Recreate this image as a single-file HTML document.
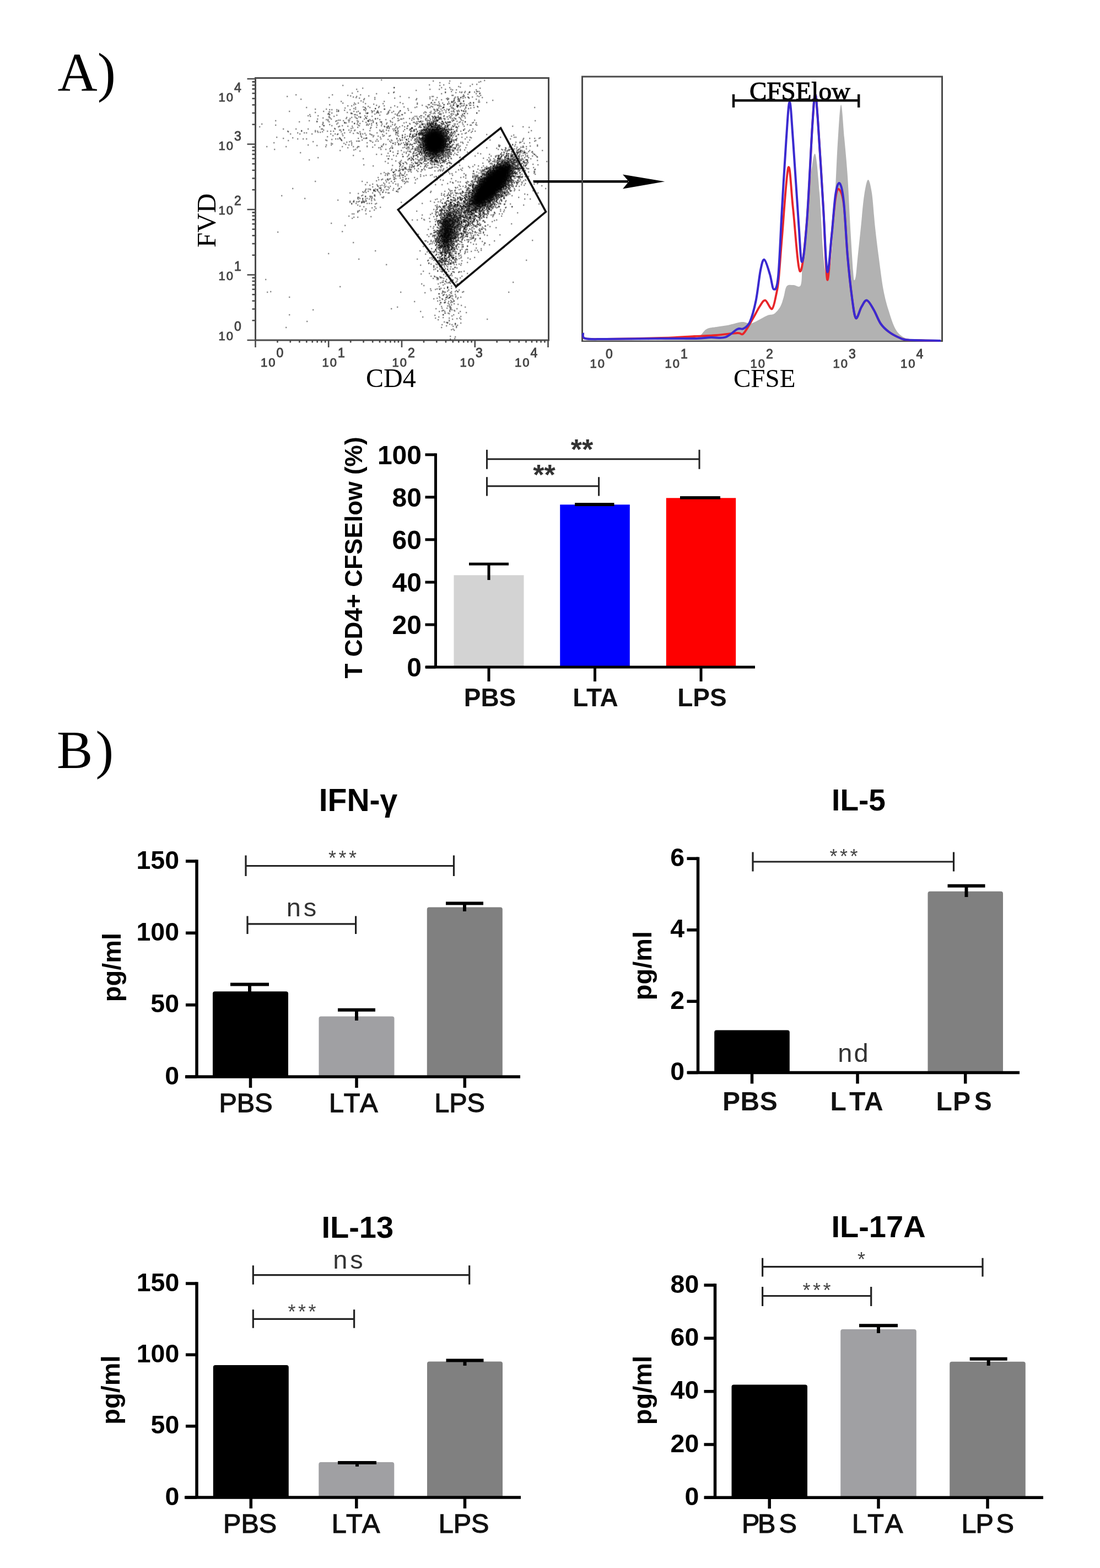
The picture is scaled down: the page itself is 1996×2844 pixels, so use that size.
<!DOCTYPE html>
<html><head><meta charset="utf-8"><title>Figure</title>
<style>html,body{margin:0;padding:0;background:#fff;overflow:hidden;}svg{display:block;}</style>
</head><body>
<svg width="1996" height="2844" viewBox="0 0 1996 2844">
<rect width="1996" height="2844" fill="#fff"/>
<text x="104.5" y="165.0" font-family="'Liberation Serif', 'Times New Roman', serif" font-size="100.0" font-weight="normal" fill="#000" text-anchor="start" >A)</text>
<text x="103.0" y="1392.6" font-family="'Liberation Serif', 'Times New Roman', serif" font-size="98.0" font-weight="normal" fill="#000" text-anchor="start" >B<tspan dx="5">)</tspan></text>
<rect x="463.5" y="141.5" width="532.0" height="475.5" fill="none" stroke="#4a4a4a" stroke-width="3"/>
<path d="M448.5 617.0H463.5 M457.5 581.3H463.5 M457.5 560.5H463.5 M457.5 545.7H463.5 M457.5 534.2H463.5 M457.5 524.8H463.5 M457.5 516.9H463.5 M457.5 510.0H463.5 M457.5 503.9H463.5 M448.5 498.5H463.5 M457.5 462.8H463.5 M457.5 442.0H463.5 M457.5 427.2H463.5 M457.5 415.7H463.5 M457.5 406.3H463.5 M457.5 398.4H463.5 M457.5 391.5H463.5 M457.5 385.4H463.5 M448.5 380.0H463.5 M457.5 344.3H463.5 M457.5 323.5H463.5 M457.5 308.7H463.5 M457.5 297.2H463.5 M457.5 287.8H463.5 M457.5 279.9H463.5 M457.5 273.0H463.5 M457.5 266.9H463.5 M448.5 261.5H463.5 M457.5 225.8H463.5 M457.5 205.0H463.5 M457.5 190.2H463.5 M457.5 178.7H463.5 M457.5 169.3H463.5 M457.5 161.4H463.5 M457.5 154.5H463.5 M457.5 148.4H463.5 M448.5 143.0H463.5 M463.5 617.0V630.0 M503.5 617.0V621.5 M526.8 617.0V621.5 M543.4 617.0V621.5 M556.3 617.0V621.5 M566.8 617.0V621.5 M575.7 617.0V621.5 M583.4 617.0V621.5 M590.2 617.0V621.5 M596.2 617.0V630.0 M636.2 617.0V621.5 M659.6 617.0V621.5 M676.2 617.0V621.5 M689.0 617.0V621.5 M699.5 617.0V621.5 M708.4 617.0V621.5 M716.1 617.0V621.5 M722.9 617.0V621.5 M729.0 617.0V630.0 M769.0 617.0V621.5 M792.3 617.0V621.5 M808.9 617.0V621.5 M821.8 617.0V621.5 M832.3 617.0V621.5 M841.2 617.0V621.5 M848.9 617.0V621.5 M855.7 617.0V621.5 M861.8 617.0V630.0 M901.7 617.0V621.5 M925.1 617.0V621.5 M941.7 617.0V621.5 M954.5 617.0V621.5 M965.0 617.0V621.5 M973.9 617.0V621.5 M981.6 617.0V621.5 M988.4 617.0V621.5 M994.5 617.0V630.0" stroke="#4a4a4a" stroke-width="2.6" fill="none"/>
<text x="396.5" y="184.0" font-family="'Liberation Sans', Arial, sans-serif" font-size="22.0" fill="#444" stroke="#444" stroke-width="0.9" letter-spacing="2">10<tspan dy="-17" font-size="23.0">4</tspan></text>
<text x="396.5" y="272.0" font-family="'Liberation Sans', Arial, sans-serif" font-size="22.0" fill="#444" stroke="#444" stroke-width="0.9" letter-spacing="2">10<tspan dy="-17" font-size="23.0">3</tspan></text>
<text x="396.5" y="388.5" font-family="'Liberation Sans', Arial, sans-serif" font-size="22.0" fill="#444" stroke="#444" stroke-width="0.9" letter-spacing="2">10<tspan dy="-17" font-size="23.0">2</tspan></text>
<text x="396.5" y="507.5" font-family="'Liberation Sans', Arial, sans-serif" font-size="22.0" fill="#444" stroke="#444" stroke-width="0.9" letter-spacing="2">10<tspan dy="-17" font-size="23.0">1</tspan></text>
<text x="396.5" y="617.0" font-family="'Liberation Sans', Arial, sans-serif" font-size="22.0" fill="#444" stroke="#444" stroke-width="0.9" letter-spacing="2">10<tspan dy="-17" font-size="23.0">0</tspan></text>
<text x="473.0" y="665.0" font-family="'Liberation Sans', Arial, sans-serif" font-size="22.0" fill="#444" stroke="#444" stroke-width="0.9" letter-spacing="2">10<tspan dy="-17" font-size="23.0">0</tspan></text>
<text x="584.5" y="665.0" font-family="'Liberation Sans', Arial, sans-serif" font-size="22.0" fill="#444" stroke="#444" stroke-width="0.9" letter-spacing="2">10<tspan dy="-17" font-size="23.0">1</tspan></text>
<text x="711.5" y="665.0" font-family="'Liberation Sans', Arial, sans-serif" font-size="22.0" fill="#444" stroke="#444" stroke-width="0.9" letter-spacing="2">10<tspan dy="-17" font-size="23.0">2</tspan></text>
<text x="834.5" y="665.0" font-family="'Liberation Sans', Arial, sans-serif" font-size="22.0" fill="#444" stroke="#444" stroke-width="0.9" letter-spacing="2">10<tspan dy="-17" font-size="23.0">3</tspan></text>
<text x="934.0" y="665.0" font-family="'Liberation Sans', Arial, sans-serif" font-size="22.0" fill="#444" stroke="#444" stroke-width="0.9" letter-spacing="2">10<tspan dy="-17" font-size="23.0">4</tspan></text>
<text x="664.0" y="702.0" font-family="'Liberation Serif', 'Times New Roman', serif" font-size="48.0" font-weight="normal" fill="#000" text-anchor="start" >CD4</text>
<text transform="translate(391,449) rotate(-90)" font-family="'Liberation Serif', 'Times New Roman', serif" font-size="49" fill="#000">FVD</text>
<defs><filter id="bl" x="-50%" y="-50%" width="200%" height="200%"><feGaussianBlur stdDeviation="5"/></filter><filter id="bd"><feGaussianBlur stdDeviation="0.6"/></filter></defs>
<g filter="url(#bl)" fill="#000">
<ellipse cx="788" cy="258" rx="19" ry="22"/>
<ellipse cx="892" cy="335" rx="50" ry="18" transform="rotate(-47.9 892 335)"/>
<ellipse cx="810" cy="420" rx="9" ry="28" fill-opacity="0.8" transform="rotate(7 810 420)"/>
</g>
<g stroke="#000" stroke-width="2.4" fill="none" stroke-opacity="0.45" filter="url(#bd)">
<path d="M816 367h2.4M782 269h2.4M832 202h2.4M797 269h2.4M807 266h2.4M797 269h2.4M644 189h2.4M867 339h2.4M809 231h2.4M949 293h2.4M781 187h2.4M882 349h2.4M856 176h2.4M660 216h2.4M775 255h2.4M882 332h2.4M903 346h2.4M882 337h2.4M796 424h2.4M877 347h2.4M804 285h2.4M783 317h2.4M826 389h2.4M863 369h2.4M917 321h2.4M659 375h2.4M901 322h2.4M808 442h2.4M802 264h2.4M785 234h2.4M783 262h2.4M752 211h2.4M793 261h2.4M798 470h2.4M878 349h2.4M797 430h2.4M798 213h2.4M830 371h2.4M804 273h2.4M762 265h2.4M917 322h2.4M807 412h2.4M796 453h2.4M869 348h2.4M779 162h2.4M781 225h2.4M871 148h2.4M866 407h2.4M778 154h2.4M911 332h2.4M891 374h2.4M792 262h2.4M803 403h2.4M652 360h2.4M842 398h2.4M830 406h2.4M675 334h2.4M800 384h2.4M931 299h2.4M788 262h2.4M804 250h2.4M880 345h2.4M886 333h2.4M871 329h2.4M807 222h2.4M925 291h2.4M939 306h2.4M905 342h2.4M897 322h2.4M763 220h2.4M841 420h2.4M902 322h2.4M882 360h2.4M921 319h2.4M931 285h2.4M786 255h2.4M785 263h2.4M802 422h2.4M787 259h2.4M914 294h2.4M652 274h2.4M684 346h2.4M919 304h2.4M812 266h2.4M876 357h2.4M792 418h2.4M845 425h2.4M913 318h2.4M835 393h2.4M804 439h2.4M811 585h2.4M793 239h2.4M883 345h2.4M885 323h2.4M812 283h2.4M881 348h2.4M792 267h2.4M813 476h2.4M808 258h2.4M805 461h2.4M821 185h2.4M720 234h2.4M875 369h2.4M585 222h2.4M725 175h2.4M799 436h2.4M894 318h2.4M834 407h2.4M777 273h2.4M877 355h2.4M873 364h2.4M818 399h2.4M800 449h2.4M780 259h2.4M898 345h2.4M914 311h2.4M792 284h2.4M818 428h2.4M803 402h2.4M808 425h2.4M790 241h2.4M888 326h2.4M773 249h2.4M763 241h2.4M803 416h2.4M807 427h2.4M796 246h2.4M906 327h2.4M786 227h2.4M928 300h2.4M792 256h2.4M793 492h2.4M892 312h2.4M773 256h2.4M799 446h2.4M833 382h2.4M812 352h2.4M719 251h2.4M774 457h2.4M798 243h2.4M904 338h2.4M902 323h2.4M888 353h2.4M878 340h2.4M793 430h2.4M758 275h2.4M767 273h2.4M799 206h2.4M806 415h2.4M916 310h2.4M812 431h2.4M896 355h2.4M921 332h2.4M892 326h2.4M799 387h2.4M893 335h2.4M921 308h2.4M798 239h2.4M910 335h2.4M934 301h2.4M790 247h2.4M878 342h2.4M874 353h2.4M781 256h2.4M794 267h2.4M869 388h2.4M802 264h2.4M810 250h2.4M905 318h2.4M825 371h2.4M794 376h2.4M812 403h2.4M915 348h2.4M798 262h2.4M819 246h2.4M812 443h2.4M911 334h2.4M835 395h2.4M883 351h2.4M714 213h2.4M794 259h2.4M779 231h2.4M967 304h2.4M748 266h2.4M856 359h2.4M833 418h2.4M799 394h2.4M801 246h2.4M807 409h2.4M818 373h2.4M803 232h2.4M803 285h2.4M816 445h2.4M824 381h2.4M827 592h2.4M903 349h2.4M889 352h2.4M896 349h2.4M808 396h2.4M808 399h2.4M752 269h2.4M870 374h2.4M893 327h2.4M894 331h2.4M663 343h2.4M799 258h2.4M864 318h2.4M829 386h2.4M791 224h2.4M806 398h2.4M844 356h2.4M826 210h2.4M608 220h2.4M891 325h2.4M816 373h2.4M852 156h2.4M792 239h2.4M819 433h2.4M803 374h2.4M799 261h2.4M834 454h2.4M847 369h2.4M810 421h2.4M751 260h2.4M811 521h2.4M792 379h2.4M892 350h2.4M790 303h2.4M666 219h2.4M857 412h2.4M821 508h2.4M782 242h2.4M919 298h2.4M793 241h2.4M806 446h2.4M889 323h2.4M776 262h2.4M864 366h2.4M840 356h2.4M896 347h2.4M953 300h2.4M904 314h2.4M788 254h2.4M805 382h2.4M863 391h2.4M785 265h2.4M880 356h2.4M821 411h2.4M865 351h2.4M814 429h2.4M775 240h2.4M800 260h2.4M820 399h2.4M814 444h2.4M876 400h2.4M783 270h2.4M806 255h2.4M842 436h2.4M804 266h2.4M795 287h2.4M647 225h2.4M787 269h2.4M802 427h2.4M860 360h2.4M792 234h2.4M854 375h2.4M709 560h2.4M907 304h2.4M798 260h2.4M783 245h2.4M869 343h2.4M880 355h2.4M892 352h2.4M816 432h2.4M902 346h2.4M806 439h2.4M791 260h2.4M852 379h2.4M805 478h2.4M827 393h2.4M820 448h2.4M832 400h2.4M898 342h2.4M799 484h2.4M886 339h2.4M821 399h2.4M809 276h2.4M898 329h2.4M775 273h2.4M897 329h2.4M872 357h2.4M770 274h2.4M827 417h2.4M807 261h2.4M867 348h2.4M808 235h2.4M843 252h2.4M927 328h2.4M908 306h2.4M879 325h2.4M800 432h2.4M785 281h2.4M906 313h2.4M785 263h2.4M818 445h2.4M858 365h2.4M869 352h2.4M898 329h2.4M892 344h2.4M802 447h2.4M813 416h2.4M894 331h2.4M821 268h2.4M784 238h2.4M795 251h2.4M806 401h2.4M818 432h2.4M804 431h2.4M857 420h2.4M823 404h2.4M802 438h2.4M790 254h2.4M804 264h2.4M841 384h2.4M864 320h2.4M811 432h2.4M868 314h2.4M793 433h2.4M874 416h2.4M833 286h2.4M868 339h2.4M886 379h2.4M933 289h2.4M799 268h2.4M898 319h2.4M916 321h2.4M800 254h2.4M934 302h2.4M774 246h2.4M814 425h2.4M823 390h2.4M879 324h2.4M915 320h2.4M882 341h2.4M901 292h2.4M722 247h2.4M784 261h2.4M934 314h2.4M909 283h2.4M758 292h2.4M801 255h2.4M897 319h2.4M862 324h2.4M782 243h2.4M862 373h2.4M887 335h2.4M810 279h2.4M812 243h2.4M824 418h2.4M786 256h2.4M807 162h2.4M828 386h2.4M771 265h2.4M806 274h2.4M794 473h2.4M808 414h2.4M808 416h2.4M790 254h2.4M634 350h2.4M788 256h2.4M866 355h2.4M900 321h2.4M806 446h2.4M810 400h2.4M789 239h2.4M836 378h2.4M801 247h2.4M803 437h2.4M792 246h2.4M788 259h2.4M865 346h2.4M808 425h2.4M817 426h2.4M842 358h2.4M826 381h2.4M915 333h2.4M811 277h2.4M771 282h2.4M830 410h2.4M903 271h2.4M902 345h2.4M777 236h2.4M796 213h2.4M649 187h2.4M870 333h2.4M898 316h2.4M809 265h2.4M888 374h2.4M811 434h2.4M789 264h2.4M828 486h2.4M749 277h2.4M866 367h2.4M795 424h2.4M844 417h2.4M787 265h2.4M897 310h2.4M829 367h2.4M832 399h2.4M601 228h2.4M882 342h2.4M696 246h2.4M793 253h2.4M812 420h2.4M824 346h2.4M912 356h2.4M914 358h2.4M840 202h2.4M864 357h2.4M885 325h2.4M782 268h2.4M931 303h2.4M730 307h2.4M817 415h2.4M887 347h2.4M968 334h2.4M783 280h2.4M901 291h2.4M789 250h2.4M876 366h2.4M837 379h2.4M902 292h2.4M805 429h2.4M801 271h2.4M827 280h2.4M913 330h2.4M812 279h2.4M873 329h2.4M900 309h2.4M878 356h2.4M825 424h2.4M807 245h2.4M738 284h2.4M885 332h2.4M815 259h2.4M787 266h2.4M830 529h2.4M867 327h2.4M896 301h2.4M885 334h2.4M775 261h2.4M815 345h2.4M807 407h2.4M909 319h2.4M917 269h2.4M790 255h2.4M901 324h2.4M780 246h2.4M760 250h2.4M888 327h2.4M830 191h2.4M792 257h2.4M790 258h2.4M903 332h2.4M780 275h2.4M778 263h2.4M814 405h2.4M752 294h2.4M835 381h2.4M904 342h2.4M894 332h2.4M815 256h2.4M791 261h2.4M776 455h2.4M860 370h2.4M916 313h2.4M816 416h2.4M735 325h2.4M853 191h2.4M834 396h2.4M872 367h2.4M841 419h2.4M786 222h2.4M827 384h2.4M900 323h2.4M799 447h2.4M870 408h2.4M794 244h2.4M724 297h2.4M868 359h2.4M815 539h2.4M793 259h2.4M804 432h2.4M788 292h2.4M777 265h2.4M848 372h2.4M810 418h2.4M904 321h2.4M797 242h2.4M774 220h2.4M796 222h2.4M899 335h2.4M897 353h2.4M970 219h2.4M836 378h2.4M700 480h2.4M788 275h2.4M914 371h2.4M870 390h2.4M810 401h2.4M800 238h2.4M813 426h2.4M802 257h2.4M883 345h2.4M795 257h2.4M922 306h2.4M893 329h2.4M858 429h2.4M835 238h2.4M808 425h2.4M632 392h2.4M827 402h2.4M823 390h2.4M831 379h2.4M867 375h2.4M828 388h2.4M741 267h2.4M859 398h2.4M711 222h2.4M679 354h2.4M927 337h2.4M766 240h2.4M895 336h2.4M797 264h2.4M781 230h2.4M911 305h2.4M908 313h2.4M908 320h2.4M790 246h2.4M784 267h2.4M881 346h2.4M791 277h2.4M816 421h2.4M813 227h2.4M812 419h2.4M940 298h2.4M899 337h2.4M812 448h2.4M835 258h2.4M794 212h2.4M904 319h2.4M737 254h2.4M731 297h2.4M944 258h2.4M805 475h2.4M817 395h2.4M916 329h2.4M804 275h2.4M773 248h2.4M896 360h2.4M826 380h2.4M845 345h2.4M922 287h2.4M808 406h2.4M895 326h2.4M912 321h2.4M918 283h2.4M949 301h2.4M771 248h2.4M918 304h2.4M757 295h2.4M799 259h2.4M781 264h2.4M922 350h2.4M903 332h2.4M738 247h2.4M852 407h2.4M800 246h2.4M913 339h2.4M782 244h2.4M915 322h2.4M724 316h2.4M881 357h2.4M875 362h2.4M819 439h2.4M874 316h2.4M811 401h2.4M808 438h2.4M800 159h2.4M898 342h2.4M869 354h2.4M842 413h2.4M907 328h2.4M892 329h2.4M773 268h2.4M854 335h2.4M796 429h2.4M779 278h2.4M768 260h2.4M753 278h2.4M902 338h2.4M875 316h2.4M965 436h2.4M840 369h2.4M797 234h2.4M524 571h2.4M889 335h2.4M683 241h2.4M822 218h2.4M814 407h2.4M815 385h2.4M774 271h2.4M789 243h2.4M902 323h2.4M813 261h2.4M811 243h2.4M788 268h2.4M813 390h2.4M857 352h2.4M896 329h2.4M813 179h2.4M805 481h2.4M696 313h2.4M882 314h2.4M875 308h2.4M836 425h2.4M810 391h2.4M738 259h2.4M862 372h2.4M793 229h2.4M776 266h2.4M783 279h2.4M827 416h2.4M901 326h2.4M814 418h2.4M824 426h2.4M823 563h2.4M769 278h2.4M819 407h2.4M780 253h2.4M805 391h2.4M878 403h2.4M935 314h2.4M762 261h2.4M788 267h2.4M787 272h2.4M798 269h2.4M863 412h2.4M804 416h2.4M985 330h2.4M903 355h2.4M780 262h2.4M868 371h2.4M724 306h2.4M805 251h2.4M780 226h2.4M811 385h2.4M787 275h2.4M650 266h2.4M788 246h2.4M805 462h2.4M796 244h2.4M872 337h2.4M788 275h2.4M796 439h2.4M892 402h2.4M887 345h2.4M778 258h2.4M811 438h2.4M869 366h2.4M779 248h2.4M873 353h2.4M799 397h2.4M812 249h2.4M910 308h2.4M803 195h2.4M911 330h2.4M886 330h2.4M821 597h2.4M818 523h2.4M882 338h2.4M815 500h2.4M781 205h2.4M891 344h2.4M795 254h2.4M803 264h2.4M872 344h2.4M789 224h2.4M795 269h2.4M795 440h2.4M877 348h2.4M585 214h2.4M872 374h2.4M897 343h2.4M782 245h2.4M917 339h2.4M558 210h2.4M793 246h2.4M811 359h2.4M935 292h2.4M789 270h2.4M772 289h2.4M906 342h2.4M938 276h2.4M903 331h2.4M796 268h2.4M884 340h2.4M894 333h2.4M891 333h2.4M885 351h2.4M768 263h2.4M860 391h2.4M637 263h2.4M907 320h2.4M861 351h2.4M781 246h2.4M888 317h2.4M798 404h2.4M926 324h2.4M857 346h2.4M776 416h2.4M850 366h2.4M921 329h2.4M775 257h2.4M891 344h2.4M872 315h2.4M858 382h2.4M771 236h2.4M918 304h2.4M782 287h2.4M894 346h2.4M900 317h2.4M777 259h2.4M856 386h2.4M772 254h2.4M897 329h2.4M883 346h2.4M846 409h2.4M890 332h2.4M770 236h2.4M793 262h2.4M822 388h2.4M788 270h2.4M805 226h2.4M963 237h2.4M782 254h2.4M886 322h2.4M873 338h2.4M871 359h2.4M787 422h2.4M788 248h2.4M815 188h2.4M811 488h2.4M841 415h2.4M799 458h2.4M798 274h2.4M852 364h2.4M707 338h2.4M820 439h2.4M870 359h2.4M864 385h2.4M899 339h2.4M880 354h2.4M823 225h2.4M817 357h2.4M899 304h2.4M862 343h2.4M794 281h2.4M846 331h2.4M867 383h2.4M779 224h2.4M748 244h2.4M920 303h2.4M863 355h2.4M855 363h2.4M809 417h2.4M803 277h2.4M890 336h2.4M818 258h2.4M728 208h2.4M822 354h2.4M813 448h2.4M874 318h2.4M805 534h2.4M815 245h2.4M800 247h2.4M908 312h2.4M908 279h2.4M912 320h2.4M806 416h2.4M835 374h2.4M794 234h2.4M822 396h2.4M825 456h2.4M871 408h2.4M818 519h2.4M813 466h2.4M881 342h2.4M872 320h2.4M872 355h2.4M752 272h2.4M717 244h2.4M787 236h2.4M828 416h2.4M848 368h2.4M889 341h2.4M754 282h2.4M890 345h2.4M923 287h2.4M869 364h2.4M861 382h2.4M785 467h2.4M767 256h2.4M772 270h2.4M805 255h2.4M887 362h2.4M793 504h2.4M784 244h2.4M807 273h2.4M874 326h2.4M775 267h2.4M817 484h2.4M883 334h2.4M787 244h2.4M663 379h2.4M818 202h2.4M785 247h2.4M826 465h2.4M866 360h2.4M873 374h2.4M838 207h2.4M803 241h2.4M881 371h2.4M831 264h2.4M819 405h2.4M791 233h2.4M888 311h2.4M796 265h2.4M638 221h2.4M797 248h2.4M918 298h2.4M880 361h2.4M802 221h2.4M873 337h2.4M839 444h2.4M691 145h2.4M899 328h2.4M865 341h2.4M809 445h2.4M919 330h2.4M814 474h2.4M813 458h2.4M803 430h2.4M816 538h2.4M776 247h2.4M883 323h2.4M811 279h2.4M785 259h2.4M777 244h2.4M833 417h2.4M829 413h2.4M779 277h2.4M912 316h2.4M797 258h2.4M931 281h2.4M820 318h2.4M805 484h2.4M903 336h2.4M890 314h2.4M908 357h2.4M861 426h2.4M811 447h2.4M829 397h2.4M856 382h2.4M786 250h2.4M817 560h2.4M807 291h2.4M892 327h2.4M780 266h2.4M820 400h2.4M814 235h2.4M802 415h2.4M789 260h2.4M712 332h2.4M864 358h2.4M778 254h2.4M832 526h2.4M861 391h2.4M787 257h2.4M812 429h2.4M896 361h2.4M797 253h2.4M631 218h2.4M789 241h2.4M845 397h2.4M802 258h2.4M758 258h2.4M881 345h2.4M869 334h2.4M849 197h2.4M910 314h2.4M779 283h2.4M787 260h2.4M813 434h2.4M825 365h2.4M887 355h2.4M812 271h2.4M842 378h2.4M887 362h2.4M896 324h2.4M859 415h2.4M811 251h2.4M799 237h2.4M886 326h2.4M874 366h2.4M795 263h2.4M798 246h2.4M904 326h2.4M865 174h2.4M800 393h2.4M910 334h2.4M905 320h2.4M918 320h2.4M910 290h2.4M897 329h2.4M817 256h2.4M697 334h2.4M884 345h2.4M842 375h2.4M641 190h2.4M798 247h2.4M782 242h2.4M710 204h2.4M850 399h2.4M785 253h2.4M662 356h2.4M783 272h2.4M822 191h2.4M876 346h2.4M775 251h2.4M803 282h2.4M773 292h2.4M852 345h2.4M913 341h2.4M801 268h2.4M894 333h2.4M877 351h2.4M871 353h2.4M786 273h2.4M824 432h2.4M781 527h2.4M888 336h2.4M801 512h2.4M911 315h2.4M772 246h2.4M881 346h2.4M786 257h2.4M897 304h2.4M896 324h2.4M851 361h2.4M843 242h2.4M800 216h2.4M894 335h2.4M809 381h2.4M796 265h2.4M824 438h2.4M657 366h2.4M856 370h2.4M787 267h2.4M914 318h2.4M881 356h2.4M780 365h2.4M853 374h2.4M889 337h2.4M783 273h2.4M892 328h2.4M840 400h2.4M863 318h2.4M802 472h2.4M875 340h2.4M900 363h2.4M807 413h2.4M761 227h2.4M892 351h2.4M814 417h2.4M843 409h2.4M770 531h2.4M801 335h2.4M622 219h2.4M890 333h2.4M896 317h2.4M905 331h2.4M890 355h2.4M673 224h2.4M879 370h2.4M877 391h2.4M872 356h2.4M863 355h2.4M887 333h2.4M892 338h2.4M921 311h2.4M659 251h2.4M879 342h2.4M726 216h2.4M671 344h2.4M793 267h2.4M780 254h2.4M799 252h2.4M651 382h2.4M761 277h2.4M883 370h2.4M816 426h2.4M867 348h2.4M779 273h2.4M888 352h2.4M783 241h2.4M867 327h2.4M927 247h2.4M883 382h2.4M770 270h2.4M896 299h2.4M895 331h2.4M789 279h2.4M737 297h2.4M870 368h2.4M832 424h2.4M876 414h2.4M780 262h2.4M771 253h2.4M932 323h2.4M806 434h2.4M787 299h2.4M921 332h2.4M914 329h2.4M792 261h2.4M904 311h2.4M876 324h2.4M829 452h2.4M951 313h2.4M818 433h2.4M925 324h2.4M886 352h2.4M912 300h2.4M941 296h2.4M927 301h2.4M802 318h2.4M825 429h2.4M811 227h2.4M821 202h2.4M807 221h2.4M884 343h2.4M907 318h2.4M821 455h2.4M789 271h2.4M864 374h2.4M841 403h2.4M775 245h2.4M823 449h2.4M912 314h2.4M885 318h2.4M871 407h2.4M908 343h2.4M858 186h2.4M814 372h2.4M812 180h2.4M772 288h2.4M820 432h2.4M824 390h2.4M837 401h2.4M914 313h2.4M820 493h2.4M889 334h2.4M806 395h2.4M797 483h2.4M778 266h2.4M849 370h2.4M753 224h2.4M806 403h2.4M689 249h2.4M896 336h2.4M792 293h2.4M877 372h2.4M861 377h2.4M647 268h2.4M625 196h2.4M782 253h2.4M894 341h2.4M710 289h2.4M926 329h2.4M893 377h2.4M905 358h2.4M868 375h2.4M796 248h2.4M850 404h2.4M798 261h2.4M856 153h2.4M936 288h2.4M681 378h2.4M815 258h2.4M784 249h2.4M786 247h2.4M917 302h2.4M769 265h2.4M793 423h2.4M791 226h2.4M865 332h2.4M876 357h2.4M893 352h2.4M851 367h2.4M796 262h2.4M886 341h2.4M800 446h2.4M653 172h2.4M872 340h2.4M784 271h2.4M893 336h2.4M899 318h2.4M807 417h2.4M747 233h2.4M939 276h2.4M824 373h2.4M910 302h2.4M796 291h2.4M881 349h2.4M909 303h2.4M785 262h2.4M810 431h2.4M913 357h2.4M896 324h2.4M787 251h2.4M852 337h2.4M784 269h2.4M915 288h2.4M901 344h2.4M844 428h2.4M906 332h2.4M856 391h2.4M813 396h2.4M896 400h2.4M887 379h2.4M804 262h2.4M582 234h2.4M828 351h2.4M900 300h2.4M855 365h2.4M782 260h2.4M907 324h2.4M889 336h2.4M931 306h2.4M791 288h2.4M913 343h2.4M804 294h2.4M932 313h2.4M778 246h2.4M811 354h2.4M790 455h2.4M787 290h2.4M882 302h2.4M877 345h2.4M594 207h2.4M805 407h2.4M785 253h2.4M893 347h2.4M869 375h2.4M782 278h2.4M883 382h2.4M893 324h2.4M854 364h2.4M804 450h2.4M797 251h2.4M921 289h2.4M822 467h2.4M778 254h2.4M837 368h2.4M787 258h2.4M808 256h2.4M803 266h2.4M812 438h2.4M936 285h2.4M765 308h2.4M675 258h2.4M824 564h2.4M812 396h2.4M948 289h2.4M780 235h2.4M907 383h2.4M816 407h2.4M910 339h2.4M848 403h2.4M831 370h2.4M807 260h2.4M620 243h2.4M818 419h2.4M812 261h2.4M601 205h2.4M806 430h2.4M849 378h2.4M921 302h2.4M879 415h2.4M781 246h2.4M812 444h2.4M795 196h2.4M793 274h2.4M779 270h2.4M884 371h2.4M887 338h2.4M772 292h2.4M836 424h2.4M835 151h2.4M819 414h2.4M799 244h2.4M632 221h2.4M799 233h2.4M754 245h2.4M708 229h2.4M777 243h2.4M802 301h2.4M882 357h2.4M885 374h2.4M921 292h2.4M797 401h2.4M802 411h2.4M864 341h2.4M791 253h2.4M762 231h2.4M809 494h2.4M786 242h2.4M801 251h2.4M917 327h2.4M805 523h2.4M776 249h2.4M790 268h2.4M896 339h2.4M884 317h2.4M890 377h2.4M991 293h2.4M894 343h2.4M757 284h2.4M798 245h2.4M825 611h2.4M793 260h2.4M914 315h2.4M785 260h2.4M804 243h2.4M817 374h2.4M890 319h2.4M934 305h2.4M887 342h2.4M912 330h2.4M907 315h2.4M819 372h2.4M897 346h2.4M812 247h2.4M867 324h2.4M862 361h2.4M879 344h2.4M923 319h2.4M876 301h2.4M852 186h2.4M713 168h2.4M803 254h2.4M840 407h2.4M803 387h2.4M766 255h2.4M849 238h2.4M907 316h2.4M812 287h2.4M779 259h2.4M790 271h2.4M821 592h2.4M845 567h2.4M912 282h2.4M775 258h2.4M886 364h2.4M796 280h2.4M800 256h2.4M779 250h2.4M811 434h2.4M686 326h2.4M775 247h2.4M805 434h2.4M912 323h2.4M796 266h2.4M794 268h2.4M790 256h2.4M796 400h2.4M920 315h2.4M776 260h2.4M817 392h2.4M780 249h2.4M791 376h2.4M864 370h2.4M916 302h2.4M875 372h2.4M866 374h2.4M784 229h2.4M872 416h2.4M753 296h2.4M840 370h2.4M810 212h2.4M814 397h2.4M807 440h2.4M891 351h2.4M719 241h2.4M720 258h2.4M824 414h2.4M882 352h2.4M792 230h2.4M837 201h2.4M800 594h2.4M900 269h2.4M861 369h2.4M894 307h2.4M899 311h2.4M845 191h2.4M825 475h2.4M805 234h2.4M878 353h2.4M777 240h2.4M651 365h2.4M790 258h2.4M940 322h2.4M794 250h2.4M975 331h2.4M913 326h2.4M805 253h2.4M865 319h2.4M792 243h2.4M877 361h2.4M893 329h2.4M787 254h2.4M969 256h2.4M784 226h2.4M899 306h2.4M876 316h2.4M895 324h2.4M796 236h2.4M904 263h2.4M866 360h2.4M782 239h2.4M883 355h2.4M851 362h2.4M882 358h2.4M742 246h2.4M922 307h2.4M789 269h2.4M971 255h2.4M934 307h2.4M942 304h2.4M778 269h2.4M825 485h2.4M885 324h2.4M679 375h2.4M782 239h2.4M767 246h2.4M813 254h2.4M892 352h2.4M909 326h2.4M869 336h2.4M884 363h2.4M813 390h2.4M814 222h2.4M866 361h2.4M818 437h2.4M792 248h2.4M941 282h2.4M945 283h2.4M667 193h2.4M895 334h2.4M875 324h2.4M784 285h2.4M838 223h2.4M928 375h2.4M927 275h2.4M861 355h2.4M815 391h2.4M802 369h2.4M862 368h2.4M836 403h2.4M818 363h2.4M771 262h2.4M865 405h2.4M890 336h2.4M927 299h2.4M510 355h2.4M824 278h2.4M911 315h2.4M785 282h2.4M773 248h2.4M881 342h2.4M772 277h2.4M841 394h2.4M870 378h2.4M678 381h2.4M806 549h2.4M815 415h2.4M779 240h2.4M914 320h2.4M899 338h2.4M772 234h2.4M830 436h2.4M903 326h2.4M801 559h2.4M893 370h2.4M873 367h2.4M843 365h2.4M820 433h2.4M869 388h2.4M730 268h2.4M885 338h2.4M777 248h2.4M613 202h2.4M829 394h2.4M758 306h2.4M814 555h2.4M782 249h2.4M835 322h2.4M710 307h2.4M922 337h2.4M863 366h2.4M919 324h2.4M820 429h2.4M850 346h2.4M786 231h2.4M853 401h2.4M872 366h2.4M822 417h2.4M855 430h2.4M885 338h2.4M834 380h2.4M901 329h2.4M926 316h2.4M930 337h2.4M946 321h2.4M920 293h2.4M796 441h2.4M793 265h2.4M841 202h2.4M705 233h2.4M844 393h2.4M758 268h2.4M866 378h2.4M688 236h2.4M788 261h2.4M773 257h2.4M791 264h2.4M875 351h2.4M774 272h2.4M871 420h2.4M786 198h2.4M779 245h2.4M896 385h2.4M801 280h2.4M775 253h2.4M903 323h2.4M850 355h2.4M889 332h2.4M804 259h2.4M789 373h2.4M909 299h2.4M784 253h2.4M802 429h2.4M888 346h2.4M881 342h2.4M793 257h2.4M800 264h2.4M875 348h2.4M871 363h2.4M824 198h2.4M776 273h2.4M817 472h2.4M807 464h2.4M798 268h2.4M804 289h2.4M843 392h2.4M789 274h2.4M812 449h2.4M792 273h2.4M911 329h2.4M773 247h2.4M870 344h2.4M798 326h2.4M951 277h2.4M913 337h2.4M860 348h2.4M818 415h2.4M822 397h2.4M847 385h2.4M821 384h2.4M791 218h2.4M821 410h2.4M783 255h2.4M902 329h2.4M791 227h2.4M730 309h2.4M766 252h2.4M886 323h2.4M903 360h2.4M807 447h2.4M761 274h2.4M689 342h2.4M800 476h2.4M796 248h2.4M777 305h2.4M919 324h2.4M873 381h2.4M906 343h2.4M765 261h2.4M791 260h2.4M793 242h2.4M818 435h2.4M782 269h2.4M613 230h2.4M792 262h2.4M809 273h2.4M855 377h2.4M869 359h2.4M812 446h2.4M809 395h2.4M919 304h2.4M798 279h2.4M914 348h2.4M827 230h2.4M816 458h2.4M889 321h2.4M810 267h2.4M806 268h2.4M821 431h2.4M789 262h2.4M772 299h2.4M847 429h2.4M862 356h2.4M787 299h2.4M818 496h2.4M674 245h2.4M898 334h2.4M782 271h2.4M913 302h2.4M736 278h2.4M881 346h2.4M772 269h2.4M640 282h2.4M873 336h2.4M863 443h2.4M879 381h2.4M949 251h2.4M784 237h2.4M892 377h2.4M863 378h2.4M649 351h2.4M800 405h2.4M821 379h2.4M791 248h2.4M773 284h2.4M797 257h2.4M907 310h2.4M876 351h2.4M790 258h2.4M725 313h2.4M803 267h2.4M781 274h2.4M882 347h2.4M852 394h2.4M865 379h2.4M788 398h2.4M887 360h2.4M855 396h2.4M857 302h2.4M783 235h2.4M793 252h2.4M784 250h2.4M856 345h2.4M812 449h2.4M916 313h2.4M780 287h2.4M896 336h2.4M896 335h2.4M832 378h2.4M793 229h2.4M804 436h2.4M792 447h2.4M800 247h2.4M936 300h2.4M831 385h2.4M712 260h2.4M803 237h2.4M807 167h2.4M876 368h2.4M870 368h2.4M935 329h2.4M942 270h2.4M903 320h2.4M802 408h2.4M680 197h2.4M758 257h2.4M824 453h2.4M893 335h2.4M806 252h2.4M796 227h2.4M817 241h2.4M806 451h2.4M905 302h2.4M781 232h2.4M785 276h2.4M918 302h2.4M933 307h2.4M797 459h2.4M924 298h2.4M939 308h2.4M803 272h2.4M818 421h2.4M875 356h2.4M910 289h2.4M594 217h2.4M918 341h2.4M808 311h2.4M868 175h2.4M896 363h2.4M834 391h2.4M818 437h2.4M826 208h2.4M817 370h2.4M813 283h2.4M907 286h2.4M791 253h2.4M877 338h2.4M880 356h2.4M782 273h2.4M787 430h2.4M913 323h2.4M801 269h2.4M868 321h2.4M802 462h2.4M813 431h2.4M916 312h2.4M885 341h2.4M840 386h2.4M834 504h2.4M788 502h2.4M871 353h2.4M933 278h2.4M902 304h2.4M796 520h2.4M860 368h2.4M885 326h2.4M806 468h2.4M826 412h2.4M596 207h2.4M792 287h2.4M807 425h2.4M874 360h2.4M948 278h2.4M802 413h2.4M835 343h2.4M889 381h2.4M777 219h2.4M775 262h2.4M809 240h2.4M862 362h2.4M795 264h2.4M918 334h2.4M781 228h2.4M929 281h2.4M805 402h2.4M769 399h2.4M799 471h2.4M895 323h2.4M826 411h2.4M845 406h2.4M827 163h2.4M885 368h2.4M928 298h2.4M830 540h2.4M922 342h2.4M793 237h2.4M818 414h2.4M630 229h2.4M908 327h2.4M790 439h2.4M904 287h2.4M779 258h2.4M818 422h2.4M816 464h2.4M886 334h2.4M822 273h2.4M694 188h2.4M911 318h2.4M796 404h2.4M831 417h2.4M888 367h2.4M900 340h2.4M789 257h2.4M924 308h2.4M747 215h2.4M753 288h2.4M792 277h2.4M793 251h2.4M851 370h2.4M782 260h2.4M829 402h2.4M858 379h2.4M762 287h2.4M910 334h2.4M805 258h2.4M769 255h2.4M780 250h2.4M897 311h2.4M901 315h2.4M792 259h2.4M770 278h2.4M812 447h2.4M811 435h2.4M906 322h2.4M797 400h2.4M821 422h2.4M687 341h2.4M769 288h2.4M786 280h2.4M809 482h2.4M800 420h2.4M805 258h2.4M977 370h2.4M831 460h2.4M918 323h2.4M904 343h2.4M765 290h2.4M906 336h2.4M787 245h2.4M812 243h2.4M895 302h2.4M822 434h2.4M829 263h2.4M908 308h2.4M875 323h2.4M803 442h2.4M822 424h2.4M592 255h2.4M890 341h2.4M781 251h2.4M796 216h2.4M800 245h2.4M882 320h2.4M868 337h2.4M845 428h2.4M847 426h2.4M909 333h2.4M827 400h2.4M888 326h2.4M799 261h2.4M752 273h2.4M830 179h2.4M799 549h2.4M882 318h2.4M783 255h2.4M755 259h2.4M857 360h2.4M791 243h2.4M819 264h2.4M916 326h2.4M753 269h2.4M946 289h2.4M868 323h2.4M772 229h2.4M736 276h2.4M820 440h2.4M888 354h2.4M646 256h2.4M642 224h2.4M782 241h2.4M789 249h2.4M813 283h2.4M790 284h2.4M788 251h2.4M789 249h2.4M844 194h2.4M801 256h2.4M772 218h2.4M873 351h2.4M774 270h2.4M873 325h2.4M820 404h2.4M932 291h2.4M788 250h2.4M834 359h2.4M793 259h2.4M833 381h2.4M805 375h2.4M875 296h2.4M889 342h2.4M791 432h2.4M775 300h2.4M716 262h2.4M813 415h2.4M790 214h2.4M876 349h2.4M897 337h2.4M800 274h2.4M813 380h2.4M904 321h2.4M876 394h2.4M869 170h2.4M878 366h2.4M815 424h2.4M776 255h2.4M818 387h2.4M839 260h2.4M797 255h2.4M781 251h2.4M793 283h2.4M793 232h2.4M798 395h2.4M761 251h2.4M877 351h2.4M778 252h2.4M792 269h2.4M793 252h2.4M873 351h2.4M706 270h2.4M796 433h2.4M920 335h2.4M641 272h2.4M889 347h2.4M816 368h2.4M784 267h2.4M903 338h2.4M814 248h2.4M799 460h2.4M887 351h2.4M817 247h2.4M951 311h2.4M804 451h2.4M791 269h2.4M872 331h2.4M812 424h2.4M893 324h2.4M805 431h2.4M845 407h2.4M763 275h2.4M803 474h2.4M649 242h2.4M834 417h2.4M804 431h2.4M882 348h2.4M804 269h2.4M896 346h2.4M805 260h2.4M825 225h2.4M905 326h2.4M724 302h2.4M752 282h2.4M803 400h2.4M775 229h2.4M890 345h2.4M911 356h2.4M855 405h2.4M809 234h2.4M883 371h2.4M828 409h2.4M887 329h2.4M939 298h2.4M658 365h2.4M810 278h2.4M779 263h2.4M807 264h2.4M805 256h2.4M823 407h2.4M945 291h2.4M861 359h2.4M871 391h2.4M908 305h2.4M870 330h2.4M866 365h2.4M853 370h2.4M883 359h2.4M899 336h2.4M815 260h2.4M848 364h2.4M851 350h2.4M817 395h2.4M885 338h2.4M891 349h2.4M915 307h2.4M819 439h2.4M797 252h2.4M877 349h2.4M901 338h2.4M783 264h2.4M780 274h2.4M672 231h2.4M871 349h2.4M787 249h2.4M768 260h2.4M813 235h2.4M750 303h2.4M903 340h2.4M823 187h2.4M906 318h2.4M812 409h2.4M867 343h2.4M858 191h2.4M811 429h2.4M784 256h2.4M882 325h2.4M838 400h2.4M811 387h2.4M812 474h2.4M848 382h2.4M802 248h2.4M788 264h2.4M806 266h2.4M867 386h2.4M884 342h2.4M921 302h2.4M916 337h2.4M873 338h2.4M870 349h2.4M804 437h2.4M881 371h2.4M833 167h2.4M772 272h2.4M903 317h2.4M803 401h2.4M883 326h2.4M798 256h2.4M877 342h2.4M882 317h2.4M814 430h2.4M909 340h2.4M900 319h2.4M907 316h2.4M827 253h2.4M915 318h2.4M868 394h2.4M787 285h2.4M823 494h2.4M920 340h2.4M816 455h2.4M850 357h2.4M816 400h2.4M875 325h2.4M847 369h2.4M796 449h2.4M775 238h2.4M780 318h2.4M875 374h2.4M785 246h2.4M866 344h2.4M950 336h2.4M761 258h2.4M814 463h2.4M807 530h2.4M518 594h2.4M933 301h2.4M864 366h2.4M755 252h2.4M879 331h2.4M876 342h2.4M796 260h2.4M810 433h2.4M648 385h2.4M690 341h2.4M688 209h2.4M788 267h2.4M896 328h2.4M931 301h2.4M801 258h2.4M903 293h2.4M834 565h2.4M922 530h2.4M887 324h2.4M909 353h2.4M894 331h2.4M781 251h2.4M888 353h2.4M872 364h2.4M793 191h2.4M816 511h2.4M930 302h2.4M909 392h2.4M866 358h2.4M907 328h2.4M791 274h2.4M474 225h2.4M755 273h2.4M899 335h2.4M821 417h2.4M788 288h2.4M789 254h2.4M806 258h2.4M928 314h2.4M766 220h2.4M903 310h2.4M877 353h2.4M910 314h2.4M787 284h2.4M801 256h2.4M864 370h2.4M889 349h2.4M891 323h2.4M917 325h2.4M914 338h2.4M828 396h2.4M844 364h2.4M872 334h2.4M811 251h2.4M930 315h2.4M788 272h2.4M881 345h2.4M870 418h2.4M816 531h2.4M895 312h2.4M648 231h2.4M799 412h2.4M861 358h2.4M850 399h2.4M793 276h2.4M782 265h2.4M810 261h2.4M908 305h2.4M796 188h2.4M813 350h2.4M914 306h2.4M768 398h2.4M889 332h2.4M779 245h2.4M727 273h2.4M725 308h2.4M918 283h2.4M811 212h2.4M821 377h2.4M888 349h2.4M791 254h2.4M826 403h2.4M911 337h2.4M790 260h2.4M867 362h2.4M812 180h2.4M771 273h2.4M866 347h2.4M794 432h2.4M900 322h2.4M804 431h2.4M817 439h2.4M575 216h2.4M567 257h2.4M792 283h2.4M928 312h2.4M900 316h2.4M775 260h2.4M881 349h2.4M807 479h2.4M786 244h2.4M842 401h2.4M886 355h2.4M814 569h2.4M793 244h2.4M889 309h2.4M813 365h2.4M894 331h2.4M901 331h2.4M945 335h2.4M781 260h2.4M883 359h2.4M824 412h2.4M794 426h2.4M799 251h2.4M793 401h2.4M895 331h2.4M871 356h2.4M747 269h2.4M929 270h2.4M825 421h2.4M875 382h2.4M855 359h2.4M829 542h2.4M783 253h2.4M914 381h2.4M884 338h2.4M889 345h2.4M672 219h2.4M694 247h2.4M755 277h2.4M902 340h2.4M857 368h2.4M923 331h2.4M846 380h2.4M865 332h2.4M899 328h2.4M780 246h2.4M805 259h2.4M860 369h2.4M808 427h2.4M743 234h2.4M818 416h2.4M854 240h2.4M886 322h2.4M716 259h2.4M861 341h2.4M818 196h2.4M764 242h2.4M809 371h2.4M881 316h2.4M973 284h2.4M787 257h2.4M835 463h2.4M787 266h2.4M824 420h2.4M803 205h2.4M799 251h2.4M624 222h2.4M747 302h2.4M901 312h2.4M940 324h2.4M779 255h2.4M857 401h2.4M918 334h2.4M880 335h2.4M924 315h2.4M809 248h2.4M906 292h2.4M921 309h2.4M885 375h2.4M909 332h2.4M872 349h2.4M905 322h2.4M885 315h2.4M875 338h2.4M831 396h2.4M927 305h2.4M811 238h2.4M802 250h2.4M809 387h2.4M796 274h2.4M879 355h2.4M850 389h2.4M792 295h2.4M673 364h2.4M834 273h2.4M824 400h2.4M792 248h2.4M902 304h2.4M907 331h2.4M797 293h2.4M735 258h2.4M797 266h2.4M804 471h2.4M801 245h2.4M816 444h2.4M789 291h2.4M908 308h2.4M886 343h2.4M788 249h2.4M839 399h2.4M788 433h2.4M785 262h2.4M822 412h2.4M869 185h2.4M875 346h2.4M784 260h2.4M889 313h2.4M865 336h2.4M822 256h2.4M849 373h2.4M806 444h2.4M852 384h2.4M833 443h2.4M813 434h2.4M909 305h2.4M796 265h2.4M884 345h2.4M867 373h2.4M785 242h2.4M911 318h2.4M839 192h2.4M815 409h2.4M935 295h2.4M900 322h2.4M783 279h2.4M917 315h2.4M917 291h2.4M803 259h2.4M792 255h2.4M785 271h2.4M895 313h2.4M857 366h2.4M871 357h2.4M884 354h2.4M811 266h2.4M818 400h2.4M914 350h2.4M877 329h2.4M908 322h2.4M785 259h2.4M672 393h2.4M781 256h2.4M807 403h2.4M794 281h2.4M776 472h2.4M846 452h2.4M790 270h2.4M908 341h2.4M649 227h2.4M722 261h2.4M819 423h2.4M901 316h2.4M777 251h2.4M771 279h2.4M876 335h2.4M838 375h2.4M618 254h2.4M880 347h2.4M906 336h2.4M812 238h2.4M789 278h2.4M841 419h2.4M872 374h2.4M816 368h2.4M786 489h2.4M846 355h2.4M741 280h2.4M892 333h2.4M791 245h2.4M865 166h2.4M907 321h2.4M890 336h2.4M768 250h2.4M824 471h2.4M888 361h2.4M786 393h2.4M779 250h2.4M877 364h2.4M894 345h2.4"/>
<path d="M790 237h2.4M856 405h2.4M849 381h2.4M662 196h2.4M915 284h2.4M807 451h2.4M801 437h2.4M885 346h2.4M793 248h2.4M886 364h2.4M876 422h2.4M828 414h2.4M881 338h2.4M776 283h2.4M849 342h2.4M779 254h2.4M803 274h2.4M794 401h2.4M789 256h2.4M906 302h2.4M782 279h2.4M882 367h2.4M869 353h2.4M817 463h2.4M885 388h2.4M725 186h2.4M872 347h2.4M818 267h2.4M794 267h2.4M799 469h2.4M871 360h2.4M906 354h2.4M799 448h2.4M913 323h2.4M853 371h2.4M772 259h2.4M823 413h2.4M964 276h2.4M918 318h2.4M956 284h2.4M949 295h2.4M901 322h2.4M812 397h2.4M791 245h2.4M831 229h2.4M843 166h2.4M862 364h2.4M813 387h2.4M868 343h2.4M921 289h2.4M798 252h2.4M809 470h2.4M886 334h2.4M771 215h2.4M791 274h2.4M775 254h2.4M878 326h2.4M852 384h2.4M767 261h2.4M839 393h2.4M809 507h2.4M786 241h2.4M807 253h2.4M887 341h2.4M725 255h2.4M878 365h2.4M858 385h2.4M794 261h2.4M802 434h2.4M801 271h2.4M882 322h2.4M801 251h2.4M738 267h2.4M817 385h2.4M809 224h2.4M849 354h2.4M853 395h2.4M925 370h2.4M855 354h2.4M787 246h2.4M818 447h2.4M785 249h2.4M731 238h2.4M807 425h2.4M774 253h2.4M700 225h2.4M840 427h2.4M829 207h2.4M767 265h2.4M903 342h2.4M759 246h2.4M874 351h2.4M929 335h2.4M916 306h2.4M788 243h2.4M869 363h2.4M821 422h2.4M616 251h2.4M871 361h2.4M886 307h2.4M749 285h2.4M788 199h2.4M909 333h2.4M893 309h2.4M876 368h2.4M755 266h2.4M663 214h2.4M718 283h2.4M768 265h2.4M623 260h2.4M811 413h2.4M805 243h2.4M875 344h2.4M820 410h2.4M897 358h2.4M882 364h2.4M805 199h2.4M876 354h2.4M746 249h2.4M793 269h2.4M673 201h2.4M720 245h2.4M911 305h2.4M600 216h2.4M818 240h2.4M879 360h2.4M805 467h2.4M810 407h2.4M808 426h2.4M789 236h2.4M880 352h2.4M847 329h2.4M863 345h2.4M805 190h2.4M775 247h2.4M781 202h2.4M886 317h2.4M799 251h2.4M783 233h2.4M910 339h2.4M880 361h2.4M925 347h2.4M829 370h2.4M880 359h2.4M815 409h2.4M796 204h2.4M915 321h2.4M736 253h2.4M896 342h2.4M856 346h2.4M770 274h2.4M780 262h2.4M561 208h2.4M727 260h2.4M898 318h2.4M780 240h2.4M823 401h2.4M803 262h2.4M782 243h2.4M826 371h2.4M809 460h2.4M846 374h2.4M802 273h2.4M888 359h2.4M769 240h2.4M892 325h2.4M799 263h2.4M805 411h2.4M774 232h2.4M931 319h2.4M670 217h2.4M814 540h2.4M866 349h2.4M812 427h2.4M768 229h2.4M759 243h2.4M900 331h2.4M781 347h2.4M776 243h2.4M798 261h2.4M878 326h2.4M844 331h2.4M856 346h2.4M840 175h2.4M752 271h2.4M869 370h2.4M782 244h2.4M885 305h2.4M803 458h2.4M790 212h2.4M892 322h2.4M784 262h2.4M905 336h2.4M865 362h2.4M935 249h2.4M797 230h2.4M826 328h2.4M792 255h2.4M829 429h2.4M892 309h2.4M870 397h2.4M865 353h2.4M806 239h2.4M932 249h2.4M857 322h2.4M707 219h2.4M817 452h2.4M771 249h2.4M690 346h2.4M771 461h2.4M802 265h2.4M792 439h2.4M934 323h2.4M788 246h2.4M750 216h2.4M810 421h2.4M778 266h2.4M873 330h2.4M795 269h2.4M779 215h2.4M906 316h2.4M788 261h2.4M797 265h2.4M932 346h2.4M897 340h2.4M902 338h2.4M785 225h2.4M775 232h2.4M864 352h2.4M910 318h2.4M888 326h2.4M768 306h2.4M842 367h2.4M796 258h2.4M804 455h2.4M910 340h2.4M897 338h2.4M703 278h2.4M759 258h2.4M880 367h2.4M819 184h2.4M869 363h2.4M742 215h2.4M913 325h2.4M890 326h2.4M923 304h2.4M847 378h2.4M714 159h2.4M883 344h2.4M889 321h2.4M785 251h2.4M810 399h2.4M915 332h2.4M938 331h2.4M816 431h2.4M812 447h2.4M823 382h2.4M803 426h2.4M791 259h2.4M844 349h2.4M794 515h2.4M878 378h2.4M821 405h2.4M796 252h2.4M879 354h2.4M815 273h2.4M932 298h2.4M809 469h2.4M829 404h2.4M792 241h2.4M922 294h2.4M665 265h2.4M785 231h2.4M798 253h2.4M882 327h2.4M806 438h2.4M793 267h2.4M911 316h2.4M861 380h2.4M766 243h2.4M812 442h2.4M790 234h2.4M901 310h2.4M888 357h2.4M632 236h2.4M885 314h2.4M851 358h2.4M896 372h2.4M730 318h2.4M841 399h2.4M797 155h2.4M804 277h2.4M890 331h2.4M818 436h2.4M711 300h2.4M810 402h2.4M811 489h2.4M774 251h2.4M901 339h2.4M728 307h2.4M809 390h2.4M956 306h2.4M794 275h2.4M792 392h2.4M890 336h2.4M828 409h2.4M782 244h2.4M918 284h2.4M871 355h2.4M802 469h2.4M877 346h2.4M779 243h2.4M831 192h2.4M852 227h2.4M866 374h2.4M801 390h2.4M878 344h2.4M903 336h2.4M794 263h2.4M796 473h2.4M808 432h2.4M810 445h2.4M911 318h2.4M842 395h2.4M889 333h2.4M913 305h2.4M785 242h2.4M893 314h2.4M942 259h2.4M775 289h2.4M909 312h2.4M928 282h2.4M877 361h2.4M888 355h2.4M584 226h2.4M921 318h2.4M869 367h2.4M899 334h2.4M885 316h2.4M927 282h2.4M850 364h2.4M874 341h2.4M776 265h2.4M843 423h2.4M792 274h2.4M704 229h2.4M801 407h2.4M772 284h2.4M920 328h2.4M826 512h2.4M791 259h2.4M870 334h2.4M898 324h2.4M694 348h2.4M800 243h2.4M810 402h2.4M856 381h2.4M854 381h2.4M908 317h2.4M798 261h2.4M840 379h2.4M863 223h2.4M777 248h2.4M884 365h2.4M650 212h2.4M910 321h2.4M792 231h2.4M797 449h2.4M824 413h2.4M920 317h2.4M823 364h2.4M909 340h2.4M784 259h2.4M665 266h2.4M817 379h2.4M903 330h2.4M791 263h2.4M800 427h2.4M815 380h2.4M805 265h2.4M814 427h2.4M784 274h2.4M805 262h2.4M810 441h2.4M858 432h2.4M904 282h2.4M819 432h2.4M926 310h2.4M861 382h2.4M806 231h2.4M892 322h2.4M822 427h2.4M781 265h2.4M902 325h2.4M789 252h2.4M767 242h2.4M904 310h2.4M842 234h2.4M782 248h2.4M901 329h2.4M773 232h2.4M868 350h2.4M757 300h2.4M794 269h2.4M818 450h2.4M794 260h2.4M768 231h2.4M839 393h2.4M764 271h2.4M807 439h2.4M818 443h2.4M805 378h2.4M914 336h2.4M902 297h2.4M797 231h2.4M851 304h2.4M822 398h2.4M518 266h2.4M788 264h2.4M809 413h2.4M877 332h2.4M780 263h2.4M798 317h2.4M812 392h2.4M824 412h2.4M812 390h2.4M773 303h2.4M847 425h2.4M874 341h2.4M845 376h2.4M949 328h2.4M810 513h2.4M908 292h2.4M894 323h2.4M765 191h2.4M579 230h2.4M882 366h2.4M875 354h2.4M813 453h2.4M792 250h2.4M748 288h2.4M766 288h2.4M705 247h2.4M784 257h2.4M916 335h2.4M898 335h2.4M814 283h2.4M820 228h2.4M875 334h2.4M917 312h2.4M846 395h2.4M811 238h2.4M889 328h2.4M771 272h2.4M808 473h2.4M753 326h2.4M875 346h2.4M922 279h2.4M800 262h2.4M865 350h2.4M794 245h2.4M783 287h2.4M940 301h2.4M871 340h2.4M914 325h2.4M787 278h2.4M682 231h2.4M813 233h2.4M813 440h2.4M715 234h2.4M824 238h2.4M890 363h2.4M922 328h2.4M779 270h2.4M870 341h2.4M812 216h2.4M705 283h2.4M809 428h2.4M897 326h2.4M815 453h2.4M891 322h2.4M806 438h2.4M790 244h2.4M873 330h2.4M787 297h2.4M928 296h2.4M875 388h2.4M724 319h2.4M878 359h2.4M812 436h2.4M873 364h2.4M867 367h2.4M910 294h2.4M747 262h2.4M909 314h2.4M813 431h2.4M880 368h2.4M827 262h2.4M851 167h2.4M799 246h2.4M892 348h2.4M785 274h2.4M801 259h2.4M794 272h2.4M931 309h2.4M892 342h2.4M484 530h2.4M827 426h2.4M770 286h2.4M762 296h2.4M790 268h2.4M817 421h2.4M742 287h2.4M915 331h2.4M784 226h2.4M825 384h2.4M768 266h2.4M808 228h2.4M843 413h2.4M777 229h2.4M889 353h2.4M812 295h2.4M791 244h2.4M836 425h2.4M797 207h2.4M796 193h2.4M956 353h2.4M812 550h2.4M789 264h2.4M820 163h2.4M770 246h2.4M876 361h2.4M881 350h2.4M839 410h2.4M836 354h2.4M894 340h2.4M821 387h2.4M786 482h2.4M784 244h2.4M618 253h2.4M912 314h2.4M913 332h2.4M797 417h2.4M902 315h2.4M771 263h2.4M770 236h2.4M750 278h2.4M891 311h2.4M795 439h2.4M850 178h2.4M840 183h2.4M807 420h2.4M653 213h2.4M805 255h2.4M870 328h2.4M799 264h2.4M890 340h2.4M908 319h2.4M814 424h2.4M786 231h2.4M810 253h2.4M767 259h2.4M784 265h2.4M817 436h2.4M809 425h2.4M808 204h2.4M780 278h2.4M812 359h2.4M887 371h2.4M818 256h2.4M862 339h2.4M823 413h2.4M868 368h2.4M674 204h2.4M886 324h2.4M801 241h2.4M920 310h2.4M798 253h2.4M799 242h2.4M798 448h2.4M666 205h2.4M887 374h2.4M878 316h2.4M800 443h2.4M668 218h2.4M832 425h2.4M904 332h2.4M896 326h2.4M957 295h2.4M764 276h2.4M822 375h2.4M787 253h2.4M800 258h2.4M618 239h2.4M812 405h2.4M786 269h2.4M916 289h2.4M807 284h2.4M882 358h2.4M756 399h2.4M886 354h2.4M898 353h2.4M878 426h2.4M797 442h2.4M804 257h2.4M755 244h2.4M781 260h2.4M907 319h2.4M923 319h2.4M806 418h2.4M782 249h2.4M905 365h2.4M779 221h2.4M882 348h2.4M894 337h2.4M893 343h2.4M860 320h2.4M826 423h2.4M852 336h2.4M831 568h2.4M930 314h2.4M852 346h2.4M788 258h2.4M857 341h2.4M798 239h2.4M874 177h2.4M785 254h2.4M791 270h2.4M812 407h2.4M823 419h2.4M868 349h2.4M877 332h2.4M842 206h2.4M784 224h2.4M809 266h2.4M811 427h2.4M916 377h2.4M782 186h2.4M856 423h2.4M742 236h2.4M905 298h2.4M781 226h2.4M795 258h2.4M809 431h2.4M868 350h2.4M824 404h2.4M863 163h2.4M813 464h2.4M716 207h2.4M770 257h2.4M870 399h2.4M787 241h2.4M845 364h2.4M923 342h2.4M807 474h2.4M799 420h2.4M918 322h2.4M841 411h2.4M913 449h2.4M781 240h2.4M829 416h2.4M804 427h2.4M879 338h2.4M807 464h2.4M843 368h2.4M808 262h2.4M789 453h2.4M786 258h2.4M788 249h2.4M787 256h2.4M879 346h2.4M894 330h2.4M903 325h2.4M791 265h2.4M772 261h2.4M813 387h2.4M920 336h2.4M817 388h2.4M870 328h2.4M794 266h2.4M751 255h2.4M755 224h2.4M692 336h2.4M896 349h2.4M830 425h2.4M915 322h2.4M814 252h2.4M816 400h2.4M903 317h2.4M830 407h2.4M917 311h2.4M919 338h2.4M866 353h2.4M906 304h2.4M857 408h2.4M785 255h2.4M816 446h2.4M703 327h2.4M797 260h2.4M907 307h2.4M797 215h2.4M893 322h2.4M807 404h2.4M917 302h2.4M912 308h2.4M841 400h2.4M779 224h2.4M867 354h2.4M885 357h2.4M933 344h2.4M917 310h2.4M777 250h2.4M892 331h2.4M802 249h2.4M828 560h2.4M787 279h2.4M876 339h2.4M763 497h2.4M885 321h2.4M805 247h2.4M859 368h2.4M803 268h2.4M757 274h2.4M793 263h2.4M784 278h2.4M911 350h2.4M820 398h2.4M771 260h2.4M808 420h2.4M799 503h2.4M868 394h2.4M908 324h2.4M819 398h2.4M847 496h2.4M729 245h2.4M694 359h2.4M789 270h2.4M828 516h2.4M817 392h2.4M868 378h2.4M789 287h2.4M901 339h2.4M789 225h2.4M804 281h2.4M783 277h2.4M879 340h2.4M881 340h2.4M810 453h2.4M832 387h2.4M734 320h2.4M863 356h2.4M815 588h2.4M787 265h2.4M798 239h2.4M837 188h2.4M808 450h2.4M914 319h2.4M901 330h2.4M829 420h2.4M796 444h2.4M794 232h2.4M879 333h2.4M920 316h2.4M820 450h2.4M873 309h2.4M604 238h2.4M855 358h2.4M610 209h2.4M890 342h2.4M847 344h2.4M907 326h2.4M770 245h2.4M685 256h2.4M612 223h2.4M803 260h2.4M870 362h2.4M922 328h2.4M784 273h2.4M928 328h2.4M864 351h2.4M826 383h2.4M814 210h2.4M870 361h2.4M770 250h2.4M835 412h2.4M876 367h2.4M777 252h2.4M904 297h2.4M788 266h2.4M806 457h2.4M816 423h2.4M876 323h2.4M873 370h2.4M764 396h2.4M875 309h2.4M896 310h2.4M777 256h2.4M787 258h2.4M798 296h2.4M703 339h2.4M777 235h2.4M812 413h2.4M878 387h2.4M880 322h2.4M836 403h2.4M865 356h2.4M809 437h2.4M800 225h2.4M916 285h2.4M714 325h2.4M882 186h2.4M823 370h2.4M811 435h2.4M802 261h2.4M756 470h2.4M815 415h2.4M793 546h2.4M811 423h2.4M795 424h2.4M794 268h2.4M810 382h2.4M843 350h2.4M886 306h2.4M802 253h2.4M828 439h2.4M679 177h2.4M902 314h2.4M887 343h2.4M794 257h2.4M882 343h2.4M893 357h2.4M802 196h2.4M786 256h2.4M873 396h2.4M783 303h2.4M775 223h2.4M820 243h2.4M587 228h2.4M746 232h2.4M756 238h2.4M913 312h2.4M803 247h2.4M663 222h2.4M841 402h2.4M865 373h2.4M815 258h2.4M906 354h2.4M900 338h2.4M905 358h2.4M899 312h2.4M790 256h2.4M811 586h2.4M813 425h2.4M921 298h2.4M900 345h2.4M810 432h2.4M774 252h2.4M791 443h2.4M883 345h2.4M797 251h2.4M638 396h2.4M889 339h2.4M880 332h2.4M785 236h2.4M896 317h2.4M869 383h2.4M844 383h2.4M811 404h2.4M923 318h2.4M882 350h2.4M902 331h2.4M788 227h2.4M873 341h2.4M800 300h2.4M815 369h2.4M778 257h2.4M781 501h2.4M899 333h2.4M755 226h2.4M806 470h2.4M879 362h2.4M789 291h2.4M890 327h2.4M903 288h2.4M881 337h2.4M835 392h2.4M796 272h2.4M780 270h2.4M832 407h2.4M807 230h2.4M763 252h2.4M851 374h2.4M765 245h2.4M871 361h2.4M775 260h2.4M874 331h2.4M824 394h2.4M874 352h2.4M897 329h2.4M820 363h2.4M821 430h2.4M868 328h2.4M814 295h2.4M802 294h2.4M791 252h2.4M900 333h2.4M811 420h2.4M888 341h2.4M813 312h2.4M935 307h2.4M782 230h2.4M879 351h2.4M769 246h2.4M865 193h2.4M865 374h2.4M873 358h2.4M875 356h2.4M820 508h2.4M895 336h2.4M882 365h2.4M791 268h2.4M585 224h2.4M791 234h2.4M896 351h2.4M814 461h2.4M807 284h2.4M820 249h2.4M860 378h2.4M775 212h2.4M800 448h2.4M920 312h2.4M868 388h2.4M740 288h2.4M784 268h2.4M803 458h2.4M899 360h2.4M890 320h2.4M796 320h2.4M812 239h2.4M903 287h2.4M785 259h2.4M778 284h2.4M777 478h2.4M873 354h2.4M912 319h2.4M825 401h2.4M891 330h2.4M909 324h2.4M792 256h2.4M830 442h2.4M921 319h2.4M926 326h2.4M816 266h2.4M728 303h2.4M882 394h2.4M811 267h2.4M863 344h2.4M791 240h2.4M843 177h2.4M901 313h2.4M870 380h2.4M904 319h2.4M944 267h2.4M896 309h2.4M899 366h2.4M794 428h2.4M797 245h2.4M796 469h2.4M854 385h2.4M861 238h2.4M780 260h2.4M877 321h2.4M757 285h2.4M799 237h2.4M907 310h2.4M901 324h2.4M832 295h2.4M903 337h2.4M787 220h2.4M754 255h2.4M789 402h2.4M640 266h2.4M773 262h2.4M823 183h2.4M689 238h2.4M819 475h2.4M841 373h2.4M814 465h2.4M807 378h2.4M844 408h2.4M816 561h2.4M832 414h2.4M897 358h2.4M807 391h2.4M864 330h2.4M865 357h2.4M907 340h2.4M703 288h2.4M891 358h2.4M782 236h2.4M816 249h2.4M838 434h2.4M796 524h2.4M927 309h2.4M866 325h2.4M863 367h2.4M878 343h2.4M828 439h2.4M904 308h2.4M818 436h2.4M865 368h2.4M767 253h2.4M835 361h2.4M797 256h2.4M775 271h2.4M831 411h2.4M787 251h2.4M859 315h2.4M788 279h2.4M552 360h2.4M800 470h2.4M774 242h2.4M815 409h2.4M902 326h2.4M879 346h2.4M817 418h2.4M881 370h2.4M797 266h2.4M799 402h2.4M884 312h2.4M915 272h2.4M818 254h2.4M822 207h2.4M834 350h2.4M823 405h2.4M830 407h2.4M841 390h2.4M898 316h2.4M871 353h2.4M816 284h2.4M790 242h2.4M803 247h2.4M852 368h2.4M862 357h2.4M940 321h2.4M796 258h2.4M794 250h2.4M904 343h2.4M890 336h2.4M785 234h2.4M869 376h2.4M803 261h2.4M816 411h2.4M885 346h2.4M687 193h2.4M789 253h2.4M831 387h2.4M800 556h2.4M906 342h2.4M808 408h2.4M780 249h2.4M906 343h2.4M858 367h2.4M567 562h2.4M852 363h2.4M910 356h2.4M810 297h2.4M886 350h2.4M895 335h2.4M795 420h2.4M800 256h2.4M781 250h2.4M788 264h2.4M910 320h2.4M780 267h2.4M773 215h2.4M907 300h2.4M766 282h2.4M843 458h2.4M857 363h2.4M906 336h2.4M887 329h2.4M886 318h2.4M793 268h2.4M895 360h2.4M776 252h2.4M840 172h2.4M834 158h2.4M792 252h2.4M825 270h2.4M838 379h2.4M782 268h2.4M874 374h2.4M897 343h2.4M796 255h2.4M835 429h2.4M794 251h2.4M885 348h2.4M916 303h2.4M778 252h2.4M785 240h2.4M818 239h2.4M886 343h2.4M840 375h2.4M804 234h2.4M787 275h2.4M891 324h2.4M881 351h2.4M793 491h2.4M593 238h2.4M893 334h2.4M762 565h2.4M672 256h2.4M867 367h2.4M799 503h2.4M926 294h2.4M886 356h2.4M806 447h2.4M884 355h2.4M771 268h2.4M801 227h2.4M849 330h2.4M784 259h2.4M740 252h2.4M815 449h2.4M903 326h2.4M887 334h2.4M793 268h2.4M787 254h2.4M827 527h2.4M798 234h2.4M783 251h2.4M811 230h2.4M896 339h2.4M867 367h2.4M699 217h2.4M619 255h2.4M894 345h2.4M898 332h2.4M911 347h2.4M784 439h2.4M905 336h2.4M795 239h2.4M859 349h2.4M607 234h2.4M797 473h2.4M815 440h2.4M787 230h2.4M852 431h2.4M813 444h2.4M691 239h2.4M892 343h2.4M894 349h2.4M782 222h2.4M845 381h2.4M795 439h2.4M813 452h2.4M908 321h2.4M827 247h2.4M899 413h2.4M861 370h2.4M919 327h2.4M891 327h2.4M913 341h2.4M912 330h2.4M860 345h2.4M917 338h2.4M792 258h2.4M908 312h2.4M819 428h2.4M880 374h2.4M968 314h2.4M815 453h2.4M803 407h2.4M828 578h2.4M804 265h2.4M703 253h2.4M799 285h2.4M915 311h2.4M940 301h2.4M889 328h2.4M920 318h2.4M885 339h2.4M763 238h2.4M937 292h2.4M884 374h2.4M823 546h2.4M724 252h2.4M917 318h2.4M774 267h2.4M881 339h2.4M783 256h2.4M817 287h2.4M799 410h2.4M673 361h2.4M811 242h2.4M888 308h2.4M805 210h2.4M792 261h2.4M835 539h2.4M882 341h2.4M848 409h2.4M798 455h2.4M807 401h2.4M842 367h2.4M906 313h2.4M873 328h2.4M935 316h2.4M794 236h2.4M803 410h2.4M898 325h2.4M897 342h2.4M807 458h2.4M822 442h2.4M773 237h2.4M783 264h2.4M779 263h2.4M868 362h2.4M847 411h2.4M887 444h2.4M780 256h2.4M791 256h2.4M802 255h2.4M836 423h2.4M907 318h2.4M794 213h2.4M884 310h2.4M772 248h2.4M885 335h2.4M903 347h2.4M932 342h2.4M830 330h2.4M900 318h2.4M878 360h2.4M796 257h2.4M834 374h2.4M813 407h2.4M763 272h2.4M863 362h2.4M901 358h2.4M917 282h2.4M780 281h2.4M922 324h2.4M815 426h2.4M913 360h2.4M933 306h2.4M797 252h2.4M866 368h2.4M784 216h2.4M799 267h2.4M831 406h2.4M966 298h2.4M880 350h2.4M850 379h2.4M958 320h2.4M818 416h2.4M913 349h2.4M803 251h2.4M883 324h2.4M640 176h2.4M783 254h2.4M603 246h2.4M989 342h2.4M907 304h2.4M764 281h2.4M862 346h2.4M838 383h2.4M777 247h2.4M813 428h2.4M823 431h2.4M814 354h2.4M815 398h2.4M892 351h2.4M913 337h2.4M889 358h2.4M911 328h2.4M897 344h2.4M860 381h2.4M767 246h2.4M887 324h2.4M899 346h2.4M879 346h2.4M925 271h2.4M888 319h2.4M808 424h2.4M810 440h2.4M831 432h2.4M922 305h2.4M764 236h2.4M862 376h2.4M657 360h2.4M913 329h2.4M801 231h2.4M803 251h2.4M885 312h2.4M820 397h2.4M844 375h2.4M841 399h2.4M785 267h2.4M874 378h2.4M774 225h2.4M802 451h2.4M787 200h2.4M789 254h2.4M817 436h2.4M828 407h2.4M883 344h2.4M829 426h2.4M902 361h2.4M793 255h2.4M921 319h2.4M864 379h2.4M793 261h2.4M748 246h2.4M806 406h2.4M866 364h2.4M832 403h2.4M902 312h2.4M800 290h2.4M782 286h2.4M590 266h2.4M770 249h2.4M886 334h2.4M889 306h2.4M842 359h2.4M823 382h2.4M805 446h2.4M890 330h2.4M913 328h2.4M808 419h2.4M718 347h2.4M798 254h2.4M774 236h2.4M797 266h2.4M890 302h2.4M809 244h2.4M856 335h2.4M908 305h2.4M850 389h2.4M783 258h2.4M771 217h2.4M888 334h2.4M797 202h2.4M791 450h2.4M807 248h2.4M795 266h2.4M798 268h2.4M783 275h2.4M899 320h2.4M779 251h2.4M863 364h2.4M783 175h2.4M868 329h2.4M883 343h2.4M908 358h2.4M915 332h2.4M773 270h2.4M786 258h2.4M911 304h2.4M841 368h2.4M909 306h2.4M822 429h2.4M805 230h2.4M882 306h2.4M779 204h2.4M944 305h2.4M770 230h2.4M811 272h2.4M928 305h2.4M571 198h2.4M794 205h2.4M870 365h2.4M858 370h2.4M790 278h2.4M835 352h2.4M900 344h2.4M788 255h2.4M792 423h2.4M865 328h2.4M845 401h2.4M797 375h2.4M862 410h2.4M891 372h2.4M909 335h2.4M851 396h2.4M802 294h2.4M810 433h2.4M806 250h2.4M869 359h2.4M767 447h2.4M874 352h2.4M885 358h2.4M880 349h2.4M536 172h2.4M801 245h2.4M824 228h2.4M881 364h2.4M904 339h2.4M801 461h2.4M791 236h2.4M831 394h2.4M869 386h2.4M860 370h2.4M809 426h2.4M806 423h2.4M900 329h2.4M802 243h2.4M680 343h2.4M919 320h2.4M779 250h2.4M618 184h2.4M903 328h2.4M658 288h2.4M905 313h2.4M780 250h2.4M801 564h2.4M776 261h2.4M882 336h2.4M745 291h2.4M889 331h2.4M784 259h2.4M919 311h2.4M787 233h2.4M930 288h2.4M775 271h2.4M888 346h2.4M804 473h2.4M872 349h2.4M776 249h2.4M908 299h2.4M810 285h2.4M786 422h2.4M879 343h2.4M822 369h2.4M773 261h2.4M789 214h2.4M812 278h2.4M895 355h2.4M880 365h2.4M828 201h2.4M891 346h2.4M805 407h2.4M865 364h2.4M919 318h2.4M796 449h2.4M836 397h2.4M894 351h2.4M730 326h2.4M785 265h2.4M893 330h2.4M846 382h2.4M797 545h2.4M852 376h2.4M874 373h2.4M718 240h2.4M886 347h2.4M793 249h2.4M788 240h2.4M801 234h2.4M835 384h2.4M885 328h2.4M882 324h2.4M886 324h2.4M788 254h2.4M872 343h2.4M826 391h2.4M806 478h2.4M888 340h2.4M896 309h2.4M834 194h2.4M721 319h2.4M830 424h2.4M938 316h2.4M770 263h2.4M865 350h2.4M717 324h2.4M778 270h2.4M900 325h2.4M873 350h2.4M801 276h2.4M912 306h2.4M782 284h2.4M803 253h2.4M912 339h2.4M798 258h2.4M782 228h2.4M881 352h2.4M922 321h2.4M802 563h2.4M888 362h2.4M808 511h2.4M881 348h2.4M887 326h2.4M901 367h2.4M898 341h2.4M924 345h2.4M800 274h2.4M807 373h2.4M877 361h2.4M785 175h2.4M816 387h2.4M857 402h2.4M881 357h2.4M853 384h2.4M775 245h2.4M857 380h2.4M757 266h2.4M857 356h2.4M815 412h2.4M860 346h2.4M610 225h2.4M793 266h2.4M830 395h2.4M649 202h2.4M783 246h2.4M765 226h2.4M826 407h2.4M890 340h2.4M876 341h2.4M872 321h2.4M721 210h2.4M800 476h2.4M840 289h2.4M831 436h2.4M779 179h2.4M877 342h2.4M840 236h2.4M794 263h2.4M805 243h2.4M887 333h2.4M922 343h2.4M795 232h2.4M880 362h2.4M808 236h2.4M791 441h2.4M719 252h2.4M822 400h2.4M921 332h2.4M853 349h2.4M786 272h2.4M767 273h2.4M837 362h2.4M897 339h2.4M728 216h2.4M889 356h2.4M917 304h2.4M596 213h2.4M828 235h2.4M817 162h2.4M852 353h2.4M786 245h2.4M847 366h2.4M755 282h2.4M800 427h2.4M809 438h2.4M822 437h2.4M802 280h2.4M894 319h2.4M873 345h2.4M793 226h2.4M890 339h2.4M802 458h2.4M817 211h2.4M861 420h2.4M862 385h2.4M817 280h2.4M779 259h2.4M801 236h2.4M849 359h2.4M909 308h2.4M774 277h2.4M778 259h2.4M793 438h2.4M741 177h2.4M834 431h2.4M742 304h2.4M820 271h2.4M689 268h2.4M890 337h2.4M785 264h2.4M802 269h2.4M900 312h2.4M855 385h2.4M816 453h2.4M795 246h2.4M893 352h2.4M817 419h2.4M878 394h2.4M788 232h2.4M815 565h2.4M789 254h2.4M863 367h2.4M904 343h2.4M816 506h2.4M795 419h2.4M780 524h2.4M860 366h2.4M813 421h2.4M919 309h2.4M888 353h2.4M816 459h2.4M898 314h2.4M904 334h2.4M868 339h2.4M772 249h2.4M878 347h2.4M800 170h2.4M798 265h2.4M830 420h2.4M811 441h2.4M826 371h2.4M779 274h2.4M795 273h2.4M798 388h2.4M872 335h2.4M884 342h2.4M815 439h2.4M747 247h2.4M758 272h2.4M788 267h2.4M850 188h2.4M813 389h2.4M542 221h2.4M812 414h2.4M788 266h2.4M779 278h2.4M800 441h2.4M900 319h2.4M874 310h2.4M764 251h2.4M770 236h2.4M892 349h2.4M942 321h2.4M844 376h2.4M767 234h2.4M705 325h2.4M792 263h2.4M924 301h2.4M888 364h2.4M800 433h2.4M787 456h2.4M801 257h2.4M891 339h2.4M867 407h2.4M929 294h2.4M908 345h2.4M895 327h2.4M888 324h2.4M902 337h2.4M857 368h2.4M895 341h2.4M796 257h2.4M808 419h2.4M790 420h2.4M863 377h2.4M801 247h2.4M929 294h2.4M678 345h2.4M947 256h2.4M876 331h2.4M790 263h2.4M824 298h2.4M940 271h2.4M812 427h2.4M853 424h2.4M881 363h2.4M715 311h2.4M850 348h2.4M921 341h2.4M796 243h2.4M807 427h2.4M931 329h2.4M890 351h2.4M856 376h2.4M868 330h2.4M703 350h2.4M786 276h2.4M898 323h2.4M783 278h2.4M868 347h2.4M874 329h2.4M780 283h2.4M880 333h2.4M702 325h2.4M879 342h2.4M905 322h2.4M768 285h2.4M783 252h2.4M878 357h2.4M777 259h2.4M817 419h2.4M929 280h2.4M907 307h2.4M871 323h2.4M851 402h2.4M909 305h2.4M788 259h2.4M788 421h2.4M860 318h2.4M773 268h2.4M921 282h2.4M820 401h2.4M720 207h2.4M889 369h2.4M741 270h2.4M832 384h2.4M846 408h2.4M913 291h2.4M785 270h2.4M880 332h2.4M773 287h2.4M961 361h2.4M743 243h2.4M892 347h2.4M804 442h2.4M805 268h2.4M869 365h2.4M887 313h2.4M915 313h2.4M887 352h2.4M786 465h2.4M775 258h2.4M866 360h2.4M909 332h2.4M881 324h2.4M939 306h2.4M743 261h2.4M813 402h2.4M892 355h2.4M801 247h2.4M818 386h2.4M827 404h2.4M868 408h2.4M879 441h2.4M787 246h2.4M925 323h2.4M870 326h2.4M929 263h2.4M927 314h2.4M779 271h2.4M799 239h2.4M841 414h2.4M803 427h2.4M919 288h2.4M949 299h2.4M805 262h2.4M776 235h2.4M877 322h2.4M819 392h2.4M733 263h2.4M800 464h2.4M861 422h2.4M915 317h2.4M811 484h2.4M800 242h2.4M884 365h2.4M785 252h2.4M889 373h2.4M788 253h2.4M915 319h2.4M827 379h2.4M879 340h2.4M826 422h2.4M922 302h2.4M893 357h2.4M894 320h2.4M941 345h2.4M789 247h2.4M782 236h2.4M746 295h2.4M811 455h2.4M942 258h2.4M634 240h2.4M834 362h2.4M897 329h2.4M800 378h2.4M930 303h2.4M809 416h2.4M819 426h2.4M877 352h2.4M813 445h2.4M883 342h2.4M908 341h2.4M855 344h2.4M869 348h2.4M809 424h2.4M913 310h2.4M874 331h2.4M935 258h2.4M787 427h2.4M822 388h2.4M937 333h2.4M754 234h2.4M814 396h2.4M818 532h2.4M784 273h2.4M804 406h2.4M815 443h2.4M803 262h2.4M705 231h2.4M800 441h2.4M828 251h2.4M797 458h2.4M796 265h2.4M785 254h2.4M876 423h2.4M890 321h2.4M739 308h2.4M695 261h2.4M872 367h2.4M636 205h2.4M910 344h2.4M607 243h2.4M927 279h2.4M806 215h2.4M802 310h2.4M902 308h2.4M837 423h2.4M733 230h2.4M817 479h2.4M774 265h2.4M879 326h2.4M593 248h2.4M897 331h2.4M799 428h2.4M726 299h2.4M885 329h2.4M878 371h2.4M808 270h2.4M899 328h2.4M884 408h2.4M901 333h2.4M830 425h2.4M847 383h2.4M874 379h2.4M804 404h2.4M873 339h2.4M808 453h2.4M871 348h2.4M891 342h2.4M811 394h2.4M920 312h2.4M615 229h2.4M801 457h2.4M877 329h2.4M921 305h2.4M819 430h2.4M808 289h2.4M866 356h2.4M814 376h2.4M876 350h2.4M834 330h2.4M800 391h2.4M789 463h2.4M788 468h2.4M659 349h2.4M864 340h2.4M790 560h2.4M645 214h2.4M865 362h2.4M784 273h2.4M878 339h2.4M888 327h2.4M870 378h2.4M691 228h2.4M865 373h2.4M911 293h2.4M677 346h2.4M896 347h2.4M806 456h2.4M791 256h2.4M903 328h2.4M865 369h2.4M868 367h2.4M873 330h2.4M844 408h2.4M803 250h2.4M804 279h2.4M901 358h2.4M867 376h2.4M905 375h2.4M868 344h2.4M798 423h2.4M815 469h2.4M779 219h2.4M826 411h2.4M721 278h2.4M805 419h2.4M801 542h2.4M954 270h2.4M839 425h2.4M879 357h2.4M806 430h2.4M794 278h2.4M881 373h2.4M877 370h2.4M855 388h2.4M745 271h2.4M735 331h2.4M905 326h2.4M897 290h2.4M773 263h2.4M849 385h2.4M910 307h2.4M810 424h2.4M800 428h2.4M818 497h2.4M785 258h2.4M794 452h2.4M873 349h2.4M887 330h2.4M808 255h2.4M789 245h2.4M739 274h2.4M941 284h2.4M821 412h2.4M875 332h2.4M896 319h2.4M881 324h2.4M781 225h2.4M777 272h2.4M775 210h2.4M791 293h2.4M825 587h2.4M763 276h2.4M830 365h2.4M884 386h2.4M670 195h2.4M893 325h2.4M781 227h2.4M812 410h2.4M808 262h2.4M765 253h2.4M798 272h2.4M927 320h2.4M879 367h2.4M948 253h2.4M816 426h2.4M637 370h2.4M787 283h2.4M813 399h2.4M808 237h2.4M768 235h2.4M789 438h2.4M874 368h2.4M910 335h2.4M657 220h2.4M805 251h2.4M886 331h2.4M876 369h2.4M808 256h2.4M784 268h2.4M871 350h2.4M902 308h2.4M877 355h2.4M837 384h2.4M785 256h2.4M804 457h2.4M824 411h2.4M787 231h2.4M736 295h2.4M766 249h2.4M906 305h2.4M852 397h2.4M924 321h2.4M902 314h2.4M941 310h2.4M810 198h2.4M867 370h2.4M884 342h2.4M647 241h2.4M807 261h2.4M785 272h2.4M835 586h2.4M796 227h2.4M803 433h2.4M809 418h2.4M882 322h2.4M861 454h2.4M893 315h2.4M777 276h2.4M892 325h2.4M825 394h2.4M885 343h2.4M780 254h2.4M847 362h2.4M861 283h2.4M845 425h2.4M838 360h2.4M906 288h2.4M774 247h2.4M821 468h2.4M780 243h2.4M898 326h2.4M908 334h2.4M853 389h2.4M792 254h2.4M866 349h2.4M873 371h2.4M851 368h2.4M772 318h2.4M905 317h2.4M804 260h2.4M735 306h2.4M873 415h2.4M774 232h2.4M903 329h2.4M799 250h2.4M789 265h2.4M738 270h2.4M786 273h2.4M788 270h2.4M780 267h2.4M905 330h2.4M905 368h2.4M797 150h2.4M851 370h2.4M830 390h2.4M649 366h2.4M874 412h2.4M813 406h2.4M900 331h2.4M870 344h2.4M857 338h2.4M853 375h2.4M842 168h2.4M913 320h2.4M883 338h2.4M813 435h2.4M882 348h2.4M790 273h2.4M810 474h2.4M854 364h2.4M804 426h2.4M773 262h2.4M781 255h2.4M783 253h2.4M797 477h2.4M915 320h2.4M958 275h2.4M960 273h2.4M818 234h2.4M793 413h2.4M798 259h2.4M814 271h2.4M776 278h2.4M854 427h2.4M805 373h2.4M855 352h2.4M868 361h2.4M889 345h2.4M797 381h2.4M785 249h2.4M853 362h2.4M864 385h2.4M913 332h2.4M797 484h2.4M848 391h2.4M851 350h2.4M853 434h2.4M911 336h2.4M818 431h2.4M899 329h2.4M808 421h2.4M830 401h2.4M794 451h2.4M794 436h2.4M800 244h2.4M896 332h2.4M733 329h2.4M915 316h2.4M806 419h2.4M887 329h2.4M890 331h2.4M815 315h2.4M882 347h2.4M799 249h2.4M904 342h2.4M851 395h2.4M816 276h2.4M887 349h2.4M920 305h2.4M786 418h2.4M885 336h2.4M691 221h2.4M923 300h2.4M893 339h2.4M924 271h2.4M828 406h2.4M777 244h2.4M937 294h2.4M779 292h2.4M886 350h2.4M823 373h2.4M776 262h2.4M822 467h2.4M826 398h2.4M957 322h2.4M870 337h2.4M816 355h2.4M898 313h2.4M786 244h2.4M884 332h2.4M893 336h2.4M933 320h2.4M766 264h2.4M897 321h2.4M649 251h2.4M751 247h2.4M641 366h2.4M879 372h2.4M804 271h2.4M796 276h2.4M812 378h2.4M793 251h2.4M841 364h2.4M798 257h2.4M808 241h2.4M769 277h2.4M786 259h2.4M861 329h2.4M861 365h2.4M949 267h2.4M867 366h2.4M811 427h2.4M805 438h2.4M885 366h2.4M784 270h2.4M792 255h2.4M824 485h2.4M867 374h2.4M778 256h2.4M891 359h2.4M814 424h2.4M943 275h2.4M887 366h2.4M788 257h2.4M839 411h2.4M921 350h2.4M817 412h2.4M782 467h2.4M926 279h2.4M915 327h2.4M886 346h2.4M854 382h2.4M690 252h2.4M803 571h2.4M785 252h2.4M790 218h2.4M790 239h2.4M821 404h2.4M880 307h2.4M908 317h2.4M868 182h2.4M776 295h2.4M919 347h2.4M787 290h2.4M858 345h2.4M889 334h2.4M783 470h2.4M796 239h2.4M800 248h2.4M789 271h2.4M782 238h2.4M797 430h2.4M920 307h2.4M829 382h2.4M784 233h2.4M789 239h2.4M768 273h2.4M872 334h2.4M801 249h2.4M825 468h2.4M783 292h2.4M837 382h2.4M854 368h2.4M870 362h2.4M805 436h2.4M879 352h2.4M641 388h2.4M783 268h2.4M827 189h2.4M874 380h2.4M920 314h2.4M952 300h2.4M839 428h2.4M889 344h2.4M786 242h2.4M799 255h2.4M896 335h2.4M801 248h2.4M902 319h2.4M787 441h2.4M843 387h2.4M787 236h2.4M789 249h2.4M850 370h2.4M800 418h2.4M886 379h2.4M936 274h2.4M833 359h2.4M771 273h2.4M758 300h2.4M834 221h2.4M894 322h2.4M830 269h2.4M806 424h2.4M837 385h2.4M834 457h2.4M889 341h2.4M810 436h2.4M773 235h2.4M926 321h2.4M867 345h2.4M819 437h2.4M872 340h2.4M811 394h2.4M829 371h2.4M846 372h2.4M771 260h2.4M780 262h2.4M800 288h2.4M789 243h2.4M921 306h2.4M767 241h2.4M913 311h2.4M798 270h2.4M799 258h2.4M916 321h2.4M886 355h2.4M828 416h2.4M808 407h2.4"/>
<path d="M777 267h2.4M849 349h2.4M847 476h2.4M917 326h2.4M924 304h2.4M792 238h2.4M851 385h2.4M918 295h2.4M884 387h2.4M966 346h2.4M802 265h2.4M867 366h2.4M812 393h2.4M956 293h2.4M776 236h2.4M522 255h2.4M775 268h2.4M922 327h2.4M775 256h2.4M774 265h2.4M920 318h2.4M912 314h2.4M892 354h2.4M793 236h2.4M904 320h2.4M926 321h2.4M887 293h2.4M841 492h2.4M878 311h2.4M906 355h2.4M912 299h2.4M828 403h2.4M792 251h2.4M773 240h2.4M876 337h2.4M860 369h2.4M884 325h2.4M740 311h2.4M814 439h2.4M895 351h2.4M724 310h2.4M912 354h2.4M892 353h2.4M879 360h2.4M721 348h2.4M898 355h2.4M903 284h2.4M824 392h2.4M799 274h2.4M779 235h2.4M727 367h2.4M793 262h2.4M776 266h2.4M838 530h2.4M877 356h2.4M877 310h2.4M799 269h2.4M675 202h2.4M910 304h2.4M825 186h2.4M831 351h2.4M766 237h2.4M782 241h2.4M833 577h2.4M864 392h2.4M899 348h2.4M874 352h2.4M780 277h2.4M789 273h2.4M804 529h2.4M924 294h2.4M837 440h2.4M907 289h2.4M808 311h2.4M843 392h2.4M905 318h2.4M774 267h2.4M896 321h2.4M805 530h2.4M760 280h2.4M799 383h2.4M806 235h2.4M843 371h2.4M925 252h2.4M861 375h2.4M888 345h2.4M811 238h2.4M890 327h2.4M675 267h2.4M873 348h2.4M616 218h2.4M795 248h2.4M763 311h2.4M914 320h2.4M810 382h2.4M778 283h2.4M810 400h2.4M846 379h2.4M785 259h2.4M885 339h2.4M782 272h2.4M781 268h2.4M900 283h2.4M802 245h2.4M901 346h2.4M814 402h2.4M956 290h2.4M798 475h2.4M895 327h2.4M883 356h2.4M805 428h2.4M885 324h2.4M890 314h2.4M860 467h2.4M892 327h2.4M781 257h2.4M776 269h2.4M696 229h2.4M815 415h2.4M801 255h2.4M969 312h2.4M879 348h2.4M899 353h2.4M780 253h2.4M885 354h2.4M805 413h2.4M952 333h2.4M824 429h2.4M802 405h2.4M822 301h2.4M808 253h2.4M807 425h2.4M784 283h2.4M824 383h2.4M868 361h2.4M857 396h2.4M743 274h2.4M870 341h2.4M844 385h2.4M932 295h2.4M907 331h2.4M835 407h2.4M812 428h2.4M904 317h2.4M784 254h2.4M889 333h2.4M840 373h2.4M808 402h2.4M871 354h2.4M924 319h2.4M796 248h2.4M762 295h2.4M905 338h2.4M901 322h2.4M787 247h2.4M772 204h2.4M908 338h2.4M787 211h2.4M930 296h2.4M921 307h2.4M800 277h2.4M778 270h2.4M774 259h2.4M788 240h2.4M897 331h2.4M876 339h2.4M870 160h2.4M786 251h2.4M836 439h2.4M940 288h2.4M793 247h2.4M804 256h2.4M816 373h2.4M530 250h2.4M823 415h2.4M884 339h2.4M914 277h2.4M794 229h2.4M825 186h2.4M902 334h2.4M863 348h2.4M823 551h2.4M882 307h2.4M825 433h2.4M926 294h2.4M882 353h2.4M899 349h2.4M813 358h2.4M785 269h2.4M925 322h2.4M886 310h2.4M896 348h2.4M786 281h2.4M941 275h2.4M807 413h2.4M780 250h2.4M877 340h2.4M884 332h2.4M921 312h2.4M785 247h2.4M695 345h2.4M791 253h2.4M909 320h2.4M783 387h2.4M675 339h2.4M884 312h2.4M820 444h2.4M876 346h2.4M801 274h2.4M801 249h2.4M898 341h2.4M916 294h2.4M801 274h2.4M814 431h2.4M886 330h2.4M827 385h2.4M918 326h2.4M858 365h2.4M885 341h2.4M778 239h2.4M794 227h2.4M805 409h2.4M806 457h2.4M893 305h2.4M833 390h2.4M902 325h2.4M904 291h2.4M874 353h2.4M882 367h2.4M801 246h2.4M943 313h2.4M805 446h2.4M829 404h2.4M844 337h2.4M820 441h2.4M885 321h2.4M777 248h2.4M796 255h2.4M877 355h2.4M610 219h2.4M795 272h2.4M794 262h2.4M871 355h2.4M800 258h2.4M823 599h2.4M934 315h2.4M803 259h2.4M912 325h2.4M771 280h2.4M767 257h2.4M866 370h2.4M890 363h2.4M922 279h2.4M630 268h2.4M734 244h2.4M778 496h2.4M807 276h2.4M877 348h2.4M796 243h2.4M814 266h2.4M708 258h2.4M665 360h2.4M729 228h2.4M776 230h2.4M794 241h2.4M749 282h2.4M862 380h2.4M829 373h2.4M777 271h2.4M877 385h2.4M804 453h2.4M895 330h2.4M802 434h2.4M786 260h2.4M820 375h2.4M768 212h2.4M943 292h2.4M715 329h2.4M784 250h2.4M786 278h2.4M887 337h2.4M657 348h2.4M809 256h2.4M784 246h2.4M812 188h2.4M675 350h2.4M785 263h2.4M792 326h2.4M885 360h2.4M890 329h2.4M893 329h2.4M892 329h2.4M799 247h2.4M795 285h2.4M909 319h2.4M827 402h2.4M909 330h2.4M804 505h2.4M784 237h2.4M779 249h2.4M789 445h2.4M795 250h2.4M806 447h2.4M866 354h2.4M576 240h2.4M864 205h2.4M860 365h2.4M800 432h2.4M916 331h2.4M784 279h2.4M888 330h2.4M677 344h2.4M790 453h2.4M876 340h2.4M759 250h2.4M808 431h2.4M822 359h2.4M872 358h2.4M808 444h2.4M788 264h2.4M877 318h2.4M828 505h2.4M807 255h2.4M893 337h2.4M800 263h2.4M836 387h2.4M826 476h2.4M915 313h2.4M801 251h2.4M790 240h2.4M889 374h2.4M784 235h2.4M824 451h2.4M878 323h2.4M771 267h2.4M792 372h2.4M749 283h2.4M816 268h2.4M920 319h2.4M938 297h2.4M893 366h2.4M785 255h2.4M782 451h2.4M762 240h2.4M908 340h2.4M621 187h2.4M850 388h2.4M792 485h2.4M812 404h2.4M783 258h2.4M901 320h2.4M903 289h2.4M871 343h2.4M794 419h2.4M846 371h2.4M888 339h2.4M882 336h2.4M920 316h2.4M843 361h2.4M845 394h2.4M915 285h2.4M860 218h2.4M794 263h2.4M906 319h2.4M913 325h2.4M861 385h2.4M841 421h2.4M774 245h2.4M806 419h2.4M899 325h2.4M897 321h2.4M868 395h2.4M890 314h2.4M787 268h2.4M812 281h2.4M670 237h2.4M927 289h2.4M868 201h2.4M743 310h2.4M712 234h2.4M803 250h2.4M808 269h2.4M787 242h2.4M784 257h2.4M896 330h2.4M749 297h2.4M911 330h2.4M793 270h2.4M902 297h2.4M820 413h2.4M940 305h2.4M900 377h2.4M955 297h2.4M743 308h2.4M781 251h2.4M898 344h2.4M803 512h2.4M835 381h2.4M770 437h2.4M843 221h2.4M883 353h2.4M842 414h2.4M730 308h2.4M773 283h2.4M814 386h2.4M832 410h2.4M833 389h2.4M815 410h2.4M871 388h2.4M823 420h2.4M803 576h2.4M777 252h2.4M761 264h2.4M659 199h2.4M814 535h2.4M938 304h2.4M795 266h2.4M850 435h2.4M919 281h2.4M967 328h2.4M915 313h2.4M910 318h2.4M797 248h2.4M803 398h2.4M803 397h2.4M820 408h2.4M865 374h2.4M738 263h2.4M909 313h2.4M954 472h2.4M865 340h2.4M860 362h2.4M831 421h2.4M822 397h2.4M556 583h2.4M899 332h2.4M897 334h2.4M874 326h2.4M811 447h2.4M892 348h2.4M773 267h2.4M763 243h2.4M865 381h2.4M886 384h2.4M810 394h2.4M679 346h2.4M892 343h2.4M821 456h2.4M899 303h2.4M878 374h2.4M879 331h2.4M825 401h2.4M802 457h2.4M892 323h2.4M864 372h2.4M865 378h2.4M917 295h2.4M805 247h2.4M781 252h2.4M847 375h2.4M896 332h2.4M819 391h2.4M793 249h2.4M847 457h2.4M904 354h2.4M868 331h2.4M762 302h2.4M816 445h2.4M817 397h2.4M912 314h2.4M846 435h2.4M788 249h2.4M865 403h2.4M916 320h2.4M836 218h2.4M799 304h2.4M791 216h2.4M864 367h2.4M924 327h2.4M795 449h2.4M778 239h2.4M793 273h2.4M852 416h2.4M890 313h2.4M784 279h2.4M833 387h2.4M832 392h2.4M777 429h2.4M924 312h2.4M880 417h2.4M799 250h2.4M809 460h2.4M878 146h2.4M821 423h2.4M819 400h2.4M911 325h2.4M811 417h2.4M767 265h2.4M912 339h2.4M873 304h2.4M940 284h2.4M864 399h2.4M846 393h2.4M866 339h2.4M804 267h2.4M830 425h2.4M873 339h2.4M889 340h2.4M808 237h2.4M767 239h2.4M820 387h2.4M778 212h2.4M871 377h2.4M790 243h2.4M917 295h2.4M818 425h2.4M816 416h2.4M863 362h2.4M864 166h2.4M914 333h2.4M821 470h2.4M903 317h2.4M703 296h2.4M785 206h2.4M811 234h2.4M810 415h2.4M770 236h2.4M822 414h2.4M766 263h2.4M695 239h2.4M780 253h2.4M807 459h2.4M807 424h2.4M775 243h2.4M802 411h2.4M931 293h2.4M791 278h2.4M917 315h2.4M741 307h2.4M806 396h2.4M796 246h2.4M873 372h2.4M801 238h2.4M878 329h2.4M895 319h2.4M826 447h2.4M790 260h2.4M763 242h2.4M796 271h2.4M784 457h2.4M920 328h2.4M758 256h2.4M907 321h2.4M794 433h2.4M896 349h2.4M944 302h2.4M798 402h2.4M946 332h2.4M470 230h2.4M777 248h2.4M784 294h2.4M873 356h2.4M795 260h2.4M868 361h2.4M924 295h2.4M780 245h2.4M839 432h2.4M846 370h2.4M785 257h2.4M849 407h2.4M913 324h2.4M798 437h2.4M904 304h2.4M829 507h2.4M760 240h2.4M829 426h2.4M786 257h2.4M884 349h2.4M859 387h2.4M821 410h2.4M797 428h2.4M887 339h2.4M801 232h2.4M837 423h2.4M872 369h2.4M900 345h2.4M913 359h2.4M809 393h2.4M821 389h2.4M901 330h2.4M836 388h2.4M840 366h2.4M917 335h2.4M792 270h2.4M930 290h2.4M807 487h2.4M703 314h2.4M917 322h2.4M739 330h2.4M794 240h2.4M773 249h2.4M816 400h2.4M797 273h2.4M887 350h2.4M765 263h2.4M798 446h2.4M765 236h2.4M868 352h2.4M898 339h2.4M816 390h2.4M843 340h2.4M794 245h2.4M779 267h2.4M662 357h2.4M857 397h2.4M912 354h2.4M855 370h2.4M881 340h2.4M591 263h2.4M824 450h2.4M866 350h2.4M905 342h2.4M864 355h2.4M771 273h2.4M777 248h2.4M882 341h2.4M780 236h2.4M916 311h2.4M929 300h2.4M917 334h2.4M850 381h2.4M874 348h2.4M799 417h2.4M806 468h2.4M855 382h2.4M685 203h2.4M800 238h2.4M810 417h2.4M731 259h2.4M907 334h2.4M821 405h2.4M802 445h2.4M769 241h2.4M841 374h2.4M805 406h2.4M893 329h2.4M894 326h2.4M602 261h2.4M821 433h2.4M762 251h2.4M839 348h2.4M901 337h2.4M757 249h2.4M778 243h2.4M751 222h2.4M800 235h2.4M802 291h2.4M804 443h2.4M863 336h2.4M774 249h2.4M796 241h2.4M842 422h2.4M812 452h2.4M931 314h2.4M852 365h2.4M942 323h2.4M795 266h2.4M869 371h2.4M779 269h2.4M795 319h2.4M794 240h2.4M757 216h2.4M948 265h2.4M869 363h2.4M820 274h2.4M902 295h2.4M883 340h2.4M904 314h2.4M883 331h2.4M899 353h2.4M903 311h2.4M805 449h2.4M806 515h2.4M670 356h2.4M774 259h2.4M919 324h2.4M849 380h2.4M783 250h2.4M744 243h2.4M799 249h2.4M802 396h2.4M778 250h2.4M784 241h2.4M785 235h2.4M833 407h2.4M773 234h2.4M808 257h2.4M798 441h2.4M782 245h2.4M817 405h2.4M793 253h2.4M860 437h2.4M727 339h2.4M906 264h2.4M819 424h2.4M831 421h2.4M791 270h2.4M844 394h2.4M894 320h2.4M814 426h2.4M869 355h2.4M901 282h2.4M901 340h2.4M896 369h2.4M783 295h2.4M825 399h2.4M546 238h2.4M823 410h2.4M916 366h2.4M690 315h2.4M893 339h2.4M855 414h2.4M815 213h2.4M791 270h2.4M832 460h2.4M770 235h2.4M780 287h2.4M781 242h2.4M870 329h2.4M775 244h2.4M597 226h2.4M792 291h2.4M816 267h2.4M862 325h2.4M814 424h2.4M792 379h2.4M785 242h2.4M857 355h2.4M756 214h2.4M900 326h2.4M849 336h2.4M783 247h2.4M725 201h2.4M848 382h2.4M794 282h2.4M882 348h2.4M814 582h2.4M732 276h2.4M809 247h2.4M717 232h2.4M906 316h2.4M885 343h2.4M807 239h2.4M810 364h2.4M813 262h2.4M834 390h2.4M839 226h2.4M897 349h2.4M655 368h2.4M802 252h2.4M803 241h2.4M878 336h2.4M782 290h2.4M779 241h2.4M810 235h2.4M902 322h2.4M863 329h2.4M899 349h2.4M784 272h2.4M889 361h2.4M791 273h2.4M899 325h2.4M818 441h2.4M943 326h2.4M798 240h2.4M790 263h2.4M765 268h2.4M787 235h2.4M950 260h2.4M782 260h2.4M917 342h2.4M883 347h2.4M929 229h2.4M892 335h2.4M804 399h2.4M669 369h2.4M885 363h2.4M806 241h2.4M802 415h2.4M891 316h2.4M678 361h2.4M767 261h2.4M889 347h2.4M792 269h2.4M793 219h2.4M809 370h2.4M837 408h2.4M789 264h2.4M875 335h2.4M833 411h2.4M636 206h2.4M857 341h2.4M796 240h2.4M794 251h2.4M834 363h2.4M883 391h2.4M831 494h2.4M826 430h2.4M663 245h2.4M802 410h2.4M817 234h2.4M778 267h2.4M810 243h2.4M796 239h2.4M841 386h2.4M883 352h2.4M782 275h2.4M812 409h2.4M898 326h2.4M860 299h2.4M910 322h2.4M802 254h2.4M586 236h2.4M878 336h2.4M763 291h2.4M898 344h2.4M773 240h2.4M776 288h2.4M575 238h2.4M796 241h2.4M661 195h2.4M834 214h2.4M853 404h2.4M930 320h2.4M724 210h2.4M807 247h2.4M802 276h2.4M799 461h2.4M929 288h2.4M896 337h2.4M764 252h2.4M912 301h2.4M894 301h2.4M915 330h2.4M810 256h2.4M853 440h2.4M805 382h2.4M817 436h2.4M746 232h2.4M825 460h2.4M799 242h2.4M754 235h2.4M794 434h2.4M825 386h2.4M771 256h2.4M803 509h2.4M823 407h2.4M866 350h2.4M903 332h2.4M815 420h2.4M890 361h2.4M816 437h2.4M854 329h2.4M937 313h2.4M840 416h2.4M803 238h2.4M832 267h2.4M817 396h2.4M833 180h2.4M883 360h2.4M895 318h2.4M903 320h2.4M790 248h2.4M886 369h2.4M789 248h2.4M817 477h2.4M898 347h2.4M834 388h2.4M784 261h2.4M888 297h2.4M680 216h2.4M789 577h2.4M911 305h2.4M907 316h2.4M923 300h2.4M801 476h2.4M916 308h2.4M808 472h2.4M815 462h2.4M790 181h2.4M863 370h2.4M891 336h2.4M928 308h2.4M890 320h2.4M814 375h2.4M792 265h2.4M869 351h2.4M906 311h2.4M798 302h2.4M823 408h2.4M877 383h2.4M876 333h2.4M874 356h2.4M832 479h2.4M787 367h2.4M883 351h2.4M856 346h2.4M800 423h2.4M730 296h2.4M821 442h2.4M777 245h2.4M792 254h2.4M745 285h2.4M844 393h2.4M795 246h2.4M776 247h2.4M799 275h2.4M701 223h2.4M780 262h2.4M732 307h2.4M792 524h2.4M874 337h2.4M900 339h2.4M780 268h2.4M802 543h2.4M877 359h2.4M798 261h2.4M779 227h2.4M786 242h2.4M872 343h2.4M872 352h2.4M783 272h2.4M848 171h2.4M861 383h2.4M870 346h2.4M771 256h2.4M721 239h2.4M965 275h2.4M730 284h2.4M793 218h2.4M900 366h2.4M914 321h2.4M800 246h2.4M912 328h2.4M806 398h2.4M807 254h2.4M807 402h2.4M682 205h2.4M847 206h2.4M788 272h2.4M802 407h2.4M729 254h2.4M758 243h2.4M821 467h2.4M790 275h2.4M873 337h2.4M809 494h2.4M828 428h2.4M910 296h2.4M662 382h2.4M777 264h2.4M809 418h2.4M815 422h2.4M801 273h2.4M627 215h2.4M921 327h2.4M871 173h2.4M882 378h2.4M802 187h2.4M747 399h2.4M874 319h2.4M909 321h2.4M859 356h2.4M930 305h2.4M876 343h2.4M839 178h2.4M789 263h2.4M881 347h2.4M837 350h2.4M807 420h2.4M908 315h2.4M872 372h2.4M780 424h2.4M795 271h2.4M908 321h2.4M897 336h2.4M786 269h2.4M882 341h2.4M759 258h2.4M872 339h2.4M886 342h2.4M803 268h2.4M773 243h2.4M803 536h2.4M859 343h2.4M823 413h2.4M857 348h2.4M870 331h2.4M907 380h2.4M793 236h2.4M835 574h2.4M806 403h2.4M888 304h2.4M806 448h2.4M821 235h2.4M825 437h2.4M893 367h2.4M922 302h2.4M811 414h2.4M791 273h2.4M700 344h2.4M860 380h2.4M799 239h2.4M682 280h2.4M946 310h2.4M812 403h2.4M760 264h2.4M758 243h2.4M877 387h2.4M755 221h2.4M799 233h2.4M776 258h2.4M792 268h2.4M876 358h2.4M814 252h2.4M782 280h2.4M917 317h2.4M882 343h2.4M781 279h2.4M861 435h2.4M893 358h2.4M836 405h2.4M743 225h2.4M869 389h2.4M749 290h2.4M920 319h2.4M820 403h2.4M929 283h2.4M894 327h2.4M844 374h2.4M882 362h2.4M916 325h2.4M734 294h2.4M810 439h2.4M760 243h2.4M886 359h2.4M782 269h2.4M721 242h2.4M794 259h2.4M807 475h2.4M803 262h2.4M920 324h2.4M803 375h2.4M819 378h2.4M878 307h2.4M596 211h2.4M926 310h2.4M812 430h2.4M886 294h2.4M893 361h2.4M805 453h2.4M858 381h2.4M658 235h2.4M799 402h2.4M913 330h2.4M742 248h2.4M839 448h2.4M816 610h2.4M928 326h2.4M893 362h2.4M769 288h2.4M868 335h2.4M856 382h2.4M790 263h2.4M678 201h2.4M813 291h2.4M801 420h2.4M906 349h2.4M825 403h2.4M798 429h2.4M789 263h2.4M788 250h2.4M808 421h2.4M651 178h2.4M742 224h2.4M857 397h2.4M853 389h2.4M918 287h2.4M853 356h2.4M879 336h2.4M901 315h2.4M779 402h2.4M851 387h2.4M879 375h2.4M820 548h2.4M877 355h2.4M785 254h2.4M832 344h2.4M903 341h2.4M816 499h2.4M905 332h2.4M831 400h2.4M875 401h2.4M886 333h2.4M874 357h2.4M816 434h2.4M844 377h2.4M820 453h2.4M887 345h2.4M771 235h2.4M782 275h2.4M807 418h2.4M788 290h2.4M820 420h2.4M848 368h2.4M648 360h2.4M808 456h2.4M891 343h2.4M524 202h2.4M869 374h2.4M776 256h2.4M828 402h2.4M712 345h2.4M807 400h2.4M839 391h2.4M807 452h2.4M863 352h2.4M809 408h2.4M890 360h2.4M851 360h2.4M652 239h2.4M789 253h2.4M938 278h2.4M689 376h2.4M734 248h2.4M793 254h2.4M805 292h2.4M881 331h2.4M876 349h2.4M814 552h2.4M821 452h2.4M887 344h2.4M809 404h2.4M766 257h2.4M616 520h2.4M806 392h2.4M674 359h2.4M895 327h2.4M834 373h2.4M678 354h2.4M780 442h2.4M868 357h2.4M796 267h2.4M888 360h2.4M813 415h2.4M890 373h2.4M792 292h2.4M791 276h2.4M803 257h2.4M926 291h2.4M817 388h2.4M906 317h2.4M791 247h2.4M821 413h2.4M860 336h2.4M812 426h2.4M889 342h2.4M774 272h2.4M897 348h2.4M904 324h2.4M814 389h2.4M878 331h2.4M796 261h2.4M788 252h2.4M853 402h2.4M786 294h2.4M893 326h2.4M780 244h2.4M800 405h2.4M882 334h2.4M749 249h2.4M910 330h2.4M824 444h2.4M836 493h2.4M654 183h2.4M864 351h2.4M865 341h2.4M797 264h2.4M850 374h2.4M874 333h2.4M825 349h2.4M912 338h2.4M788 258h2.4M818 166h2.4M778 248h2.4M811 444h2.4M878 343h2.4M717 308h2.4M921 353h2.4M826 372h2.4M782 252h2.4M835 187h2.4M785 244h2.4M828 209h2.4M906 316h2.4M898 348h2.4M859 369h2.4M807 168h2.4M942 329h2.4M799 281h2.4M798 239h2.4M832 404h2.4M871 393h2.4M880 371h2.4M775 281h2.4M806 292h2.4M888 411h2.4M817 367h2.4M893 335h2.4M877 444h2.4M814 432h2.4M827 460h2.4M798 262h2.4M798 376h2.4M783 242h2.4M789 235h2.4M801 250h2.4M897 334h2.4M819 443h2.4M872 373h2.4M763 268h2.4M911 337h2.4M764 210h2.4M890 345h2.4M904 347h2.4M951 361h2.4M606 233h2.4M770 236h2.4M892 316h2.4M894 342h2.4M799 240h2.4M782 230h2.4M928 293h2.4M761 263h2.4M637 259h2.4M933 304h2.4M789 266h2.4M830 207h2.4M806 385h2.4M771 264h2.4M869 362h2.4M882 348h2.4M819 405h2.4M798 252h2.4M866 372h2.4M881 341h2.4M910 315h2.4M835 408h2.4M816 408h2.4M902 342h2.4M775 240h2.4M776 250h2.4M496 259h2.4M779 264h2.4M893 314h2.4M841 206h2.4M801 263h2.4M898 350h2.4M898 349h2.4M766 263h2.4M896 322h2.4M799 251h2.4M861 353h2.4M907 324h2.4M793 244h2.4M916 313h2.4M895 363h2.4M908 305h2.4M877 316h2.4M893 330h2.4M915 291h2.4M930 339h2.4M920 279h2.4M889 332h2.4M846 358h2.4M873 371h2.4M889 317h2.4M877 331h2.4M788 283h2.4M783 266h2.4M807 241h2.4M883 376h2.4M499 227h2.4M850 378h2.4M684 337h2.4M901 349h2.4M800 427h2.4M858 187h2.4M926 305h2.4M867 345h2.4M654 247h2.4M789 213h2.4M920 313h2.4M822 406h2.4M802 250h2.4M704 288h2.4M792 199h2.4M894 327h2.4M823 179h2.4M873 368h2.4M776 271h2.4M748 279h2.4M800 243h2.4M872 362h2.4M776 229h2.4M746 299h2.4M824 433h2.4M751 243h2.4M794 235h2.4M891 380h2.4M887 341h2.4M887 333h2.4M762 267h2.4M910 309h2.4M824 413h2.4M877 359h2.4M783 240h2.4M902 322h2.4M900 354h2.4M820 488h2.4M908 312h2.4M721 344h2.4M784 194h2.4M870 326h2.4M898 283h2.4M795 259h2.4M856 356h2.4M913 316h2.4M783 236h2.4M785 270h2.4M797 447h2.4M786 542h2.4M883 361h2.4M822 380h2.4M783 246h2.4M852 396h2.4M804 260h2.4M789 444h2.4M784 244h2.4M931 315h2.4M900 344h2.4M904 335h2.4M902 317h2.4M814 262h2.4M804 473h2.4M916 319h2.4M924 335h2.4M855 389h2.4M893 337h2.4M790 249h2.4M822 200h2.4M763 272h2.4M903 338h2.4M890 357h2.4M809 439h2.4M856 351h2.4M790 258h2.4M857 234h2.4M811 280h2.4M700 242h2.4M715 192h2.4M926 330h2.4M784 236h2.4M920 305h2.4M900 317h2.4M849 372h2.4M810 245h2.4M760 221h2.4M805 458h2.4M827 385h2.4M860 365h2.4M944 290h2.4M885 350h2.4M775 248h2.4M875 327h2.4M799 243h2.4M811 221h2.4M637 260h2.4M800 263h2.4M916 327h2.4M752 253h2.4M776 268h2.4M800 236h2.4M837 378h2.4M898 351h2.4M883 336h2.4M797 391h2.4M521 238h2.4M907 370h2.4M811 418h2.4M865 403h2.4M786 252h2.4M877 361h2.4M887 319h2.4M892 337h2.4M882 344h2.4M612 363h2.4M872 363h2.4M814 450h2.4M892 331h2.4M890 316h2.4M771 251h2.4M900 316h2.4M815 264h2.4M849 340h2.4M773 269h2.4M909 322h2.4M820 385h2.4M884 344h2.4M796 246h2.4M792 266h2.4M779 264h2.4M812 263h2.4M879 354h2.4M830 399h2.4M833 300h2.4M804 381h2.4M883 346h2.4M864 393h2.4M804 255h2.4M782 287h2.4M921 295h2.4M874 348h2.4M780 291h2.4M927 346h2.4M825 215h2.4M887 323h2.4M949 305h2.4M920 301h2.4M779 257h2.4M744 276h2.4M768 256h2.4M805 383h2.4M897 318h2.4M751 547h2.4M708 195h2.4M884 361h2.4M756 239h2.4M775 267h2.4M809 422h2.4M797 437h2.4M765 250h2.4M890 332h2.4M844 408h2.4M790 291h2.4M876 287h2.4M921 309h2.4M790 220h2.4M868 149h2.4M815 393h2.4M919 291h2.4M801 459h2.4M914 294h2.4M926 286h2.4M876 329h2.4M600 260h2.4M888 322h2.4M812 453h2.4M768 205h2.4M812 384h2.4M786 239h2.4M917 312h2.4M844 385h2.4M801 403h2.4M902 335h2.4M887 327h2.4M941 320h2.4M793 284h2.4M787 256h2.4M866 367h2.4M803 278h2.4M873 360h2.4M779 265h2.4M769 247h2.4M783 230h2.4M773 250h2.4M889 343h2.4M862 352h2.4M764 240h2.4M788 246h2.4M890 339h2.4M893 351h2.4M801 471h2.4M869 335h2.4M876 333h2.4M657 354h2.4M770 247h2.4M767 294h2.4M755 245h2.4M768 237h2.4M778 251h2.4M793 255h2.4M879 403h2.4M792 541h2.4M906 338h2.4M941 296h2.4M870 330h2.4M913 384h2.4M910 308h2.4M883 351h2.4M901 305h2.4M817 296h2.4M799 193h2.4M768 253h2.4M813 375h2.4M814 471h2.4M912 317h2.4M873 333h2.4M662 251h2.4M827 255h2.4M778 289h2.4M885 344h2.4M901 345h2.4M900 364h2.4M797 247h2.4M791 274h2.4M799 425h2.4M879 352h2.4M781 255h2.4M709 309h2.4M891 358h2.4M813 272h2.4M791 386h2.4M853 422h2.4M904 310h2.4M810 253h2.4M697 198h2.4M803 276h2.4M923 301h2.4M785 269h2.4M842 354h2.4M905 337h2.4M779 269h2.4M924 300h2.4M789 259h2.4M909 354h2.4M906 326h2.4M897 338h2.4M779 249h2.4M833 368h2.4M885 315h2.4M796 390h2.4M925 290h2.4M832 395h2.4M761 252h2.4M794 408h2.4M853 397h2.4M776 226h2.4M549 252h2.4M889 348h2.4M796 439h2.4M857 315h2.4M896 314h2.4M906 314h2.4M793 273h2.4M862 391h2.4M916 343h2.4M794 285h2.4M892 324h2.4M780 411h2.4M877 344h2.4M875 372h2.4M810 456h2.4M770 232h2.4M856 338h2.4M784 235h2.4M644 195h2.4M799 492h2.4M796 421h2.4M947 320h2.4M818 529h2.4M824 373h2.4M863 348h2.4M903 322h2.4M909 302h2.4M659 367h2.4M705 315h2.4M793 268h2.4M704 202h2.4M892 341h2.4M802 492h2.4M679 363h2.4M844 323h2.4M801 421h2.4M929 262h2.4M796 263h2.4M773 241h2.4M770 289h2.4M880 318h2.4M812 418h2.4M834 419h2.4M787 263h2.4M940 294h2.4M903 311h2.4M812 408h2.4M637 369h2.4M764 262h2.4M888 366h2.4M877 377h2.4M851 236h2.4M904 336h2.4M906 298h2.4M897 323h2.4M773 235h2.4M896 328h2.4M878 345h2.4M943 273h2.4M799 274h2.4M877 401h2.4M636 233h2.4M866 342h2.4M884 377h2.4M821 428h2.4M829 397h2.4M808 272h2.4M780 295h2.4M885 335h2.4M846 357h2.4M827 422h2.4M889 302h2.4M783 240h2.4M883 334h2.4M885 354h2.4M800 286h2.4M869 419h2.4M813 370h2.4M859 397h2.4M829 383h2.4M926 284h2.4M936 337h2.4M735 304h2.4M814 581h2.4M786 249h2.4M907 352h2.4M787 238h2.4M840 377h2.4M772 253h2.4M807 419h2.4M930 319h2.4M802 394h2.4M652 206h2.4M872 325h2.4M896 305h2.4M903 352h2.4M860 360h2.4M918 312h2.4M817 408h2.4M811 255h2.4M709 254h2.4M808 252h2.4M801 278h2.4M863 450h2.4M836 409h2.4M907 316h2.4M851 357h2.4M759 255h2.4M812 420h2.4M805 400h2.4M783 253h2.4M811 438h2.4M929 331h2.4M920 287h2.4M891 333h2.4M822 477h2.4M792 283h2.4M804 415h2.4M778 271h2.4M780 237h2.4M814 236h2.4M823 394h2.4M779 268h2.4M887 318h2.4M710 255h2.4M868 345h2.4M800 446h2.4M792 270h2.4M872 451h2.4M795 261h2.4M873 349h2.4M871 357h2.4M829 225h2.4M880 357h2.4M891 321h2.4M726 530h2.4M784 240h2.4M791 239h2.4M802 490h2.4M817 405h2.4M942 314h2.4M782 269h2.4M794 268h2.4M869 396h2.4M808 460h2.4M896 300h2.4M817 388h2.4M911 325h2.4M922 312h2.4M793 391h2.4M802 280h2.4M814 461h2.4M859 354h2.4M871 348h2.4M789 407h2.4M896 386h2.4M888 308h2.4M888 321h2.4M792 480h2.4M544 277h2.4M858 431h2.4M847 410h2.4M779 245h2.4M878 339h2.4M819 417h2.4M813 276h2.4M859 410h2.4M649 361h2.4M775 218h2.4M895 351h2.4M879 373h2.4M836 393h2.4M766 237h2.4M780 425h2.4M755 194h2.4M793 246h2.4M786 250h2.4M769 275h2.4M876 347h2.4M807 474h2.4M837 243h2.4M909 356h2.4M767 248h2.4M904 338h2.4M810 255h2.4M834 400h2.4M821 450h2.4M960 251h2.4M826 470h2.4M929 320h2.4M854 371h2.4M898 330h2.4M796 246h2.4M882 377h2.4M890 353h2.4M796 244h2.4M766 251h2.4M934 288h2.4M659 299h2.4M783 248h2.4M835 468h2.4M786 261h2.4M818 394h2.4M731 215h2.4M786 285h2.4M857 387h2.4M790 265h2.4M802 476h2.4M821 407h2.4M806 266h2.4M726 294h2.4M753 272h2.4M899 332h2.4M892 348h2.4M749 238h2.4M790 254h2.4M908 304h2.4M930 311h2.4M881 343h2.4M788 269h2.4M847 409h2.4M887 339h2.4M798 402h2.4M888 354h2.4M929 314h2.4M828 444h2.4M814 405h2.4M907 370h2.4M792 233h2.4M936 331h2.4M819 209h2.4M856 371h2.4M782 262h2.4M807 444h2.4M810 402h2.4M790 279h2.4M881 326h2.4M807 259h2.4M786 284h2.4M907 320h2.4M895 335h2.4M785 254h2.4M789 261h2.4M874 335h2.4M901 303h2.4M874 362h2.4M857 364h2.4M893 327h2.4M944 299h2.4M770 255h2.4M798 260h2.4M806 489h2.4M725 293h2.4M920 305h2.4M905 358h2.4M869 331h2.4M816 385h2.4M789 252h2.4M841 422h2.4M802 406h2.4M793 255h2.4M828 367h2.4M919 309h2.4M808 262h2.4M798 257h2.4M897 338h2.4M792 412h2.4M796 237h2.4M909 330h2.4M867 427h2.4M876 337h2.4M860 358h2.4M802 454h2.4M770 273h2.4M777 242h2.4M866 394h2.4M878 347h2.4M810 262h2.4M906 306h2.4M810 407h2.4M903 323h2.4M807 406h2.4M843 420h2.4M799 267h2.4M873 358h2.4M779 252h2.4M858 366h2.4M811 390h2.4M811 428h2.4M798 259h2.4M889 327h2.4M785 249h2.4M775 473h2.4M721 215h2.4M802 412h2.4M780 389h2.4M774 260h2.4M872 338h2.4M782 221h2.4M896 327h2.4M790 281h2.4M884 324h2.4M903 319h2.4M907 316h2.4M893 344h2.4M797 250h2.4M818 437h2.4M897 314h2.4M772 277h2.4M784 263h2.4M808 409h2.4M874 354h2.4M908 341h2.4M774 257h2.4M784 247h2.4M814 382h2.4M883 374h2.4M857 377h2.4M764 278h2.4M884 328h2.4M904 329h2.4M707 274h2.4M798 466h2.4M910 313h2.4M907 302h2.4M929 317h2.4M767 235h2.4M794 253h2.4M811 230h2.4M904 265h2.4M808 264h2.4M795 271h2.4M898 312h2.4M851 337h2.4M807 400h2.4M780 252h2.4M921 299h2.4M829 232h2.4M789 259h2.4M950 274h2.4M892 344h2.4M859 373h2.4M784 238h2.4M900 314h2.4M857 339h2.4M741 257h2.4M776 247h2.4M788 237h2.4M898 341h2.4M786 245h2.4M783 289h2.4M663 388h2.4M895 349h2.4M790 452h2.4M872 333h2.4M815 424h2.4M942 297h2.4M895 319h2.4M897 322h2.4M665 259h2.4M778 281h2.4M911 293h2.4M916 271h2.4M805 416h2.4M783 242h2.4M772 263h2.4M879 330h2.4M872 390h2.4M698 318h2.4M889 352h2.4M779 268h2.4M855 358h2.4M771 261h2.4M813 410h2.4M900 312h2.4M799 404h2.4M773 231h2.4M830 552h2.4M791 285h2.4M824 178h2.4M887 338h2.4M834 397h2.4M890 323h2.4M878 343h2.4M780 234h2.4M802 248h2.4M696 337h2.4M794 287h2.4M937 281h2.4M906 318h2.4M811 439h2.4M806 415h2.4M794 243h2.4M924 327h2.4M780 268h2.4M723 342h2.4M897 387h2.4M897 369h2.4M915 309h2.4M733 315h2.4M801 434h2.4M882 357h2.4M814 415h2.4M879 354h2.4M821 394h2.4M797 242h2.4M938 295h2.4M879 329h2.4M879 343h2.4M818 390h2.4M846 392h2.4M768 230h2.4M755 241h2.4M837 375h2.4M883 332h2.4M560 219h2.4M794 273h2.4M819 448h2.4M763 236h2.4M796 256h2.4M818 464h2.4M800 434h2.4M639 232h2.4M783 286h2.4M803 256h2.4M912 316h2.4M810 406h2.4M865 401h2.4M878 336h2.4M787 239h2.4M806 234h2.4M893 337h2.4M773 245h2.4M793 265h2.4M882 327h2.4M794 288h2.4M786 236h2.4M821 242h2.4M879 340h2.4M853 371h2.4M887 346h2.4M891 353h2.4M815 376h2.4M803 262h2.4M797 411h2.4M779 283h2.4M758 299h2.4M683 344h2.4M839 360h2.4M801 220h2.4M855 433h2.4M893 326h2.4M880 371h2.4M843 557h2.4M801 245h2.4M794 419h2.4M898 332h2.4M816 432h2.4M779 272h2.4M770 240h2.4M801 428h2.4M744 239h2.4M907 318h2.4M811 250h2.4M880 356h2.4M793 419h2.4M857 357h2.4M923 327h2.4M870 351h2.4M555 195h2.4M797 267h2.4M786 239h2.4M806 435h2.4M941 294h2.4M908 327h2.4M788 259h2.4M761 276h2.4M874 370h2.4M850 382h2.4M884 330h2.4M790 258h2.4M797 230h2.4M789 258h2.4M782 256h2.4M807 231h2.4M779 263h2.4M894 316h2.4M851 422h2.4M814 422h2.4M892 297h2.4M879 349h2.4M807 408h2.4M822 363h2.4M769 247h2.4M849 352h2.4M866 307h2.4M724 230h2.4M820 396h2.4M771 250h2.4M880 349h2.4M817 545h2.4M787 248h2.4M916 285h2.4M810 393h2.4M896 310h2.4M883 373h2.4M908 352h2.4M786 240h2.4M633 218h2.4M783 266h2.4M683 335h2.4M861 396h2.4M797 502h2.4M799 261h2.4M917 335h2.4M814 401h2.4M765 256h2.4M896 317h2.4M903 353h2.4M890 283h2.4M805 423h2.4M802 463h2.4M793 254h2.4M823 453h2.4M819 264h2.4M856 387h2.4M884 326h2.4M911 319h2.4M790 237h2.4M901 310h2.4M876 339h2.4M829 425h2.4M804 447h2.4M808 222h2.4M788 273h2.4M786 255h2.4M919 308h2.4M969 280h2.4M866 341h2.4M903 343h2.4M791 264h2.4M795 436h2.4M915 352h2.4M818 246h2.4M886 341h2.4M849 177h2.4M708 221h2.4M768 279h2.4M897 309h2.4M817 396h2.4M820 417h2.4M926 293h2.4M818 410h2.4M787 204h2.4M817 362h2.4M818 416h2.4M832 213h2.4M792 438h2.4M871 366h2.4M796 268h2.4M919 352h2.4M815 535h2.4M921 300h2.4M879 345h2.4M782 285h2.4M832 406h2.4M794 263h2.4M777 270h2.4M883 341h2.4M797 249h2.4M773 251h2.4M913 320h2.4M905 320h2.4M903 356h2.4M809 246h2.4M794 427h2.4M770 257h2.4M910 356h2.4M774 244h2.4M909 339h2.4M883 333h2.4M667 220h2.4M779 246h2.4M799 250h2.4M775 196h2.4M892 298h2.4M884 323h2.4M800 277h2.4M797 233h2.4M823 440h2.4M779 265h2.4M802 264h2.4M796 273h2.4M878 346h2.4M886 327h2.4M819 450h2.4M793 404h2.4M873 326h2.4M775 254h2.4M861 376h2.4M934 305h2.4M788 248h2.4M871 383h2.4M737 329h2.4M791 262h2.4M873 350h2.4M899 348h2.4M754 244h2.4M863 170h2.4M866 349h2.4M950 292h2.4M787 276h2.4M843 386h2.4M775 231h2.4M815 558h2.4M800 354h2.4M875 344h2.4M739 228h2.4M865 331h2.4M674 357h2.4M807 464h2.4M835 307h2.4M855 413h2.4M888 314h2.4M904 374h2.4M849 385h2.4M869 351h2.4M861 434h2.4M901 325h2.4M941 304h2.4M926 315h2.4M778 268h2.4M893 343h2.4M774 261h2.4M800 351h2.4M799 253h2.4M909 320h2.4M794 445h2.4M781 256h2.4M822 399h2.4M891 365h2.4M891 341h2.4M701 283h2.4M769 231h2.4M872 368h2.4M901 324h2.4M762 242h2.4M695 357h2.4M782 263h2.4M878 332h2.4M894 336h2.4M811 455h2.4M878 362h2.4M778 261h2.4M790 288h2.4M801 234h2.4M884 323h2.4M726 254h2.4M641 197h2.4M896 325h2.4M881 346h2.4M571 204h2.4M806 469h2.4M789 244h2.4M772 263h2.4M814 459h2.4M808 240h2.4M937 307h2.4M797 383h2.4M873 345h2.4M887 331h2.4M856 382h2.4M894 345h2.4M887 317h2.4"/>
<path d="M794 254h2.4M889 345h2.4M885 317h2.4M968 311h2.4M887 347h2.4M793 249h2.4M866 355h2.4M794 285h2.4M829 403h2.4M788 265h2.4M812 389h2.4M875 340h2.4M813 423h2.4M789 229h2.4M917 296h2.4M884 339h2.4M799 252h2.4M781 240h2.4M776 246h2.4M869 354h2.4M769 275h2.4M843 385h2.4M894 312h2.4M601 199h2.4M854 227h2.4M904 314h2.4M762 262h2.4M753 257h2.4M904 305h2.4M809 387h2.4M789 335h2.4M857 365h2.4M856 372h2.4M826 439h2.4M908 286h2.4M909 271h2.4M796 466h2.4M879 346h2.4M811 415h2.4M806 347h2.4M869 367h2.4M873 338h2.4M840 394h2.4M819 391h2.4M867 334h2.4M919 313h2.4M828 413h2.4M881 340h2.4M923 302h2.4M859 408h2.4M952 320h2.4M909 324h2.4M773 268h2.4M906 338h2.4M798 276h2.4M880 357h2.4M797 283h2.4M868 349h2.4M810 418h2.4M503 421h2.4M866 366h2.4M868 399h2.4M872 357h2.4M925 321h2.4M894 306h2.4M875 348h2.4M774 255h2.4M817 461h2.4M905 335h2.4M864 422h2.4M810 397h2.4M810 428h2.4M914 300h2.4M793 401h2.4M826 351h2.4M929 297h2.4M810 394h2.4M795 440h2.4M882 332h2.4M809 243h2.4M828 238h2.4M909 330h2.4M664 251h2.4M792 259h2.4M883 320h2.4M597 208h2.4M939 276h2.4M914 320h2.4M856 354h2.4M782 256h2.4M914 309h2.4M877 365h2.4M816 193h2.4M855 365h2.4M793 247h2.4M906 300h2.4M775 243h2.4M906 288h2.4M799 400h2.4M954 266h2.4M906 340h2.4M792 440h2.4M839 372h2.4M743 248h2.4M897 340h2.4M861 343h2.4M801 253h2.4M814 392h2.4M854 387h2.4M939 272h2.4M781 255h2.4M906 303h2.4M809 246h2.4M810 470h2.4M883 362h2.4M828 413h2.4M797 403h2.4M793 255h2.4M886 292h2.4M875 311h2.4M769 251h2.4M795 258h2.4M730 301h2.4M783 442h2.4M773 262h2.4M871 360h2.4M702 232h2.4M966 278h2.4M774 262h2.4M801 286h2.4M931 292h2.4M824 432h2.4M904 336h2.4M920 304h2.4M928 316h2.4M856 351h2.4M792 263h2.4M878 333h2.4M912 325h2.4M787 298h2.4M813 247h2.4M811 189h2.4M923 300h2.4M671 358h2.4M806 235h2.4M860 379h2.4M884 344h2.4M866 336h2.4M794 259h2.4M862 377h2.4M780 248h2.4M862 354h2.4M869 346h2.4M794 254h2.4M899 294h2.4M937 277h2.4M718 309h2.4M870 356h2.4M894 369h2.4M790 294h2.4M911 300h2.4M815 390h2.4M806 374h2.4M666 205h2.4M905 312h2.4M911 352h2.4M790 242h2.4M915 293h2.4M818 431h2.4M885 347h2.4M781 260h2.4M883 362h2.4M898 330h2.4M778 238h2.4M686 348h2.4M800 245h2.4M938 386h2.4M818 553h2.4M869 333h2.4M782 252h2.4M786 255h2.4M844 390h2.4M874 340h2.4M815 427h2.4M787 271h2.4M820 391h2.4M816 477h2.4M810 435h2.4M953 283h2.4M794 210h2.4M889 333h2.4M925 306h2.4M865 321h2.4M916 327h2.4M920 319h2.4M861 327h2.4M807 423h2.4M887 340h2.4M902 319h2.4M918 297h2.4M881 380h2.4M793 239h2.4M922 337h2.4M851 167h2.4M937 305h2.4M792 263h2.4M890 356h2.4M760 298h2.4M800 416h2.4M873 329h2.4M935 285h2.4M790 227h2.4M869 379h2.4M910 281h2.4M795 258h2.4M791 267h2.4M898 344h2.4M869 363h2.4M850 335h2.4M899 328h2.4M916 314h2.4M902 287h2.4M887 348h2.4M898 336h2.4M767 256h2.4M691 265h2.4M868 368h2.4M770 237h2.4M782 263h2.4M742 302h2.4M774 243h2.4M812 249h2.4M813 239h2.4M777 271h2.4M826 413h2.4M693 244h2.4M863 364h2.4M803 236h2.4M803 429h2.4M785 263h2.4M797 525h2.4M820 444h2.4M898 337h2.4M866 374h2.4M874 341h2.4M771 263h2.4M906 331h2.4M937 320h2.4M895 292h2.4M814 512h2.4M833 438h2.4M750 236h2.4M884 370h2.4M913 316h2.4M819 206h2.4M898 334h2.4M701 207h2.4M881 313h2.4M799 523h2.4M784 272h2.4M804 388h2.4M799 241h2.4M734 205h2.4M804 401h2.4M861 381h2.4M816 257h2.4M797 255h2.4M793 253h2.4M897 321h2.4M837 426h2.4M802 439h2.4M907 343h2.4M822 218h2.4M841 384h2.4M551 241h2.4M799 458h2.4M743 244h2.4M880 355h2.4M691 222h2.4M817 367h2.4M825 459h2.4M861 390h2.4M882 353h2.4M885 346h2.4M853 383h2.4M871 336h2.4M813 388h2.4M779 251h2.4M723 309h2.4M918 318h2.4M796 400h2.4M894 337h2.4M933 298h2.4M778 227h2.4M933 315h2.4M795 185h2.4M784 245h2.4M809 420h2.4M711 226h2.4M871 348h2.4M896 339h2.4M826 386h2.4M854 409h2.4M849 351h2.4M873 361h2.4M817 191h2.4M814 388h2.4M783 258h2.4M784 280h2.4M638 169h2.4M736 261h2.4M791 281h2.4M526 243h2.4M939 308h2.4M869 337h2.4M778 278h2.4M873 367h2.4M513 251h2.4M780 259h2.4M785 252h2.4M894 340h2.4M752 252h2.4M890 316h2.4M720 279h2.4M879 362h2.4M892 351h2.4M883 357h2.4M733 304h2.4M881 305h2.4M871 353h2.4M878 354h2.4M817 417h2.4M759 258h2.4M792 219h2.4M894 302h2.4M808 395h2.4M812 426h2.4M762 244h2.4M937 267h2.4M892 354h2.4M787 235h2.4M774 223h2.4M892 333h2.4M802 469h2.4M814 424h2.4M846 368h2.4M787 271h2.4M897 315h2.4M836 168h2.4M812 252h2.4M888 374h2.4M785 250h2.4M841 382h2.4M712 312h2.4M763 239h2.4M787 252h2.4M832 377h2.4M780 244h2.4M810 235h2.4M727 291h2.4M790 190h2.4M784 256h2.4M837 501h2.4M788 235h2.4M840 423h2.4M753 260h2.4M904 333h2.4M798 448h2.4M818 452h2.4M889 352h2.4M805 233h2.4M777 254h2.4M823 456h2.4M762 242h2.4M920 309h2.4M794 268h2.4M791 278h2.4M795 217h2.4M916 325h2.4M757 269h2.4M918 295h2.4M780 255h2.4M855 417h2.4M814 399h2.4M913 332h2.4M894 315h2.4M719 209h2.4M896 344h2.4M921 289h2.4M871 360h2.4M905 316h2.4M858 335h2.4M783 247h2.4M905 326h2.4M817 272h2.4M657 243h2.4M942 309h2.4M793 231h2.4M915 303h2.4M785 252h2.4M658 185h2.4M793 273h2.4M902 315h2.4M896 327h2.4M814 397h2.4M803 243h2.4M912 343h2.4M817 537h2.4M921 330h2.4M784 254h2.4M865 359h2.4M876 344h2.4M886 336h2.4M822 403h2.4M879 338h2.4M520 175h2.4M899 356h2.4M804 398h2.4M796 445h2.4M803 398h2.4M803 271h2.4M794 228h2.4M717 241h2.4M805 246h2.4M882 316h2.4M804 190h2.4M869 352h2.4M890 321h2.4M890 382h2.4M845 413h2.4M893 326h2.4M872 343h2.4M795 400h2.4M816 260h2.4M799 271h2.4M815 459h2.4M846 191h2.4M846 369h2.4M813 200h2.4M934 312h2.4M774 246h2.4M929 286h2.4M909 364h2.4M670 343h2.4M811 440h2.4M844 429h2.4M884 352h2.4M933 284h2.4M876 385h2.4M790 236h2.4M883 345h2.4M791 397h2.4M814 204h2.4M974 263h2.4M857 319h2.4M783 249h2.4M784 253h2.4M908 320h2.4M939 298h2.4M746 304h2.4M900 331h2.4M750 260h2.4M876 372h2.4M838 428h2.4M773 253h2.4M769 297h2.4M948 230h2.4M783 250h2.4M827 411h2.4M816 260h2.4M783 264h2.4M875 314h2.4M873 383h2.4M781 255h2.4M843 410h2.4M809 436h2.4M887 355h2.4M852 406h2.4M796 248h2.4M813 526h2.4M890 319h2.4M774 247h2.4M880 349h2.4M902 327h2.4M805 292h2.4M905 315h2.4M765 244h2.4M824 363h2.4M804 254h2.4M874 349h2.4M830 184h2.4M848 396h2.4M879 337h2.4M899 341h2.4M875 330h2.4M586 202h2.4M663 349h2.4M783 287h2.4M786 271h2.4M912 330h2.4M844 404h2.4M851 385h2.4M826 401h2.4M817 252h2.4M866 349h2.4M906 426h2.4M790 385h2.4M756 324h2.4M797 432h2.4M789 258h2.4M809 249h2.4M861 362h2.4M787 273h2.4M911 311h2.4M806 436h2.4M787 260h2.4M893 345h2.4M806 434h2.4M883 384h2.4M781 256h2.4M865 360h2.4M902 324h2.4M876 362h2.4M859 325h2.4M871 358h2.4M903 335h2.4M799 426h2.4M860 368h2.4M848 360h2.4M803 272h2.4M781 239h2.4M777 269h2.4M620 266h2.4M863 364h2.4M796 252h2.4M785 229h2.4M812 426h2.4M825 371h2.4M877 330h2.4M864 369h2.4M778 259h2.4M797 467h2.4M890 350h2.4M916 299h2.4M877 327h2.4M886 340h2.4M770 257h2.4M835 414h2.4M810 428h2.4M776 211h2.4M779 271h2.4M808 242h2.4M798 473h2.4M740 324h2.4M797 246h2.4M775 258h2.4M776 190h2.4M783 271h2.4M899 360h2.4M813 365h2.4M892 323h2.4M900 360h2.4M820 273h2.4M897 333h2.4M762 242h2.4M877 337h2.4M768 250h2.4M871 330h2.4M794 250h2.4M881 326h2.4M854 370h2.4M807 247h2.4M865 331h2.4M903 295h2.4M922 301h2.4M871 387h2.4M806 425h2.4M868 381h2.4M894 345h2.4M560 290h2.4M745 237h2.4M808 453h2.4M792 273h2.4M843 395h2.4M820 466h2.4M920 299h2.4M806 427h2.4M946 273h2.4M886 356h2.4M778 227h2.4M773 264h2.4M806 463h2.4M893 390h2.4M905 329h2.4M780 255h2.4M819 346h2.4M775 242h2.4M884 322h2.4M979 250h2.4M571 329h2.4M840 349h2.4M884 338h2.4M772 244h2.4M796 255h2.4M795 409h2.4M782 264h2.4M894 317h2.4M954 290h2.4M842 367h2.4M833 371h2.4M740 282h2.4M916 329h2.4M712 318h2.4M906 338h2.4M811 523h2.4M922 333h2.4M812 480h2.4M823 373h2.4M754 257h2.4M873 363h2.4M840 419h2.4M844 421h2.4M799 238h2.4M876 346h2.4M809 396h2.4M862 372h2.4M819 315h2.4M795 253h2.4M871 375h2.4M794 247h2.4M811 521h2.4M882 332h2.4M901 321h2.4M798 428h2.4M871 350h2.4M801 493h2.4M600 405h2.4M784 255h2.4M780 217h2.4M801 272h2.4M803 429h2.4M788 240h2.4M788 418h2.4M775 260h2.4M878 334h2.4M717 334h2.4M818 245h2.4M947 267h2.4M620 420h2.4M849 408h2.4M914 314h2.4M786 228h2.4M815 252h2.4M785 265h2.4M908 338h2.4M787 258h2.4M874 374h2.4M872 353h2.4M938 302h2.4M926 281h2.4M887 346h2.4M783 263h2.4M797 249h2.4M802 423h2.4M884 362h2.4M919 296h2.4M873 325h2.4M793 253h2.4M797 256h2.4M803 361h2.4M809 400h2.4M811 401h2.4M823 414h2.4M893 349h2.4M814 268h2.4M912 292h2.4M797 422h2.4M889 338h2.4M740 200h2.4M870 361h2.4M778 261h2.4M808 433h2.4M867 364h2.4M755 211h2.4M897 292h2.4M801 427h2.4M885 378h2.4M821 417h2.4M779 234h2.4M948 293h2.4M888 314h2.4M928 375h2.4M811 419h2.4M908 363h2.4M876 329h2.4M783 260h2.4M781 248h2.4M901 313h2.4M832 401h2.4M595 206h2.4M807 446h2.4M895 316h2.4M778 266h2.4M862 320h2.4M975 350h2.4M788 243h2.4M756 297h2.4M907 361h2.4M936 315h2.4M770 255h2.4M890 326h2.4M779 227h2.4M792 233h2.4M897 326h2.4M770 232h2.4M880 359h2.4M868 356h2.4M789 277h2.4M800 229h2.4M785 222h2.4M877 331h2.4M935 305h2.4M855 387h2.4M760 279h2.4M899 319h2.4M797 258h2.4M883 332h2.4M803 222h2.4M797 265h2.4M766 237h2.4M851 348h2.4M788 239h2.4M772 273h2.4M819 500h2.4M926 322h2.4M892 356h2.4M894 346h2.4M881 388h2.4M850 382h2.4M937 320h2.4M790 291h2.4M797 248h2.4M780 266h2.4M787 253h2.4M923 291h2.4M893 359h2.4M906 318h2.4M906 305h2.4M795 245h2.4M785 268h2.4M759 264h2.4M912 292h2.4M894 321h2.4M905 353h2.4M818 415h2.4M829 413h2.4M862 368h2.4M786 264h2.4M902 300h2.4M910 291h2.4M893 340h2.4M812 410h2.4M844 420h2.4M766 243h2.4M907 346h2.4M821 332h2.4M799 413h2.4M805 283h2.4M887 334h2.4M766 225h2.4M867 391h2.4M933 295h2.4M898 365h2.4M772 262h2.4M555 241h2.4M764 253h2.4M818 324h2.4M807 510h2.4M816 414h2.4M803 429h2.4M792 432h2.4M779 259h2.4M816 407h2.4M871 362h2.4M878 315h2.4M808 414h2.4M612 252h2.4M909 339h2.4M825 428h2.4M818 346h2.4M885 331h2.4M834 415h2.4M974 333h2.4M795 402h2.4M850 369h2.4M815 381h2.4M908 321h2.4M797 278h2.4M864 360h2.4M788 214h2.4M792 425h2.4M898 337h2.4M884 334h2.4M823 254h2.4M777 249h2.4M912 325h2.4M714 159h2.4M664 227h2.4M830 397h2.4M823 480h2.4M802 447h2.4M699 271h2.4M850 168h2.4M810 396h2.4M874 367h2.4M901 312h2.4M833 402h2.4M882 312h2.4M894 308h2.4M846 342h2.4M774 226h2.4M832 182h2.4M872 350h2.4M792 213h2.4M914 314h2.4M870 384h2.4M887 336h2.4M926 325h2.4M763 231h2.4M784 182h2.4M879 344h2.4M864 346h2.4M884 356h2.4M890 339h2.4M798 243h2.4M946 297h2.4M822 402h2.4M874 357h2.4M876 356h2.4M861 380h2.4M842 460h2.4M641 364h2.4M844 370h2.4M594 219h2.4M779 276h2.4M857 401h2.4M853 361h2.4M948 282h2.4M762 210h2.4M806 257h2.4M897 352h2.4M742 263h2.4M795 262h2.4M901 323h2.4M809 433h2.4M809 440h2.4M800 264h2.4M786 240h2.4M769 291h2.4M794 458h2.4M911 330h2.4M923 290h2.4M907 334h2.4M785 266h2.4M807 286h2.4M796 424h2.4M917 354h2.4M801 278h2.4M885 322h2.4M825 400h2.4M821 450h2.4M779 286h2.4M801 463h2.4M833 394h2.4M807 251h2.4M866 333h2.4M798 232h2.4M797 281h2.4M929 284h2.4M982 337h2.4M787 266h2.4M682 224h2.4M916 331h2.4M701 230h2.4M786 472h2.4M711 268h2.4M955 278h2.4M887 380h2.4M926 321h2.4M786 249h2.4M798 366h2.4M803 225h2.4M829 381h2.4M869 344h2.4M901 349h2.4M878 334h2.4M907 363h2.4M934 301h2.4M814 283h2.4M789 231h2.4M868 334h2.4M900 335h2.4M892 327h2.4M886 331h2.4M760 291h2.4M882 335h2.4M921 287h2.4M901 308h2.4M794 406h2.4M763 267h2.4M771 245h2.4M571 239h2.4M800 273h2.4M907 346h2.4M874 357h2.4M891 331h2.4M823 404h2.4M785 287h2.4M841 380h2.4M804 223h2.4M822 373h2.4M793 268h2.4M785 251h2.4M915 318h2.4M775 238h2.4M883 334h2.4M739 197h2.4M778 273h2.4M921 284h2.4M784 254h2.4M737 317h2.4M649 256h2.4M851 365h2.4M878 389h2.4M815 147h2.4M786 285h2.4M961 265h2.4M894 305h2.4M825 394h2.4M889 358h2.4M883 380h2.4M796 276h2.4M799 274h2.4M787 244h2.4M831 379h2.4M798 270h2.4M798 417h2.4M924 311h2.4M876 335h2.4M818 394h2.4M918 325h2.4M830 373h2.4M780 270h2.4M621 155h2.4M831 407h2.4M794 259h2.4M799 198h2.4M843 375h2.4M905 315h2.4M906 313h2.4M854 385h2.4M780 244h2.4M863 376h2.4M777 243h2.4M909 314h2.4M718 230h2.4M779 288h2.4M780 297h2.4M914 318h2.4M821 230h2.4M855 354h2.4M876 365h2.4M809 224h2.4M832 386h2.4M879 347h2.4M816 410h2.4M725 201h2.4M859 381h2.4M890 322h2.4M900 336h2.4M784 251h2.4M895 375h2.4M911 306h2.4M845 371h2.4M721 337h2.4M871 346h2.4M792 280h2.4M875 353h2.4M859 399h2.4M879 337h2.4M774 255h2.4M816 245h2.4M907 313h2.4M903 329h2.4M795 257h2.4M872 366h2.4M893 311h2.4M918 355h2.4M801 386h2.4M860 394h2.4M808 410h2.4M843 456h2.4M928 283h2.4M858 381h2.4M769 292h2.4M762 262h2.4M772 246h2.4M888 369h2.4M867 352h2.4M574 221h2.4M630 192h2.4M901 304h2.4M816 271h2.4M692 358h2.4M891 321h2.4M895 301h2.4M807 446h2.4M932 294h2.4M825 399h2.4M789 225h2.4M768 257h2.4M898 338h2.4M770 254h2.4M705 332h2.4M760 270h2.4M871 320h2.4M816 397h2.4M750 275h2.4M812 467h2.4M936 287h2.4M539 241h2.4M822 463h2.4M925 291h2.4M850 379h2.4M806 386h2.4M892 363h2.4M900 320h2.4M776 262h2.4M601 253h2.4M812 410h2.4M873 359h2.4M862 384h2.4M810 251h2.4M829 590h2.4M800 274h2.4M882 337h2.4M806 420h2.4M813 222h2.4M901 291h2.4M785 260h2.4M771 246h2.4M872 352h2.4M767 225h2.4M852 361h2.4M824 614h2.4M908 347h2.4M624 223h2.4M692 225h2.4M875 356h2.4M904 375h2.4M868 358h2.4M833 493h2.4M894 352h2.4M748 266h2.4M878 367h2.4M857 320h2.4M958 312h2.4M774 284h2.4M881 322h2.4M799 418h2.4M796 244h2.4M816 420h2.4M772 279h2.4M916 337h2.4M904 316h2.4M804 257h2.4M806 398h2.4M817 391h2.4M816 399h2.4M875 351h2.4M785 224h2.4M793 294h2.4M782 275h2.4M702 325h2.4M788 247h2.4M850 374h2.4M811 401h2.4M794 277h2.4M886 340h2.4M865 329h2.4M788 275h2.4M746 218h2.4M755 296h2.4M892 304h2.4M878 334h2.4M755 249h2.4M848 385h2.4M889 348h2.4M807 259h2.4M917 301h2.4M811 181h2.4M872 367h2.4M894 391h2.4M808 456h2.4M801 589h2.4M667 343h2.4M887 342h2.4M913 296h2.4M801 481h2.4M780 266h2.4M792 273h2.4M658 194h2.4M703 344h2.4M934 311h2.4M809 424h2.4M912 325h2.4M771 227h2.4M863 380h2.4M799 449h2.4M789 265h2.4M868 350h2.4M667 227h2.4M844 381h2.4M914 319h2.4M804 439h2.4M902 343h2.4M795 255h2.4M765 285h2.4M888 329h2.4M796 266h2.4M909 326h2.4M810 427h2.4M895 336h2.4M818 431h2.4M812 456h2.4M866 333h2.4M915 296h2.4M875 373h2.4M887 307h2.4M697 230h2.4M901 329h2.4M836 359h2.4M822 394h2.4M823 375h2.4M844 203h2.4M895 314h2.4M891 344h2.4M804 236h2.4M784 260h2.4M775 259h2.4M784 263h2.4M785 243h2.4M881 332h2.4M793 243h2.4M787 258h2.4M836 364h2.4M928 331h2.4M813 435h2.4M885 353h2.4M768 271h2.4M856 419h2.4M920 334h2.4M913 333h2.4M840 403h2.4M910 330h2.4M795 275h2.4M876 366h2.4M884 332h2.4M860 343h2.4M836 478h2.4M811 446h2.4M822 571h2.4M811 434h2.4M796 255h2.4M888 356h2.4M875 359h2.4M882 329h2.4M825 268h2.4M888 310h2.4M640 242h2.4M828 418h2.4M944 273h2.4M834 265h2.4M894 357h2.4M605 211h2.4M810 422h2.4M861 410h2.4M819 536h2.4M800 471h2.4M923 297h2.4M904 285h2.4M776 261h2.4M886 326h2.4M819 194h2.4M787 276h2.4M576 286h2.4M795 229h2.4M676 301h2.4M836 409h2.4M815 275h2.4M814 235h2.4M917 312h2.4M885 351h2.4M884 357h2.4M878 341h2.4M792 242h2.4M882 356h2.4M895 328h2.4M622 236h2.4M776 261h2.4M883 346h2.4M571 237h2.4M772 255h2.4M792 201h2.4M879 373h2.4M856 337h2.4M817 428h2.4M803 435h2.4M864 227h2.4M810 257h2.4M784 427h2.4M939 329h2.4M888 317h2.4M971 282h2.4M723 342h2.4M909 281h2.4M893 358h2.4M810 355h2.4M928 276h2.4M783 225h2.4M813 248h2.4M784 212h2.4M825 393h2.4M803 245h2.4M893 342h2.4M729 250h2.4M792 265h2.4M887 378h2.4M665 211h2.4M808 249h2.4M867 329h2.4M830 276h2.4M818 401h2.4M818 244h2.4M859 389h2.4M814 454h2.4M911 319h2.4M799 275h2.4M791 236h2.4M786 251h2.4M898 319h2.4M801 423h2.4M825 389h2.4M858 310h2.4M886 330h2.4M894 333h2.4M821 469h2.4M888 364h2.4M848 439h2.4M736 264h2.4M802 268h2.4M942 290h2.4M805 416h2.4M898 335h2.4M766 243h2.4M788 280h2.4M812 445h2.4M770 285h2.4M746 238h2.4M803 256h2.4M890 342h2.4M902 301h2.4M610 202h2.4M866 378h2.4M806 261h2.4M824 411h2.4M804 490h2.4M893 318h2.4M817 435h2.4M783 231h2.4M793 246h2.4M795 266h2.4M790 224h2.4M935 313h2.4M802 455h2.4M827 424h2.4M774 258h2.4M861 383h2.4M798 272h2.4M891 325h2.4M914 336h2.4M921 293h2.4M832 336h2.4M837 167h2.4M782 229h2.4M787 284h2.4M795 268h2.4M883 333h2.4M645 369h2.4M868 346h2.4M862 433h2.4M925 328h2.4M899 362h2.4M853 393h2.4M788 256h2.4M877 343h2.4M783 245h2.4M778 271h2.4M898 341h2.4M806 459h2.4M822 390h2.4M904 286h2.4M869 342h2.4M772 235h2.4M835 398h2.4M785 224h2.4M748 248h2.4M869 389h2.4M794 238h2.4M846 357h2.4M776 254h2.4M797 283h2.4M662 361h2.4M915 300h2.4M811 449h2.4M798 288h2.4M809 267h2.4M522 239h2.4M795 414h2.4M789 254h2.4M789 384h2.4M911 324h2.4M893 328h2.4M778 237h2.4M820 422h2.4M813 256h2.4M802 265h2.4M791 251h2.4M807 247h2.4M828 411h2.4M799 261h2.4M919 327h2.4M881 339h2.4M899 323h2.4M820 469h2.4M857 351h2.4M900 328h2.4M803 375h2.4M847 379h2.4M859 369h2.4M826 522h2.4M928 338h2.4M851 372h2.4M914 335h2.4M758 270h2.4M807 402h2.4M901 314h2.4M922 271h2.4M792 177h2.4M874 349h2.4M791 254h2.4M809 249h2.4M828 350h2.4M899 342h2.4M859 195h2.4M885 381h2.4M912 320h2.4M872 357h2.4M764 253h2.4M786 277h2.4M909 277h2.4M855 358h2.4M910 340h2.4M801 246h2.4M795 300h2.4M778 256h2.4M934 315h2.4M908 355h2.4M900 301h2.4M908 330h2.4M888 335h2.4M825 386h2.4M814 283h2.4M733 205h2.4M830 399h2.4M891 359h2.4M874 335h2.4M796 308h2.4M847 453h2.4M906 340h2.4M866 350h2.4M835 394h2.4M786 244h2.4M903 343h2.4M800 276h2.4M912 336h2.4M717 292h2.4M832 379h2.4M799 389h2.4M850 376h2.4M876 352h2.4M801 406h2.4M801 469h2.4M790 291h2.4M693 325h2.4M800 483h2.4M858 383h2.4M959 231h2.4M924 265h2.4M792 449h2.4M882 315h2.4M905 331h2.4M795 446h2.4M782 242h2.4M786 250h2.4M784 189h2.4M897 322h2.4M802 528h2.4M640 366h2.4M917 319h2.4M898 350h2.4M876 346h2.4M730 322h2.4M908 300h2.4M800 267h2.4M783 257h2.4M900 358h2.4M884 334h2.4M904 306h2.4M762 267h2.4M767 253h2.4M799 423h2.4M800 263h2.4M871 366h2.4M881 353h2.4M829 340h2.4M896 319h2.4M873 334h2.4M898 285h2.4M909 317h2.4M562 211h2.4M670 336h2.4M890 344h2.4M817 435h2.4M905 293h2.4M789 247h2.4M797 475h2.4M799 253h2.4M780 265h2.4M890 341h2.4M792 272h2.4M858 366h2.4M821 196h2.4M941 306h2.4M814 280h2.4M760 279h2.4M821 409h2.4M749 248h2.4M823 421h2.4M904 306h2.4M787 263h2.4M897 340h2.4M818 378h2.4M787 254h2.4M938 291h2.4M810 414h2.4M804 426h2.4M775 256h2.4M839 392h2.4M790 428h2.4M809 431h2.4M661 210h2.4M862 338h2.4M799 268h2.4M782 225h2.4M790 236h2.4M906 324h2.4M811 229h2.4M896 338h2.4M873 360h2.4M882 362h2.4M904 327h2.4M816 378h2.4M878 354h2.4M777 249h2.4M874 351h2.4M796 258h2.4M810 399h2.4M892 362h2.4M910 326h2.4M802 416h2.4M823 386h2.4M882 353h2.4M782 250h2.4M837 375h2.4M862 336h2.4M791 503h2.4M787 217h2.4M662 201h2.4M797 540h2.4M779 273h2.4M983 273h2.4M818 422h2.4M919 291h2.4M901 311h2.4M813 399h2.4M791 251h2.4M765 369h2.4M868 363h2.4M673 227h2.4M904 303h2.4M872 454h2.4M782 265h2.4M795 263h2.4M826 341h2.4M871 369h2.4M890 350h2.4M952 302h2.4M816 403h2.4M722 205h2.4M801 277h2.4M891 329h2.4M830 410h2.4M790 245h2.4M813 364h2.4M902 353h2.4M785 268h2.4M877 333h2.4M765 390h2.4M816 433h2.4M907 324h2.4M786 265h2.4M720 194h2.4M883 343h2.4M815 434h2.4M889 327h2.4M781 292h2.4M780 242h2.4M831 461h2.4M818 257h2.4M907 331h2.4M903 309h2.4M800 274h2.4M879 331h2.4M914 325h2.4M865 344h2.4M764 251h2.4M790 235h2.4M789 263h2.4M883 341h2.4M780 253h2.4M848 377h2.4M815 296h2.4M877 355h2.4M810 271h2.4M893 343h2.4M873 355h2.4M935 338h2.4M915 334h2.4M891 326h2.4M893 349h2.4M907 327h2.4M796 565h2.4M890 307h2.4M908 325h2.4M903 323h2.4M876 361h2.4M909 340h2.4M775 260h2.4M910 335h2.4M804 390h2.4M795 256h2.4M880 340h2.4M854 399h2.4M896 333h2.4M780 241h2.4M810 411h2.4M787 257h2.4M862 340h2.4M797 390h2.4M781 268h2.4M787 261h2.4M903 333h2.4M821 390h2.4M822 445h2.4M914 325h2.4M811 407h2.4M788 237h2.4M707 246h2.4M831 179h2.4M889 327h2.4M794 258h2.4M801 239h2.4M822 393h2.4M777 223h2.4M848 258h2.4M934 290h2.4M890 370h2.4M793 264h2.4M917 316h2.4M806 262h2.4M877 347h2.4M887 335h2.4M923 314h2.4M817 392h2.4M880 346h2.4M870 367h2.4M906 306h2.4M774 245h2.4M902 304h2.4M911 304h2.4M626 262h2.4M777 209h2.4M804 402h2.4M846 333h2.4M824 419h2.4M808 457h2.4M810 401h2.4M789 388h2.4M877 368h2.4M854 381h2.4M797 288h2.4M764 515h2.4M861 325h2.4M745 303h2.4M806 399h2.4M820 405h2.4M826 386h2.4M829 371h2.4M797 391h2.4M802 439h2.4M904 333h2.4M895 354h2.4M779 242h2.4M909 284h2.4M788 273h2.4M853 187h2.4M724 342h2.4M828 392h2.4M817 257h2.4M802 247h2.4M824 395h2.4M872 367h2.4M798 437h2.4M851 394h2.4M762 317h2.4M800 271h2.4M864 348h2.4M788 261h2.4M793 261h2.4M907 317h2.4M876 342h2.4M721 232h2.4M804 394h2.4M817 236h2.4M896 350h2.4M792 418h2.4M898 325h2.4M869 372h2.4M881 319h2.4M888 341h2.4M909 354h2.4M826 429h2.4M804 240h2.4M869 355h2.4M936 314h2.4M878 325h2.4M696 198h2.4M864 338h2.4M791 227h2.4M873 338h2.4M724 319h2.4M881 348h2.4M826 431h2.4M795 575h2.4M908 343h2.4M644 208h2.4M899 323h2.4M791 274h2.4M912 319h2.4M779 265h2.4M850 396h2.4M843 374h2.4M776 264h2.4M927 301h2.4M810 457h2.4M843 410h2.4M799 415h2.4M811 422h2.4M790 247h2.4M784 249h2.4M633 257h2.4M725 323h2.4M844 196h2.4M835 438h2.4M792 262h2.4M843 355h2.4M794 242h2.4M807 446h2.4M830 383h2.4M844 353h2.4M906 340h2.4M896 326h2.4M795 256h2.4M937 302h2.4M904 282h2.4M918 324h2.4M815 438h2.4M783 258h2.4M792 260h2.4M793 276h2.4M923 290h2.4M920 322h2.4M906 312h2.4M823 393h2.4M856 338h2.4M850 362h2.4M801 278h2.4M812 227h2.4M784 246h2.4M646 366h2.4M785 414h2.4M708 268h2.4M891 370h2.4M793 254h2.4M816 265h2.4M782 242h2.4M811 260h2.4M790 256h2.4M865 361h2.4M905 304h2.4M853 196h2.4M861 397h2.4M596 203h2.4M836 401h2.4M817 214h2.4M853 388h2.4M770 282h2.4M843 401h2.4M781 258h2.4M906 340h2.4M736 222h2.4M915 311h2.4M919 273h2.4M819 573h2.4M818 185h2.4M597 203h2.4M795 294h2.4M916 323h2.4M891 345h2.4M903 340h2.4M826 406h2.4M887 343h2.4M806 456h2.4M896 311h2.4M875 380h2.4M908 338h2.4M897 326h2.4M905 307h2.4M928 301h2.4M608 252h2.4M879 335h2.4M536 234h2.4M896 312h2.4M785 275h2.4M660 365h2.4M813 547h2.4M888 356h2.4M899 301h2.4M807 239h2.4M802 252h2.4M893 305h2.4M769 277h2.4M880 326h2.4M890 335h2.4M814 379h2.4M799 400h2.4M802 259h2.4M783 249h2.4M905 323h2.4M810 467h2.4M768 256h2.4M760 230h2.4M787 428h2.4M837 452h2.4M885 345h2.4M807 398h2.4M824 430h2.4M768 270h2.4M772 255h2.4M887 365h2.4M832 493h2.4M830 360h2.4M869 389h2.4M789 243h2.4M802 381h2.4M819 173h2.4M807 430h2.4M769 246h2.4M804 242h2.4M824 395h2.4M821 436h2.4M706 200h2.4M795 264h2.4M950 295h2.4M791 281h2.4M747 251h2.4M797 414h2.4M906 302h2.4M778 250h2.4M786 257h2.4M881 352h2.4M869 370h2.4M813 435h2.4M873 349h2.4M828 374h2.4M590 254h2.4M952 309h2.4M797 272h2.4M834 391h2.4M770 225h2.4M877 347h2.4M864 339h2.4M782 253h2.4M848 343h2.4M869 395h2.4M858 347h2.4M914 326h2.4M779 267h2.4M913 305h2.4M862 391h2.4M717 237h2.4M807 424h2.4M914 310h2.4M929 311h2.4M804 262h2.4M772 282h2.4M880 367h2.4M746 287h2.4M781 227h2.4M886 351h2.4M789 280h2.4M824 399h2.4M862 391h2.4M909 326h2.4M836 376h2.4M891 323h2.4M870 383h2.4M873 348h2.4M795 263h2.4M784 258h2.4M810 396h2.4M808 455h2.4M795 241h2.4M799 240h2.4M894 344h2.4M909 307h2.4M907 317h2.4M878 349h2.4M788 260h2.4M798 235h2.4M908 331h2.4M891 346h2.4M844 362h2.4M886 334h2.4M782 275h2.4M876 351h2.4M905 266h2.4M765 244h2.4M803 254h2.4M879 357h2.4M881 355h2.4M798 391h2.4M858 222h2.4M880 360h2.4M871 279h2.4M876 349h2.4M949 372h2.4M863 337h2.4M773 250h2.4M870 432h2.4M872 354h2.4M835 431h2.4M881 337h2.4M906 318h2.4M784 261h2.4M819 411h2.4M888 311h2.4M820 537h2.4M922 334h2.4M918 304h2.4M637 213h2.4M801 398h2.4M810 388h2.4M829 202h2.4M838 175h2.4M867 344h2.4M714 317h2.4M918 312h2.4M780 264h2.4M872 357h2.4M857 370h2.4M796 162h2.4M928 355h2.4M782 258h2.4M792 253h2.4M823 424h2.4M787 259h2.4M871 349h2.4M650 358h2.4M808 415h2.4M823 374h2.4M871 334h2.4M830 244h2.4M816 509h2.4M785 283h2.4M821 449h2.4M883 327h2.4M807 460h2.4M899 337h2.4M812 448h2.4M916 294h2.4M822 426h2.4M838 392h2.4M868 423h2.4M885 364h2.4M818 371h2.4M908 330h2.4M819 402h2.4M821 387h2.4M759 270h2.4M911 309h2.4M956 282h2.4M924 312h2.4M855 359h2.4M791 245h2.4M822 274h2.4M722 310h2.4M920 300h2.4M840 210h2.4M780 245h2.4M828 192h2.4M764 296h2.4M780 264h2.4M772 239h2.4M791 240h2.4M827 266h2.4M806 269h2.4M905 317h2.4M859 357h2.4M781 224h2.4M862 355h2.4M776 281h2.4M918 310h2.4M824 428h2.4M803 275h2.4M817 399h2.4M797 433h2.4M923 305h2.4M885 357h2.4M800 410h2.4M891 327h2.4M794 366h2.4M824 427h2.4M901 333h2.4M773 255h2.4M923 327h2.4M795 230h2.4M809 388h2.4M886 359h2.4M892 331h2.4M796 243h2.4M791 242h2.4M914 350h2.4M854 382h2.4M790 250h2.4M870 344h2.4M888 289h2.4M904 303h2.4M762 254h2.4M809 397h2.4M925 313h2.4M807 251h2.4M843 412h2.4M921 317h2.4M798 420h2.4M795 262h2.4M745 238h2.4M805 447h2.4M818 425h2.4M861 381h2.4M761 221h2.4M874 377h2.4M777 272h2.4M807 277h2.4M879 345h2.4M868 374h2.4M886 309h2.4M840 321h2.4M725 262h2.4M784 244h2.4M903 328h2.4M873 367h2.4M783 243h2.4M829 529h2.4M886 317h2.4M788 261h2.4M794 234h2.4M857 345h2.4M811 445h2.4M665 369h2.4M939 299h2.4M904 323h2.4M879 304h2.4M863 362h2.4M723 218h2.4M814 423h2.4M866 357h2.4M882 323h2.4M756 268h2.4M910 316h2.4M733 267h2.4M890 305h2.4M773 277h2.4M616 273h2.4M807 436h2.4M916 323h2.4M965 283h2.4M936 331h2.4M867 360h2.4M827 447h2.4M826 253h2.4M809 447h2.4M790 259h2.4M716 316h2.4M733 333h2.4M764 255h2.4M827 437h2.4M778 253h2.4M821 438h2.4M952 296h2.4M831 366h2.4M876 363h2.4M894 302h2.4M890 337h2.4M905 343h2.4M893 182h2.4M791 231h2.4M796 275h2.4M883 338h2.4M875 350h2.4M810 250h2.4M795 424h2.4M686 205h2.4M790 436h2.4M794 266h2.4M772 252h2.4M799 247h2.4M672 356h2.4M797 260h2.4M822 389h2.4M799 381h2.4M844 374h2.4M759 252h2.4M878 360h2.4M896 348h2.4M686 195h2.4M900 302h2.4M792 260h2.4M728 327h2.4M779 208h2.4M828 413h2.4M789 267h2.4M872 355h2.4M912 336h2.4M856 374h2.4M883 357h2.4M788 244h2.4M812 442h2.4M832 417h2.4M900 305h2.4M789 248h2.4M820 421h2.4M810 251h2.4M806 368h2.4M849 418h2.4M888 359h2.4M914 317h2.4M803 267h2.4M882 314h2.4M599 238h2.4M813 384h2.4M878 314h2.4M864 352h2.4M895 354h2.4M770 271h2.4M761 242h2.4M851 342h2.4M891 330h2.4M816 421h2.4M934 301h2.4M906 343h2.4M893 329h2.4M925 302h2.4M806 472h2.4M866 402h2.4M743 307h2.4M877 374h2.4M770 257h2.4M871 347h2.4M888 329h2.4M753 252h2.4M885 356h2.4M826 231h2.4M857 328h2.4M796 265h2.4M865 351h2.4M791 257h2.4M801 380h2.4M803 327h2.4M832 469h2.4M904 353h2.4M800 382h2.4M795 253h2.4M841 188h2.4M836 392h2.4M893 322h2.4M780 258h2.4M823 452h2.4M730 188h2.4M800 264h2.4M814 466h2.4M899 309h2.4M788 242h2.4M819 420h2.4M894 343h2.4M799 256h2.4M877 326h2.4M791 236h2.4M860 342h2.4M763 255h2.4M916 317h2.4M810 390h2.4M812 413h2.4M867 370h2.4M611 244h2.4M833 357h2.4M913 329h2.4M845 417h2.4M910 304h2.4M900 364h2.4M794 296h2.4M791 435h2.4M911 307h2.4M803 274h2.4M886 338h2.4M892 342h2.4M828 394h2.4M848 405h2.4M681 256h2.4M867 457h2.4M795 284h2.4M900 294h2.4M890 329h2.4M821 432h2.4M925 310h2.4M895 342h2.4M787 266h2.4M788 270h2.4M907 332h2.4M851 378h2.4M954 299h2.4M846 415h2.4M883 352h2.4M826 376h2.4M829 400h2.4M797 283h2.4M808 293h2.4M888 342h2.4M866 370h2.4M899 318h2.4M820 220h2.4M809 429h2.4M901 332h2.4M802 265h2.4M911 355h2.4M807 281h2.4M823 392h2.4M933 304h2.4M817 417h2.4M847 379h2.4M934 301h2.4M810 428h2.4M841 384h2.4M864 380h2.4M790 320h2.4M868 382h2.4M796 374h2.4M869 392h2.4M888 330h2.4M793 263h2.4M790 479h2.4M837 429h2.4M894 339h2.4M826 247h2.4M740 267h2.4M814 249h2.4M782 273h2.4M793 244h2.4M816 457h2.4M829 205h2.4M872 312h2.4M777 269h2.4M837 436h2.4M787 268h2.4M869 380h2.4M660 179h2.4M884 335h2.4M699 315h2.4M934 262h2.4M827 398h2.4M785 247h2.4M771 301h2.4M865 377h2.4M842 359h2.4M851 410h2.4M772 273h2.4M876 358h2.4M794 505h2.4M813 437h2.4M847 447h2.4M879 359h2.4"/>
<path d="M904 324h2.4M810 252h2.4M794 406h2.4M880 370h2.4M782 290h2.4M878 355h2.4M826 432h2.4M814 275h2.4M770 253h2.4M845 241h2.4M835 406h2.4M914 313h2.4M729 280h2.4M786 256h2.4M806 253h2.4M894 347h2.4M827 436h2.4M761 455h2.4M799 400h2.4M680 197h2.4M803 236h2.4M924 352h2.4M815 453h2.4M806 475h2.4M907 339h2.4M784 235h2.4M738 262h2.4M867 326h2.4M877 352h2.4M822 426h2.4M842 272h2.4M670 383h2.4M789 245h2.4M782 268h2.4M922 311h2.4M805 376h2.4M802 530h2.4M792 251h2.4M887 339h2.4M810 430h2.4M893 339h2.4M817 549h2.4M895 322h2.4M858 331h2.4M907 343h2.4M785 280h2.4M835 402h2.4M814 151h2.4M798 228h2.4M769 258h2.4M918 279h2.4M867 352h2.4M910 388h2.4M821 442h2.4M822 189h2.4M900 305h2.4M955 290h2.4M870 357h2.4M880 351h2.4M873 351h2.4M624 241h2.4M906 338h2.4M847 388h2.4M866 358h2.4M805 391h2.4M812 418h2.4M813 252h2.4M847 381h2.4M885 328h2.4M884 355h2.4M665 206h2.4M849 302h2.4M889 329h2.4M814 455h2.4M913 280h2.4M813 241h2.4M917 304h2.4M904 321h2.4M807 434h2.4M904 305h2.4M773 267h2.4M778 252h2.4M737 233h2.4M914 309h2.4M901 320h2.4M792 268h2.4M814 373h2.4M875 345h2.4M790 262h2.4M874 352h2.4M900 315h2.4M819 589h2.4M900 332h2.4M800 428h2.4M859 356h2.4M815 278h2.4M852 371h2.4M786 266h2.4M788 258h2.4M974 291h2.4M880 359h2.4M621 246h2.4M792 275h2.4M817 350h2.4M775 227h2.4M752 332h2.4M901 355h2.4M816 425h2.4M829 431h2.4M792 252h2.4M805 442h2.4M796 422h2.4M789 257h2.4M784 234h2.4M900 299h2.4M886 314h2.4M875 347h2.4M846 249h2.4M771 255h2.4M851 366h2.4M802 264h2.4M863 383h2.4M828 372h2.4M902 323h2.4M635 174h2.4M807 245h2.4M849 409h2.4M872 360h2.4M925 303h2.4M555 252h2.4M795 256h2.4M778 266h2.4M892 327h2.4M906 345h2.4M791 260h2.4M817 441h2.4M814 382h2.4M789 240h2.4M689 341h2.4M749 290h2.4M790 280h2.4M629 204h2.4M779 280h2.4M837 378h2.4M796 270h2.4M941 338h2.4M778 242h2.4M885 352h2.4M925 340h2.4M789 252h2.4M801 428h2.4M760 261h2.4M745 312h2.4M893 314h2.4M932 289h2.4M793 252h2.4M896 346h2.4M867 185h2.4M777 247h2.4M634 365h2.4M868 356h2.4M897 337h2.4M895 368h2.4M797 263h2.4M896 309h2.4M937 291h2.4M910 315h2.4M926 283h2.4M900 335h2.4M896 365h2.4M804 409h2.4M854 360h2.4M802 425h2.4M798 273h2.4M807 228h2.4M907 326h2.4M800 224h2.4M891 313h2.4M813 492h2.4M820 350h2.4M805 263h2.4M765 241h2.4M895 315h2.4M887 349h2.4M858 336h2.4M817 375h2.4M862 354h2.4M789 275h2.4M807 548h2.4M862 359h2.4M904 324h2.4M793 245h2.4M822 421h2.4M647 219h2.4M895 347h2.4M829 401h2.4M868 417h2.4M899 322h2.4M921 303h2.4M811 428h2.4M820 445h2.4M789 437h2.4M861 355h2.4M774 276h2.4M885 304h2.4M806 419h2.4M817 431h2.4M832 183h2.4M804 249h2.4M770 308h2.4M795 439h2.4M772 241h2.4M797 443h2.4M834 188h2.4M783 230h2.4M838 390h2.4M682 170h2.4M875 373h2.4M901 334h2.4M782 229h2.4M813 286h2.4M896 329h2.4M765 268h2.4M917 338h2.4M805 398h2.4M712 276h2.4M885 340h2.4M921 319h2.4M879 410h2.4M615 250h2.4M794 263h2.4M855 372h2.4M795 231h2.4M913 325h2.4M778 263h2.4M674 377h2.4M697 340h2.4M790 244h2.4M900 315h2.4M870 374h2.4M634 215h2.4M918 340h2.4M801 478h2.4M721 219h2.4M837 370h2.4M762 268h2.4M826 355h2.4M876 351h2.4M915 332h2.4M901 316h2.4M899 323h2.4M787 232h2.4M968 280h2.4M852 365h2.4M816 479h2.4M638 206h2.4M801 418h2.4M859 387h2.4M775 257h2.4M929 303h2.4M782 237h2.4M789 291h2.4M822 442h2.4M902 362h2.4M702 318h2.4M806 444h2.4M885 372h2.4M861 392h2.4M840 529h2.4M690 203h2.4M908 313h2.4M898 315h2.4M819 562h2.4M907 302h2.4M876 323h2.4M783 254h2.4M797 420h2.4M777 234h2.4M858 311h2.4M524 539h2.4M928 310h2.4M877 372h2.4M879 353h2.4M864 408h2.4M885 376h2.4M781 282h2.4M786 485h2.4M878 308h2.4M765 278h2.4M867 349h2.4M865 357h2.4M889 355h2.4M855 362h2.4M803 377h2.4M891 318h2.4M799 215h2.4M793 270h2.4M790 242h2.4M803 235h2.4M816 488h2.4M868 166h2.4M829 423h2.4M802 452h2.4M884 334h2.4M918 324h2.4M882 341h2.4M900 338h2.4M883 307h2.4M912 301h2.4M897 326h2.4M909 320h2.4M791 263h2.4M903 326h2.4M785 242h2.4M866 364h2.4M787 268h2.4M771 273h2.4M903 325h2.4M801 532h2.4M798 254h2.4M846 369h2.4M824 423h2.4M764 279h2.4M868 343h2.4M773 273h2.4M916 325h2.4M803 245h2.4M926 309h2.4M840 402h2.4M879 345h2.4M868 327h2.4M883 346h2.4M799 208h2.4M878 360h2.4M888 347h2.4M890 325h2.4M804 563h2.4M893 320h2.4M758 242h2.4M909 317h2.4M872 365h2.4M892 337h2.4M772 258h2.4M799 439h2.4M874 357h2.4M909 326h2.4M894 328h2.4M886 335h2.4M811 271h2.4M910 337h2.4M829 192h2.4M784 236h2.4M789 271h2.4M804 236h2.4M778 229h2.4M910 302h2.4M903 299h2.4M795 242h2.4M803 285h2.4M794 200h2.4M904 306h2.4M893 355h2.4M642 208h2.4M805 250h2.4M930 306h2.4M904 342h2.4M884 340h2.4M774 247h2.4M912 325h2.4M800 413h2.4M816 514h2.4M923 299h2.4M775 251h2.4M682 369h2.4M715 322h2.4M890 313h2.4M923 317h2.4M834 351h2.4M808 252h2.4M954 305h2.4M788 257h2.4M932 291h2.4M763 265h2.4M803 442h2.4M871 423h2.4M819 412h2.4M885 311h2.4M771 208h2.4M794 231h2.4M880 344h2.4M844 453h2.4M819 240h2.4M765 242h2.4M879 370h2.4M897 311h2.4M888 322h2.4M869 362h2.4M870 361h2.4M905 319h2.4M898 336h2.4M775 279h2.4M794 238h2.4M888 352h2.4M803 283h2.4M813 450h2.4M885 315h2.4M896 328h2.4M773 263h2.4M828 393h2.4M915 295h2.4M872 349h2.4M924 315h2.4M838 431h2.4M927 319h2.4M817 402h2.4M905 307h2.4M786 257h2.4M863 375h2.4M857 407h2.4M891 322h2.4M903 325h2.4M794 253h2.4M766 244h2.4M789 202h2.4M917 325h2.4M776 285h2.4M782 291h2.4M796 245h2.4M823 214h2.4M923 325h2.4M890 347h2.4M815 391h2.4M890 338h2.4M800 265h2.4M822 383h2.4M811 267h2.4M830 428h2.4M822 488h2.4M818 417h2.4M887 380h2.4M817 431h2.4M805 274h2.4M803 258h2.4M773 272h2.4M921 322h2.4M795 248h2.4M825 529h2.4M894 348h2.4M755 296h2.4M943 317h2.4M859 375h2.4M793 265h2.4M904 348h2.4M866 318h2.4M855 349h2.4M886 331h2.4M721 334h2.4M796 246h2.4M778 239h2.4M781 239h2.4M816 371h2.4M896 350h2.4M761 254h2.4M828 231h2.4M801 274h2.4M789 243h2.4M768 319h2.4M776 279h2.4M824 376h2.4M803 419h2.4M800 266h2.4M801 380h2.4M736 324h2.4M887 321h2.4M812 437h2.4M977 251h2.4M822 281h2.4M816 369h2.4M895 303h2.4M864 347h2.4M902 320h2.4M779 255h2.4M811 364h2.4M731 318h2.4M813 403h2.4M905 322h2.4M829 402h2.4M927 333h2.4M870 363h2.4M779 236h2.4M812 435h2.4M800 269h2.4M882 338h2.4M848 372h2.4M819 541h2.4M801 257h2.4M834 361h2.4M787 270h2.4M802 261h2.4M910 328h2.4M889 345h2.4M804 194h2.4M866 346h2.4M792 273h2.4M804 422h2.4M820 422h2.4M788 260h2.4M869 405h2.4M889 342h2.4M898 304h2.4M825 372h2.4M889 321h2.4M825 428h2.4M913 309h2.4M888 376h2.4M908 351h2.4M776 264h2.4M602 172h2.4M814 479h2.4M883 316h2.4M796 425h2.4M791 281h2.4M797 255h2.4M975 299h2.4M791 255h2.4M789 242h2.4M780 254h2.4M946 296h2.4M904 321h2.4M900 344h2.4M848 398h2.4M844 268h2.4M889 341h2.4M793 282h2.4M795 400h2.4M793 275h2.4M900 307h2.4M646 175h2.4M784 219h2.4M877 363h2.4M899 336h2.4M887 320h2.4M811 264h2.4M819 186h2.4M767 246h2.4M919 297h2.4M912 301h2.4M789 525h2.4M785 214h2.4M844 400h2.4M913 329h2.4M813 447h2.4M778 459h2.4M770 270h2.4M822 407h2.4M766 226h2.4M836 510h2.4M791 246h2.4M806 413h2.4M906 310h2.4M780 246h2.4M797 259h2.4M820 395h2.4M918 325h2.4M826 401h2.4M804 154h2.4M907 320h2.4M652 205h2.4M892 362h2.4M889 332h2.4M792 255h2.4M765 245h2.4M793 467h2.4M840 426h2.4M839 375h2.4M778 260h2.4M881 341h2.4M898 356h2.4M643 236h2.4M927 331h2.4M699 262h2.4M827 426h2.4M777 265h2.4M813 271h2.4M891 363h2.4M864 373h2.4M814 461h2.4M799 245h2.4M761 252h2.4M884 317h2.4M841 395h2.4M875 339h2.4M867 359h2.4M944 306h2.4M854 373h2.4M799 244h2.4M806 262h2.4M805 242h2.4M810 283h2.4M827 451h2.4M827 432h2.4M761 229h2.4M843 421h2.4M764 272h2.4M910 303h2.4M859 345h2.4M860 342h2.4M905 318h2.4M769 263h2.4M924 310h2.4M770 242h2.4M784 249h2.4M895 344h2.4M784 236h2.4M771 240h2.4M649 220h2.4M888 375h2.4M871 357h2.4M895 309h2.4M783 257h2.4M641 202h2.4M820 366h2.4M794 267h2.4M923 338h2.4M801 262h2.4M800 413h2.4M791 435h2.4M885 334h2.4M886 286h2.4M919 346h2.4M797 191h2.4M805 249h2.4M797 257h2.4M902 303h2.4M908 336h2.4M889 361h2.4M839 419h2.4M756 189h2.4M904 309h2.4M814 382h2.4M805 254h2.4M913 319h2.4M783 274h2.4M799 448h2.4M906 342h2.4M898 326h2.4M848 345h2.4M766 252h2.4M814 577h2.4M770 245h2.4M846 263h2.4M832 394h2.4M906 336h2.4M889 351h2.4M870 353h2.4M789 266h2.4M797 435h2.4M497 271h2.4M894 338h2.4M765 268h2.4M759 265h2.4M866 407h2.4M897 371h2.4M781 263h2.4M799 253h2.4M932 308h2.4M814 271h2.4M882 333h2.4M855 370h2.4M787 249h2.4M906 337h2.4M778 260h2.4M625 409h2.4M786 263h2.4M870 377h2.4M808 409h2.4M799 419h2.4M828 471h2.4M890 335h2.4M806 385h2.4M643 212h2.4M913 319h2.4M795 253h2.4M882 389h2.4M818 598h2.4M814 458h2.4M825 240h2.4M883 360h2.4M931 291h2.4M792 275h2.4M798 427h2.4M812 262h2.4M910 305h2.4M763 267h2.4M891 338h2.4M771 245h2.4M784 236h2.4M832 397h2.4M885 341h2.4M904 339h2.4M907 332h2.4M907 316h2.4M790 269h2.4M795 252h2.4M789 251h2.4M907 297h2.4M890 296h2.4M867 338h2.4M909 345h2.4M909 294h2.4M914 329h2.4M650 470h2.4M780 257h2.4M758 220h2.4M894 326h2.4M915 351h2.4M814 401h2.4M817 401h2.4M898 328h2.4M825 534h2.4M897 329h2.4M875 330h2.4M908 348h2.4M803 571h2.4M895 343h2.4M878 324h2.4M810 270h2.4M794 310h2.4M854 357h2.4M791 461h2.4M660 199h2.4M786 380h2.4M786 247h2.4M775 264h2.4M907 331h2.4M793 266h2.4M704 204h2.4M888 356h2.4M824 416h2.4M899 345h2.4M812 420h2.4M797 255h2.4M891 329h2.4M898 336h2.4M799 264h2.4M815 563h2.4M875 343h2.4M778 251h2.4M817 383h2.4M822 403h2.4M898 343h2.4M845 363h2.4M799 425h2.4M805 403h2.4M794 244h2.4M774 426h2.4M849 406h2.4M816 615h2.4M838 347h2.4M798 239h2.4M665 331h2.4M656 329h2.4M870 351h2.4M785 268h2.4M925 317h2.4M827 396h2.4M896 327h2.4M802 234h2.4M890 322h2.4M804 395h2.4M829 408h2.4M851 372h2.4M930 297h2.4M782 248h2.4M864 344h2.4M830 360h2.4M898 302h2.4M814 241h2.4M810 434h2.4M769 245h2.4M825 504h2.4M800 241h2.4M765 250h2.4M820 215h2.4M882 325h2.4M787 265h2.4M875 348h2.4M766 226h2.4M886 343h2.4M821 431h2.4M870 357h2.4M791 443h2.4M924 327h2.4M885 339h2.4M790 254h2.4M798 429h2.4M826 473h2.4M794 265h2.4M796 258h2.4M819 433h2.4M806 267h2.4M807 262h2.4M797 418h2.4M885 334h2.4M829 194h2.4M874 347h2.4M876 350h2.4M760 272h2.4M677 189h2.4M787 246h2.4M888 359h2.4M824 398h2.4M646 203h2.4M778 259h2.4M890 358h2.4M806 423h2.4M887 367h2.4M899 357h2.4M796 252h2.4M837 405h2.4M915 327h2.4M779 249h2.4M738 229h2.4M716 225h2.4M660 367h2.4M913 337h2.4M891 328h2.4M791 443h2.4M875 361h2.4M781 305h2.4M883 356h2.4M816 462h2.4M780 242h2.4M778 238h2.4M906 342h2.4M909 329h2.4M793 253h2.4M791 235h2.4M798 263h2.4M656 380h2.4M806 412h2.4M862 351h2.4M767 266h2.4M483 266h2.4M922 304h2.4M846 396h2.4M878 326h2.4M879 322h2.4M805 448h2.4M790 275h2.4M690 271h2.4M795 281h2.4M884 330h2.4M915 343h2.4M803 264h2.4M853 365h2.4M728 318h2.4M804 423h2.4M789 227h2.4M830 272h2.4M813 199h2.4M903 328h2.4M795 388h2.4M894 305h2.4M813 467h2.4M634 199h2.4M866 338h2.4M885 358h2.4M791 278h2.4M889 331h2.4M947 275h2.4M806 454h2.4M546 237h2.4M888 324h2.4M804 245h2.4M936 270h2.4M905 345h2.4M848 468h2.4M770 246h2.4M803 431h2.4M764 258h2.4M782 282h2.4M827 449h2.4M889 355h2.4M775 271h2.4M803 449h2.4M819 467h2.4M688 217h2.4M880 324h2.4M886 320h2.4M786 257h2.4M895 322h2.4M902 341h2.4M738 233h2.4M841 191h2.4M787 190h2.4M800 247h2.4M924 318h2.4M870 324h2.4M779 251h2.4M788 272h2.4M773 248h2.4M796 230h2.4M853 360h2.4M787 270h2.4M808 543h2.4M891 328h2.4M922 321h2.4M824 418h2.4M806 427h2.4M655 366h2.4M499 219h2.4M852 349h2.4M789 279h2.4M891 322h2.4M877 343h2.4M813 426h2.4M885 329h2.4M791 393h2.4M699 327h2.4M841 174h2.4M777 263h2.4M804 266h2.4M919 314h2.4M817 438h2.4M911 324h2.4M870 334h2.4M909 326h2.4M781 438h2.4M779 468h2.4M683 203h2.4M894 355h2.4M760 237h2.4M781 255h2.4M938 287h2.4M800 301h2.4M780 246h2.4M784 278h2.4M810 276h2.4M648 358h2.4M789 277h2.4M874 343h2.4M831 308h2.4M785 261h2.4M882 395h2.4M829 409h2.4M924 308h2.4M856 238h2.4M797 552h2.4M917 323h2.4M816 376h2.4M886 352h2.4M787 285h2.4M862 361h2.4M853 361h2.4M856 332h2.4M826 410h2.4M840 365h2.4M808 255h2.4M899 321h2.4M939 311h2.4M900 331h2.4M888 332h2.4M683 253h2.4M883 313h2.4M642 237h2.4M935 295h2.4M801 257h2.4M814 461h2.4M812 255h2.4M736 307h2.4M772 255h2.4M805 244h2.4M889 336h2.4M807 272h2.4M844 391h2.4M805 247h2.4M863 363h2.4M843 410h2.4M794 191h2.4M876 363h2.4M906 314h2.4M838 209h2.4M781 239h2.4M807 259h2.4M539 252h2.4M817 424h2.4M907 342h2.4M794 385h2.4M886 342h2.4M813 447h2.4M811 375h2.4M750 236h2.4M710 265h2.4M841 373h2.4M893 327h2.4M917 353h2.4M899 337h2.4M902 295h2.4M778 255h2.4M807 421h2.4M808 246h2.4M921 314h2.4M803 261h2.4M584 239h2.4M943 299h2.4M876 379h2.4M797 241h2.4M796 473h2.4M805 390h2.4M905 312h2.4M804 215h2.4M782 298h2.4M778 190h2.4M782 268h2.4M780 269h2.4M682 223h2.4M722 263h2.4M899 345h2.4M806 468h2.4M918 354h2.4M767 274h2.4M878 338h2.4M822 383h2.4M801 220h2.4M899 324h2.4M892 347h2.4M880 351h2.4M902 341h2.4M805 411h2.4M872 334h2.4M854 358h2.4M895 323h2.4M867 361h2.4M805 280h2.4M784 263h2.4M715 227h2.4M917 303h2.4M822 240h2.4M912 304h2.4M881 335h2.4M796 233h2.4M864 344h2.4M866 340h2.4M749 283h2.4M804 246h2.4M892 321h2.4M775 233h2.4M866 364h2.4M888 304h2.4M892 339h2.4M670 255h2.4M893 371h2.4M863 379h2.4M772 263h2.4M887 316h2.4M886 346h2.4M762 243h2.4M841 229h2.4M739 290h2.4M876 358h2.4M848 375h2.4M887 347h2.4M829 176h2.4M867 301h2.4M767 243h2.4M815 435h2.4M803 268h2.4M799 460h2.4M908 339h2.4M869 359h2.4M663 364h2.4M795 251h2.4M818 288h2.4M904 337h2.4M752 229h2.4M792 198h2.4M764 245h2.4M807 265h2.4M958 286h2.4M626 223h2.4M820 420h2.4M832 391h2.4M809 585h2.4M823 383h2.4M794 268h2.4M909 335h2.4M685 338h2.4M858 362h2.4M781 265h2.4M813 452h2.4M789 267h2.4M770 289h2.4M826 420h2.4M829 281h2.4M825 269h2.4M862 226h2.4M797 240h2.4M910 293h2.4M936 277h2.4M886 356h2.4M846 401h2.4M891 327h2.4M856 359h2.4M909 341h2.4M816 347h2.4M861 339h2.4M794 245h2.4M799 229h2.4M783 254h2.4M831 431h2.4M812 449h2.4M797 232h2.4M806 434h2.4M942 280h2.4M902 376h2.4M900 325h2.4M776 279h2.4M777 477h2.4M886 352h2.4M845 339h2.4M893 325h2.4M913 299h2.4M872 363h2.4M804 292h2.4M819 408h2.4M907 249h2.4M834 385h2.4M763 242h2.4M879 348h2.4M874 380h2.4M805 437h2.4M781 242h2.4M869 323h2.4M800 252h2.4M800 458h2.4M808 436h2.4M597 190h2.4M887 338h2.4M878 346h2.4M810 474h2.4M914 310h2.4M653 244h2.4M855 368h2.4M808 464h2.4M793 245h2.4M830 358h2.4M767 269h2.4M895 329h2.4M783 262h2.4M823 203h2.4M897 311h2.4M888 337h2.4M851 393h2.4M789 488h2.4M869 363h2.4M835 216h2.4M819 422h2.4M856 367h2.4M925 299h2.4M797 451h2.4M868 357h2.4M805 352h2.4M801 445h2.4M792 241h2.4M905 331h2.4M648 222h2.4M779 252h2.4M855 368h2.4M786 253h2.4M822 381h2.4M877 356h2.4M821 424h2.4M831 383h2.4M868 350h2.4M801 397h2.4M501 249h2.4M900 371h2.4M883 305h2.4M789 245h2.4M804 211h2.4M513 234h2.4M692 266h2.4M870 341h2.4M803 240h2.4M775 271h2.4M800 439h2.4M793 218h2.4M820 406h2.4M951 286h2.4M858 372h2.4M922 308h2.4M798 259h2.4M685 247h2.4M787 241h2.4M857 403h2.4M800 398h2.4M896 362h2.4M793 437h2.4M870 433h2.4M805 431h2.4M613 200h2.4M667 347h2.4M807 426h2.4M904 321h2.4M815 409h2.4M807 367h2.4M871 369h2.4M916 321h2.4M820 512h2.4M797 246h2.4M950 277h2.4M854 456h2.4M905 318h2.4M923 329h2.4M850 395h2.4M659 181h2.4M807 397h2.4M858 344h2.4M778 266h2.4M822 379h2.4M814 390h2.4M913 334h2.4M849 423h2.4M908 337h2.4M806 233h2.4M841 420h2.4M916 326h2.4M926 331h2.4M881 357h2.4M911 317h2.4M778 282h2.4M915 286h2.4M895 320h2.4M796 260h2.4M782 271h2.4M808 262h2.4M872 342h2.4M861 366h2.4M772 269h2.4M905 341h2.4M812 455h2.4M917 314h2.4M852 372h2.4M881 346h2.4M871 351h2.4M775 278h2.4M809 461h2.4M906 335h2.4M777 270h2.4M866 368h2.4M819 382h2.4M782 254h2.4M857 380h2.4M900 320h2.4M807 386h2.4M831 400h2.4M905 303h2.4M878 339h2.4M795 533h2.4M754 164h2.4M802 241h2.4M845 349h2.4M783 292h2.4M913 332h2.4M703 204h2.4M783 267h2.4M849 438h2.4M896 327h2.4M757 311h2.4M779 275h2.4M716 237h2.4M797 265h2.4M806 565h2.4M783 299h2.4M807 283h2.4M880 333h2.4M816 556h2.4M736 253h2.4M801 247h2.4M811 178h2.4M785 245h2.4M803 269h2.4M778 264h2.4M874 367h2.4M877 340h2.4M902 323h2.4M796 283h2.4M829 421h2.4M902 317h2.4M794 436h2.4M791 257h2.4M857 355h2.4M923 327h2.4M804 452h2.4M875 346h2.4M787 262h2.4M792 375h2.4M613 201h2.4M783 241h2.4M783 268h2.4M873 355h2.4M842 388h2.4M927 284h2.4M802 417h2.4M773 258h2.4M826 539h2.4M920 319h2.4M901 334h2.4M817 436h2.4M869 382h2.4M787 254h2.4M772 252h2.4M773 247h2.4M843 362h2.4M790 298h2.4M918 334h2.4M797 455h2.4M886 334h2.4M888 343h2.4M822 246h2.4M822 475h2.4M790 263h2.4M795 257h2.4M847 402h2.4M815 389h2.4M786 270h2.4M840 366h2.4M815 540h2.4M822 493h2.4M898 333h2.4M886 343h2.4M857 347h2.4M895 342h2.4M829 374h2.4M759 231h2.4M829 403h2.4M875 390h2.4M784 264h2.4M762 245h2.4M798 448h2.4M896 311h2.4M742 275h2.4M791 256h2.4M808 389h2.4M806 263h2.4M871 334h2.4M896 313h2.4M910 332h2.4M882 376h2.4M617 236h2.4M910 312h2.4M896 321h2.4M811 268h2.4M818 368h2.4M801 504h2.4M840 398h2.4M771 243h2.4M904 356h2.4M845 383h2.4M806 257h2.4M889 341h2.4M877 352h2.4M808 431h2.4M800 267h2.4M897 329h2.4M861 339h2.4M903 326h2.4M787 272h2.4M888 351h2.4M872 357h2.4M835 423h2.4M911 317h2.4M879 352h2.4M798 216h2.4M883 315h2.4M789 231h2.4M800 181h2.4M953 290h2.4M778 243h2.4M811 431h2.4M836 390h2.4M787 262h2.4M889 352h2.4M785 147h2.4M783 257h2.4M591 198h2.4M778 284h2.4M828 421h2.4M774 262h2.4M931 327h2.4M877 347h2.4M921 273h2.4M909 334h2.4M791 258h2.4M783 247h2.4M782 193h2.4M808 436h2.4M813 433h2.4M787 237h2.4M789 240h2.4M777 243h2.4M776 247h2.4M880 361h2.4M807 479h2.4M786 270h2.4M808 278h2.4M780 265h2.4M880 346h2.4M811 537h2.4M838 350h2.4M785 248h2.4M823 391h2.4M907 322h2.4M843 416h2.4M792 254h2.4M810 272h2.4M918 294h2.4M831 157h2.4M777 283h2.4M837 403h2.4M793 270h2.4M912 311h2.4M782 262h2.4M917 343h2.4M928 308h2.4M725 300h2.4M785 249h2.4M757 280h2.4M879 351h2.4M749 213h2.4M771 292h2.4M896 337h2.4M867 379h2.4M869 371h2.4M888 323h2.4M891 371h2.4M811 411h2.4M901 327h2.4M917 346h2.4M895 320h2.4M922 314h2.4M807 421h2.4M872 325h2.4M790 270h2.4M825 589h2.4M809 591h2.4M909 364h2.4M775 266h2.4M807 403h2.4M851 396h2.4M893 322h2.4M799 265h2.4M770 252h2.4M766 236h2.4M894 354h2.4M798 259h2.4M825 345h2.4M826 388h2.4M895 331h2.4M817 420h2.4M804 265h2.4M823 408h2.4M917 344h2.4M888 344h2.4M801 295h2.4M766 253h2.4M783 255h2.4M851 356h2.4M823 421h2.4M901 358h2.4M916 337h2.4M869 339h2.4M713 342h2.4M779 227h2.4M886 366h2.4M958 240h2.4M886 321h2.4M932 332h2.4M783 298h2.4M828 193h2.4M785 225h2.4M917 297h2.4M877 330h2.4M837 412h2.4M775 276h2.4M490 529h2.4M850 356h2.4M763 214h2.4M775 250h2.4M866 194h2.4M773 236h2.4M931 320h2.4M890 323h2.4M818 417h2.4M801 245h2.4M782 273h2.4M909 362h2.4M694 263h2.4M783 252h2.4M791 274h2.4M894 353h2.4M876 387h2.4M938 327h2.4M816 399h2.4M826 375h2.4M822 262h2.4M794 241h2.4M773 259h2.4M745 233h2.4M861 345h2.4M760 245h2.4M799 265h2.4M799 268h2.4M843 361h2.4M914 345h2.4M838 393h2.4M787 256h2.4M825 587h2.4M825 254h2.4M780 269h2.4M818 465h2.4M792 384h2.4M884 373h2.4M863 343h2.4M810 402h2.4M806 242h2.4M810 391h2.4M854 390h2.4M889 309h2.4M916 329h2.4M821 469h2.4M817 207h2.4M854 353h2.4M798 504h2.4M904 334h2.4M924 310h2.4M883 355h2.4M816 382h2.4M813 262h2.4M887 355h2.4M783 252h2.4M812 444h2.4M856 369h2.4M808 418h2.4M677 346h2.4M864 355h2.4M777 271h2.4M844 317h2.4M792 259h2.4M574 264h2.4M788 216h2.4M788 262h2.4M805 233h2.4M861 357h2.4M885 329h2.4M879 334h2.4M896 298h2.4M807 280h2.4M865 411h2.4M857 321h2.4M786 265h2.4M927 406h2.4M888 365h2.4M913 313h2.4M884 343h2.4M722 261h2.4M896 325h2.4M782 249h2.4M880 367h2.4M869 364h2.4M807 236h2.4M788 249h2.4M814 379h2.4M875 385h2.4M801 368h2.4M866 278h2.4M807 447h2.4M904 305h2.4M919 332h2.4M858 334h2.4M818 395h2.4M830 434h2.4M874 344h2.4M864 361h2.4M883 350h2.4M782 424h2.4M934 284h2.4M723 203h2.4M850 405h2.4M880 311h2.4M788 277h2.4M804 426h2.4M778 265h2.4M908 315h2.4M806 426h2.4M922 304h2.4M940 320h2.4M789 293h2.4M917 309h2.4M778 269h2.4M908 351h2.4M886 345h2.4M786 458h2.4M840 236h2.4M890 349h2.4M873 321h2.4M916 317h2.4M836 210h2.4M831 427h2.4M805 402h2.4M811 528h2.4M799 244h2.4M926 307h2.4M802 241h2.4M789 263h2.4M814 412h2.4M876 392h2.4M576 210h2.4M713 313h2.4M810 266h2.4M873 345h2.4M793 247h2.4M796 284h2.4M807 271h2.4M776 240h2.4M863 357h2.4M805 264h2.4M904 341h2.4M725 297h2.4M820 427h2.4M691 326h2.4M924 306h2.4M811 437h2.4M933 290h2.4M835 177h2.4M789 246h2.4M762 260h2.4M936 306h2.4M814 428h2.4M852 394h2.4M637 192h2.4M759 290h2.4M785 259h2.4M823 404h2.4M651 228h2.4M860 364h2.4M788 260h2.4M815 258h2.4M787 256h2.4M809 179h2.4M783 243h2.4M797 231h2.4M758 216h2.4M870 325h2.4M940 358h2.4M830 443h2.4M769 236h2.4M818 473h2.4M896 310h2.4M862 340h2.4M858 443h2.4M930 310h2.4M842 211h2.4M765 258h2.4M816 222h2.4M746 263h2.4M870 169h2.4M824 405h2.4M909 313h2.4M779 234h2.4M789 260h2.4M911 333h2.4M879 373h2.4M906 288h2.4M901 336h2.4M781 290h2.4M896 294h2.4M799 446h2.4M877 357h2.4M817 435h2.4M830 400h2.4M865 338h2.4M586 228h2.4M776 268h2.4M851 191h2.4M829 515h2.4M894 325h2.4M819 433h2.4M878 366h2.4M814 406h2.4M840 201h2.4M776 279h2.4M767 492h2.4M879 317h2.4M864 350h2.4M921 328h2.4M780 252h2.4M887 345h2.4M864 368h2.4M887 331h2.4M872 337h2.4M838 305h2.4M888 358h2.4M797 244h2.4M818 368h2.4M755 179h2.4M819 408h2.4M783 234h2.4M779 270h2.4M790 291h2.4M872 367h2.4M875 316h2.4M786 260h2.4M890 331h2.4M921 348h2.4M848 176h2.4M894 308h2.4M683 227h2.4M919 299h2.4M767 271h2.4M818 432h2.4M790 258h2.4M759 267h2.4M782 274h2.4M798 249h2.4M673 369h2.4M830 367h2.4M892 345h2.4M777 270h2.4M875 353h2.4M785 287h2.4M798 418h2.4M777 251h2.4M778 244h2.4M780 262h2.4M545 180h2.4M805 431h2.4M898 333h2.4M800 489h2.4M847 429h2.4M952 280h2.4M816 279h2.4M826 537h2.4M888 357h2.4M818 407h2.4M797 445h2.4M597 199h2.4M898 325h2.4M882 346h2.4M761 258h2.4M900 331h2.4M878 327h2.4M814 391h2.4M798 241h2.4M799 288h2.4M881 345h2.4M843 221h2.4M783 272h2.4M818 428h2.4M806 262h2.4M869 384h2.4M784 293h2.4M762 276h2.4M786 267h2.4M772 252h2.4M969 308h2.4M779 259h2.4M787 270h2.4M777 257h2.4M816 463h2.4M833 394h2.4M876 341h2.4M901 353h2.4M753 296h2.4M817 464h2.4M802 274h2.4M838 355h2.4M813 392h2.4M780 233h2.4M888 340h2.4M898 313h2.4M909 296h2.4M785 222h2.4M889 311h2.4M786 219h2.4M777 260h2.4M842 387h2.4M773 266h2.4M823 258h2.4M855 328h2.4M775 277h2.4M822 229h2.4M729 249h2.4M801 448h2.4M914 324h2.4M886 338h2.4M734 312h2.4M808 463h2.4M874 370h2.4M811 223h2.4M796 259h2.4M892 352h2.4M938 279h2.4M882 352h2.4M801 262h2.4M915 297h2.4M774 225h2.4M784 258h2.4M841 366h2.4M624 200h2.4M661 242h2.4M832 404h2.4M886 365h2.4M882 378h2.4M806 416h2.4M890 347h2.4M872 348h2.4M788 310h2.4M688 350h2.4M770 266h2.4M923 293h2.4M858 388h2.4M788 471h2.4M892 339h2.4M849 408h2.4M891 348h2.4M803 253h2.4M796 276h2.4M800 268h2.4M792 252h2.4M805 441h2.4M647 215h2.4M855 360h2.4M789 453h2.4M644 271h2.4M784 270h2.4M893 327h2.4M872 375h2.4M830 176h2.4M942 313h2.4M806 439h2.4M878 354h2.4M797 232h2.4M910 339h2.4M789 408h2.4M873 341h2.4M872 352h2.4M936 302h2.4M785 238h2.4M797 253h2.4M663 198h2.4M819 450h2.4M784 267h2.4M645 177h2.4M895 330h2.4M878 377h2.4M905 325h2.4M756 301h2.4M886 354h2.4M835 376h2.4M774 273h2.4M772 254h2.4M847 380h2.4M851 356h2.4M899 330h2.4M728 317h2.4M907 349h2.4M803 224h2.4M871 345h2.4M841 430h2.4M820 398h2.4M823 384h2.4M764 297h2.4M907 307h2.4M798 257h2.4M770 275h2.4M714 325h2.4M946 322h2.4M874 353h2.4M909 365h2.4M800 469h2.4M773 277h2.4M780 238h2.4M850 374h2.4M817 416h2.4M878 341h2.4M748 246h2.4M745 308h2.4M765 259h2.4M905 310h2.4M785 222h2.4M801 249h2.4M799 268h2.4M844 383h2.4M861 352h2.4M903 328h2.4M811 521h2.4M865 351h2.4M821 425h2.4M893 393h2.4M884 334h2.4M793 235h2.4M807 458h2.4M648 372h2.4M863 376h2.4M791 250h2.4M661 347h2.4M941 307h2.4M825 390h2.4M791 273h2.4M787 238h2.4M787 270h2.4M680 370h2.4M876 339h2.4M834 410h2.4M790 269h2.4M706 256h2.4M928 313h2.4M899 327h2.4M783 223h2.4M813 389h2.4M890 334h2.4M811 458h2.4M860 167h2.4M791 243h2.4M819 400h2.4M887 336h2.4M917 324h2.4M854 250h2.4M858 358h2.4M782 265h2.4M757 254h2.4M826 401h2.4M890 338h2.4M734 305h2.4M849 384h2.4M879 324h2.4M868 347h2.4M676 222h2.4M785 260h2.4M790 390h2.4M826 363h2.4M799 251h2.4M627 223h2.4M692 266h2.4M787 257h2.4M796 275h2.4M832 416h2.4M835 481h2.4M880 331h2.4M850 356h2.4M823 431h2.4M816 419h2.4M911 350h2.4M785 260h2.4M745 254h2.4M937 321h2.4M823 397h2.4M818 277h2.4M784 281h2.4M800 242h2.4M796 276h2.4M773 265h2.4M809 433h2.4M792 244h2.4M859 399h2.4M901 305h2.4M805 429h2.4M877 342h2.4M829 373h2.4M816 464h2.4M839 338h2.4M936 286h2.4M558 263h2.4M799 241h2.4M795 267h2.4M821 401h2.4M859 367h2.4M807 279h2.4M813 513h2.4M859 359h2.4M855 353h2.4M824 424h2.4M782 262h2.4M770 256h2.4M916 341h2.4M825 401h2.4M900 325h2.4M852 249h2.4M880 338h2.4M937 300h2.4M834 411h2.4M787 268h2.4M799 363h2.4M873 341h2.4M853 384h2.4M806 260h2.4M783 257h2.4M809 282h2.4M896 310h2.4M770 301h2.4M648 383h2.4M902 303h2.4M729 246h2.4M798 262h2.4M808 450h2.4M818 367h2.4M797 228h2.4M921 294h2.4M797 270h2.4M790 250h2.4M777 261h2.4M907 306h2.4M864 337h2.4M824 433h2.4M770 245h2.4M902 356h2.4M881 316h2.4M939 283h2.4M917 314h2.4M903 323h2.4M932 312h2.4M900 325h2.4M818 453h2.4M864 351h2.4M820 382h2.4M924 302h2.4M892 331h2.4M808 201h2.4M787 271h2.4M902 319h2.4M785 244h2.4M792 258h2.4M780 349h2.4M779 195h2.4M807 425h2.4M776 275h2.4M732 194h2.4M859 360h2.4M756 289h2.4M915 314h2.4M837 434h2.4M800 439h2.4M887 351h2.4M795 268h2.4M803 257h2.4M808 441h2.4M806 369h2.4M781 193h2.4M803 422h2.4M726 315h2.4M915 310h2.4M918 297h2.4M783 251h2.4M796 267h2.4M844 353h2.4M922 310h2.4M781 255h2.4M896 324h2.4M705 341h2.4M887 280h2.4M864 312h2.4M827 480h2.4M817 410h2.4M766 225h2.4M817 432h2.4M812 426h2.4M772 264h2.4M815 420h2.4M859 361h2.4M857 393h2.4M887 343h2.4M896 333h2.4M819 447h2.4M828 381h2.4M786 248h2.4M820 422h2.4M841 416h2.4M861 368h2.4M866 351h2.4M795 449h2.4M793 266h2.4M886 331h2.4M649 383h2.4M799 213h2.4M798 239h2.4M886 342h2.4M917 349h2.4M795 235h2.4M777 240h2.4M881 335h2.4M801 426h2.4M888 367h2.4M790 223h2.4M665 225h2.4M847 375h2.4M692 238h2.4M803 491h2.4M800 256h2.4M903 358h2.4M657 160h2.4M778 396h2.4M862 364h2.4M925 328h2.4M870 327h2.4M874 356h2.4M844 357h2.4M812 498h2.4M905 341h2.4M903 334h2.4M827 395h2.4M798 282h2.4M815 397h2.4M584 234h2.4M861 357h2.4M920 297h2.4M797 270h2.4M875 348h2.4M885 341h2.4M780 262h2.4M680 455h2.4M789 271h2.4M827 438h2.4M804 273h2.4M807 425h2.4M905 332h2.4M780 237h2.4M890 297h2.4M775 263h2.4M886 368h2.4M810 437h2.4M803 409h2.4M797 227h2.4M640 440h2.4M909 303h2.4M807 257h2.4M875 360h2.4M874 357h2.4M803 248h2.4M859 374h2.4M897 302h2.4M785 240h2.4M788 269h2.4M770 281h2.4M782 256h2.4M897 337h2.4M830 181h2.4M806 376h2.4M774 252h2.4M886 337h2.4M924 327h2.4M893 367h2.4M801 416h2.4M821 191h2.4M806 429h2.4M902 334h2.4M774 279h2.4M937 291h2.4M703 229h2.4M867 346h2.4M866 357h2.4M877 382h2.4M811 436h2.4M799 251h2.4M783 270h2.4M877 309h2.4M921 287h2.4M858 395h2.4M894 351h2.4M875 348h2.4M797 255h2.4M888 343h2.4M787 241h2.4M898 306h2.4M799 412h2.4M804 236h2.4M794 270h2.4M802 405h2.4M705 350h2.4M912 330h2.4M803 240h2.4M889 334h2.4M821 438h2.4M770 260h2.4M802 257h2.4M769 235h2.4M752 195h2.4M797 238h2.4M884 366h2.4M822 425h2.4M822 546h2.4M837 362h2.4M805 448h2.4M887 346h2.4M891 322h2.4M821 197h2.4M854 389h2.4M785 292h2.4M880 331h2.4M904 319h2.4M873 365h2.4M876 348h2.4M902 337h2.4M820 463h2.4M714 167h2.4M777 230h2.4M875 356h2.4M905 340h2.4M892 364h2.4M900 307h2.4M856 330h2.4M816 390h2.4M902 343h2.4M910 309h2.4M749 302h2.4M899 357h2.4M801 430h2.4M809 539h2.4M915 326h2.4M861 380h2.4M877 352h2.4M840 412h2.4M793 293h2.4M776 233h2.4M885 384h2.4M856 389h2.4M918 321h2.4M858 382h2.4M795 239h2.4M807 429h2.4M887 367h2.4"/>
<path d="M818 266h2.4M796 533h2.4M788 258h2.4M794 258h2.4M909 312h2.4M713 237h2.4M770 254h2.4M906 322h2.4M863 364h2.4M797 488h2.4M764 279h2.4M789 247h2.4M863 180h2.4M880 332h2.4M797 406h2.4M885 349h2.4M809 443h2.4M917 376h2.4M811 459h2.4M820 419h2.4M906 297h2.4M914 318h2.4M792 234h2.4M820 262h2.4M885 345h2.4M898 324h2.4M827 469h2.4M821 397h2.4M801 255h2.4M877 337h2.4M781 248h2.4M880 352h2.4M886 350h2.4M808 540h2.4M911 319h2.4M793 257h2.4M776 261h2.4M876 348h2.4M816 426h2.4M782 245h2.4M848 375h2.4M481 507h2.4M791 228h2.4M779 176h2.4M698 293h2.4M888 326h2.4M821 173h2.4M889 312h2.4M881 324h2.4M851 391h2.4M950 276h2.4M861 421h2.4M543 243h2.4M896 353h2.4M834 423h2.4M829 411h2.4M847 387h2.4M899 323h2.4M803 409h2.4M813 388h2.4M902 345h2.4M789 229h2.4M823 369h2.4M834 414h2.4M797 233h2.4M843 403h2.4M873 344h2.4M836 386h2.4M717 319h2.4M810 247h2.4M796 431h2.4M662 335h2.4M801 431h2.4M811 264h2.4M831 414h2.4M925 311h2.4M801 261h2.4M641 394h2.4M912 340h2.4M782 239h2.4M829 378h2.4M804 266h2.4M901 346h2.4M925 346h2.4M856 388h2.4M662 188h2.4M911 296h2.4M743 299h2.4M885 339h2.4M774 281h2.4M793 259h2.4M800 257h2.4M668 174h2.4M803 415h2.4M928 318h2.4M819 218h2.4M816 260h2.4M876 336h2.4M886 337h2.4M739 261h2.4M853 337h2.4M810 450h2.4M791 257h2.4M899 339h2.4M766 275h2.4M785 258h2.4M765 242h2.4M761 267h2.4M788 243h2.4M837 403h2.4M834 416h2.4M793 422h2.4M888 347h2.4M779 254h2.4M801 256h2.4M811 430h2.4M806 423h2.4M674 211h2.4M886 305h2.4M923 308h2.4M913 320h2.4M818 413h2.4M881 339h2.4M816 411h2.4M848 341h2.4M736 261h2.4M794 249h2.4M828 392h2.4M756 252h2.4M900 353h2.4M783 251h2.4M684 201h2.4M918 327h2.4M899 357h2.4M869 367h2.4M801 257h2.4M819 403h2.4M753 247h2.4M869 375h2.4M796 267h2.4M770 243h2.4M885 340h2.4M711 269h2.4M898 344h2.4M913 309h2.4M870 409h2.4M796 538h2.4M663 205h2.4M875 315h2.4M862 322h2.4M782 224h2.4M792 240h2.4M802 234h2.4M886 324h2.4M628 213h2.4M747 288h2.4M676 248h2.4M764 255h2.4M806 410h2.4M877 341h2.4M893 333h2.4M852 365h2.4M842 382h2.4M787 501h2.4M820 396h2.4M854 377h2.4M845 400h2.4M808 479h2.4M873 342h2.4M810 416h2.4M802 254h2.4M904 336h2.4M783 253h2.4M874 329h2.4M809 241h2.4M591 217h2.4M839 219h2.4M858 342h2.4M651 256h2.4M858 334h2.4M778 250h2.4M806 440h2.4M883 333h2.4M783 238h2.4M895 333h2.4M790 249h2.4M808 472h2.4M819 396h2.4M929 319h2.4M893 350h2.4M834 271h2.4M812 541h2.4M662 345h2.4M780 280h2.4M836 192h2.4M928 296h2.4M812 275h2.4M795 235h2.4M794 580h2.4M810 382h2.4M814 259h2.4M892 339h2.4M879 345h2.4M844 400h2.4M929 289h2.4M886 366h2.4M796 428h2.4M745 204h2.4M822 394h2.4M786 468h2.4M818 280h2.4M917 338h2.4M793 231h2.4M801 431h2.4M723 295h2.4M775 258h2.4M814 250h2.4M847 363h2.4M790 445h2.4M876 356h2.4M767 243h2.4M899 350h2.4M916 303h2.4M783 231h2.4M784 244h2.4M768 267h2.4M876 369h2.4M868 333h2.4M772 254h2.4M769 285h2.4M934 299h2.4M812 449h2.4M891 361h2.4M922 296h2.4M813 438h2.4M900 319h2.4M899 312h2.4M712 260h2.4M970 307h2.4M874 325h2.4M846 363h2.4M843 385h2.4M783 211h2.4M916 307h2.4M810 453h2.4M902 368h2.4M860 330h2.4M854 350h2.4M790 240h2.4M793 262h2.4M863 355h2.4M829 194h2.4M863 342h2.4M895 361h2.4M898 304h2.4M882 305h2.4M916 334h2.4M811 438h2.4M780 227h2.4M901 305h2.4M905 334h2.4M845 411h2.4M850 380h2.4M837 444h2.4M663 365h2.4M901 321h2.4M808 401h2.4M899 349h2.4M925 336h2.4M800 266h2.4M762 481h2.4M792 232h2.4M849 356h2.4M907 335h2.4M790 267h2.4M778 257h2.4M786 437h2.4M814 434h2.4M875 357h2.4M804 402h2.4M648 266h2.4M809 535h2.4M904 370h2.4M841 402h2.4M848 389h2.4M810 237h2.4M779 264h2.4M850 377h2.4M755 281h2.4M646 162h2.4M821 358h2.4M803 405h2.4M884 352h2.4M905 388h2.4M810 455h2.4M858 377h2.4M901 336h2.4M768 269h2.4M882 337h2.4M888 349h2.4M914 328h2.4M847 388h2.4M885 352h2.4M810 445h2.4M825 394h2.4M908 321h2.4M749 222h2.4M857 432h2.4M894 340h2.4M802 402h2.4M952 326h2.4M891 325h2.4M895 348h2.4M904 330h2.4M901 319h2.4M927 335h2.4M808 261h2.4M788 259h2.4M828 272h2.4M904 298h2.4M858 378h2.4M885 335h2.4M733 250h2.4M869 354h2.4M796 254h2.4M813 429h2.4M879 338h2.4M894 309h2.4M733 235h2.4M816 390h2.4M804 442h2.4M795 462h2.4M832 408h2.4M899 336h2.4M771 239h2.4M931 297h2.4M797 382h2.4M771 247h2.4M881 335h2.4M840 386h2.4M772 193h2.4M791 254h2.4M862 410h2.4M838 258h2.4M905 289h2.4M799 283h2.4M870 371h2.4M802 225h2.4M898 336h2.4M814 272h2.4M793 259h2.4M895 315h2.4M800 260h2.4M819 413h2.4M958 306h2.4M895 348h2.4M859 351h2.4M889 366h2.4M913 334h2.4M766 251h2.4M670 243h2.4M764 308h2.4M819 416h2.4M805 264h2.4M811 479h2.4M797 269h2.4M952 315h2.4M860 353h2.4M830 413h2.4M888 318h2.4M785 261h2.4M909 318h2.4M907 338h2.4M800 254h2.4M883 336h2.4M682 191h2.4M820 331h2.4M804 354h2.4M848 407h2.4M915 314h2.4M857 367h2.4M812 423h2.4M914 351h2.4M768 518h2.4M774 262h2.4M856 340h2.4M887 349h2.4M936 292h2.4M789 239h2.4M823 359h2.4M820 477h2.4M900 331h2.4M871 392h2.4M916 303h2.4M922 305h2.4M946 330h2.4M878 346h2.4M796 472h2.4M914 370h2.4M969 195h2.4M775 260h2.4M803 237h2.4M909 324h2.4M776 278h2.4M802 445h2.4M869 359h2.4M859 372h2.4M819 255h2.4M960 259h2.4M884 351h2.4M806 237h2.4M699 338h2.4M888 337h2.4M878 358h2.4M846 386h2.4M866 336h2.4M895 288h2.4M805 254h2.4M870 349h2.4M912 324h2.4M871 326h2.4M779 252h2.4M849 383h2.4M776 272h2.4M953 327h2.4M801 257h2.4M881 367h2.4M655 249h2.4M893 344h2.4M775 439h2.4M901 319h2.4M679 356h2.4M792 507h2.4M900 355h2.4M774 255h2.4M917 332h2.4M769 292h2.4M689 353h2.4M886 348h2.4M777 258h2.4M800 480h2.4M899 340h2.4M825 396h2.4M931 245h2.4M878 334h2.4M888 326h2.4M804 498h2.4M817 408h2.4M772 193h2.4M817 379h2.4M834 454h2.4M574 220h2.4M872 376h2.4M879 372h2.4M890 349h2.4M824 401h2.4M786 411h2.4M812 240h2.4M831 200h2.4M897 315h2.4M794 258h2.4M854 402h2.4M902 338h2.4M801 255h2.4M805 295h2.4M841 400h2.4M612 243h2.4M800 445h2.4M642 187h2.4M932 291h2.4M831 448h2.4M794 260h2.4M896 336h2.4M791 241h2.4M783 304h2.4M778 223h2.4M856 380h2.4M806 438h2.4M907 337h2.4M767 262h2.4M908 321h2.4M798 381h2.4M891 343h2.4M803 435h2.4M800 444h2.4M944 277h2.4M790 263h2.4M811 395h2.4M909 330h2.4M842 198h2.4M694 236h2.4M879 324h2.4M802 419h2.4M909 328h2.4M890 345h2.4M812 419h2.4M877 338h2.4M808 265h2.4M811 382h2.4M941 286h2.4M684 215h2.4M765 248h2.4M871 341h2.4M944 321h2.4M817 242h2.4M652 374h2.4M774 277h2.4M940 287h2.4M887 334h2.4M789 433h2.4M939 305h2.4M814 257h2.4M773 249h2.4M846 393h2.4M837 249h2.4M771 259h2.4M879 349h2.4M847 226h2.4M797 253h2.4M801 260h2.4M808 410h2.4M921 325h2.4M822 434h2.4M800 287h2.4M865 368h2.4M807 464h2.4M791 462h2.4M881 357h2.4M911 348h2.4M781 436h2.4M896 330h2.4M664 215h2.4M655 355h2.4M891 316h2.4M801 291h2.4M796 288h2.4M799 259h2.4M928 334h2.4M813 410h2.4M795 236h2.4M691 280h2.4M830 387h2.4M869 369h2.4M819 373h2.4M866 323h2.4M887 364h2.4M878 346h2.4M907 307h2.4M817 417h2.4M822 408h2.4M782 248h2.4M721 255h2.4M860 349h2.4M786 483h2.4M859 348h2.4M836 200h2.4M916 299h2.4M899 339h2.4M798 251h2.4M773 240h2.4M808 469h2.4M814 448h2.4M877 368h2.4M828 376h2.4M950 306h2.4M898 329h2.4M754 243h2.4M847 446h2.4M796 284h2.4M796 253h2.4M820 384h2.4M686 268h2.4M906 343h2.4M830 207h2.4M638 229h2.4M785 261h2.4M805 436h2.4M835 373h2.4M778 254h2.4M900 399h2.4M928 289h2.4M782 265h2.4M819 252h2.4M915 355h2.4M869 348h2.4M919 323h2.4M858 427h2.4M752 247h2.4M808 424h2.4M774 261h2.4M805 406h2.4M771 268h2.4M898 321h2.4M789 421h2.4M804 423h2.4M826 435h2.4M809 384h2.4M807 381h2.4M914 333h2.4M894 375h2.4M689 337h2.4M816 430h2.4M838 378h2.4M892 309h2.4M803 535h2.4M884 368h2.4M801 258h2.4M930 319h2.4M898 339h2.4M893 334h2.4M974 265h2.4M801 201h2.4M703 206h2.4M871 385h2.4M866 323h2.4M757 262h2.4M775 263h2.4M788 235h2.4M776 270h2.4M882 375h2.4M783 249h2.4M704 169h2.4M934 319h2.4M818 257h2.4M915 298h2.4M792 259h2.4M815 354h2.4M896 318h2.4M822 384h2.4M857 335h2.4M818 467h2.4M873 364h2.4M869 415h2.4M847 422h2.4M892 328h2.4M899 336h2.4M902 303h2.4M815 386h2.4M778 237h2.4M913 313h2.4M860 393h2.4M941 296h2.4M809 255h2.4M813 374h2.4M810 559h2.4M827 391h2.4M795 259h2.4M730 284h2.4M890 330h2.4M530 342h2.4M878 363h2.4M884 328h2.4M882 332h2.4M774 266h2.4M871 345h2.4M782 236h2.4M682 328h2.4M935 281h2.4M903 334h2.4M884 325h2.4M768 251h2.4M862 341h2.4M946 316h2.4M895 306h2.4M775 273h2.4M700 330h2.4M803 250h2.4M794 267h2.4M859 401h2.4M782 245h2.4M913 301h2.4M810 439h2.4M810 440h2.4M923 330h2.4M802 437h2.4M784 256h2.4M798 513h2.4M898 376h2.4M756 271h2.4M811 227h2.4M876 326h2.4M810 539h2.4M889 371h2.4M818 257h2.4M808 289h2.4M906 347h2.4M787 229h2.4M828 419h2.4M887 322h2.4M835 177h2.4M831 373h2.4M777 225h2.4M930 512h2.4M869 354h2.4M789 264h2.4M902 288h2.4M877 349h2.4M784 286h2.4M782 290h2.4M803 517h2.4M812 421h2.4M707 324h2.4M891 326h2.4M910 322h2.4M818 411h2.4M580 240h2.4M866 374h2.4M638 388h2.4M846 371h2.4M908 284h2.4M829 436h2.4M798 549h2.4M914 312h2.4M943 320h2.4M779 305h2.4M898 322h2.4M900 310h2.4M796 263h2.4M779 268h2.4M893 311h2.4M821 397h2.4M818 231h2.4M879 345h2.4M642 224h2.4M773 251h2.4M905 313h2.4M809 366h2.4M814 254h2.4M819 372h2.4M781 479h2.4M872 312h2.4M805 443h2.4M762 220h2.4M783 287h2.4M866 366h2.4M794 255h2.4M898 354h2.4M854 370h2.4M657 361h2.4M679 207h2.4M908 316h2.4M948 303h2.4M969 251h2.4M790 292h2.4M780 252h2.4M881 345h2.4M900 347h2.4M873 383h2.4M792 277h2.4M786 246h2.4M816 398h2.4M788 271h2.4M794 440h2.4M803 441h2.4M897 323h2.4M931 295h2.4M899 356h2.4M680 347h2.4M769 303h2.4M847 276h2.4M772 258h2.4M896 348h2.4M893 324h2.4M863 382h2.4M778 255h2.4M905 337h2.4M799 253h2.4M721 274h2.4M861 353h2.4M834 338h2.4M872 382h2.4M883 321h2.4M920 294h2.4M808 312h2.4M787 248h2.4M799 252h2.4M895 389h2.4M873 327h2.4M825 415h2.4M823 239h2.4M801 269h2.4M898 352h2.4M842 415h2.4M882 268h2.4M783 264h2.4M793 253h2.4M740 256h2.4M895 318h2.4M920 298h2.4M624 250h2.4M878 327h2.4M869 381h2.4M804 240h2.4M802 272h2.4M875 371h2.4M867 344h2.4M895 366h2.4M875 345h2.4M803 253h2.4M889 364h2.4M811 452h2.4M900 360h2.4M908 327h2.4M907 317h2.4M900 304h2.4M783 266h2.4M812 240h2.4M898 338h2.4M730 329h2.4M796 255h2.4M780 255h2.4M809 395h2.4M829 370h2.4M773 268h2.4M751 322h2.4M899 348h2.4M785 468h2.4M781 253h2.4M817 362h2.4M827 594h2.4M885 358h2.4M881 336h2.4M879 369h2.4M913 319h2.4M799 223h2.4M919 327h2.4M880 410h2.4M702 316h2.4M825 426h2.4M880 325h2.4M813 477h2.4M810 273h2.4M806 447h2.4M777 235h2.4M789 235h2.4M799 385h2.4M902 328h2.4M785 236h2.4M932 295h2.4M801 475h2.4M812 287h2.4M713 313h2.4M789 239h2.4M790 255h2.4M696 192h2.4M773 259h2.4M785 213h2.4M825 362h2.4M787 238h2.4M778 260h2.4M906 305h2.4M907 327h2.4M792 291h2.4M817 421h2.4M668 220h2.4M874 438h2.4M833 390h2.4M808 401h2.4M882 330h2.4M782 237h2.4M892 334h2.4M762 282h2.4M815 417h2.4M845 377h2.4M823 442h2.4M782 250h2.4M888 349h2.4M772 437h2.4M791 265h2.4M773 237h2.4M772 252h2.4M875 393h2.4M817 478h2.4M804 449h2.4M923 300h2.4M787 237h2.4M804 306h2.4M905 315h2.4M748 270h2.4M844 201h2.4M830 261h2.4M758 425h2.4M892 328h2.4M788 242h2.4M837 380h2.4M815 301h2.4M802 264h2.4M884 364h2.4M781 246h2.4M792 261h2.4M720 557h2.4M876 421h2.4M839 447h2.4M825 340h2.4M813 377h2.4M904 283h2.4M938 301h2.4M806 545h2.4M785 505h2.4M789 246h2.4M790 232h2.4M882 347h2.4M839 394h2.4M899 342h2.4M889 327h2.4M804 244h2.4M918 278h2.4M904 338h2.4M781 245h2.4M873 333h2.4M816 420h2.4M848 374h2.4M781 250h2.4M801 438h2.4M776 259h2.4M889 350h2.4M816 367h2.4M813 376h2.4M851 374h2.4M789 362h2.4M841 315h2.4M787 186h2.4M836 466h2.4M879 344h2.4M819 460h2.4M918 310h2.4M913 335h2.4M798 254h2.4M791 242h2.4M759 275h2.4M825 176h2.4M916 337h2.4M855 382h2.4M879 367h2.4M882 325h2.4M887 339h2.4M747 232h2.4M878 353h2.4M792 220h2.4M825 360h2.4M915 370h2.4M774 239h2.4M823 394h2.4M790 263h2.4M939 294h2.4M913 299h2.4M827 237h2.4M596 177h2.4M928 313h2.4M933 312h2.4M849 400h2.4M800 267h2.4M899 339h2.4M908 315h2.4M898 345h2.4M871 377h2.4M804 263h2.4M802 436h2.4M898 326h2.4M910 325h2.4M804 257h2.4M784 242h2.4M795 264h2.4M799 246h2.4M777 252h2.4M874 352h2.4M911 334h2.4M916 274h2.4M818 547h2.4M885 321h2.4M852 382h2.4M600 263h2.4M889 323h2.4M801 272h2.4M875 363h2.4M880 343h2.4M754 181h2.4M781 261h2.4M861 378h2.4M951 295h2.4M846 352h2.4M814 471h2.4M902 316h2.4M809 401h2.4M829 397h2.4M864 369h2.4M787 321h2.4M786 251h2.4M812 417h2.4M902 327h2.4M789 226h2.4M774 194h2.4M861 350h2.4M808 261h2.4M805 247h2.4M807 568h2.4M636 237h2.4M799 388h2.4M891 362h2.4M906 325h2.4M906 303h2.4M786 275h2.4M772 278h2.4M767 249h2.4M856 364h2.4M901 339h2.4M875 329h2.4M828 510h2.4M925 304h2.4M807 244h2.4M862 370h2.4M715 178h2.4M787 250h2.4M896 346h2.4M766 575h2.4M899 332h2.4M836 554h2.4M782 257h2.4M802 261h2.4M815 414h2.4M784 247h2.4M781 456h2.4M890 330h2.4M786 255h2.4M770 203h2.4M864 363h2.4M802 237h2.4M811 263h2.4M837 309h2.4M896 331h2.4M868 366h2.4M795 252h2.4M615 236h2.4M886 342h2.4M874 368h2.4M917 364h2.4M925 309h2.4M885 365h2.4M912 338h2.4M764 288h2.4M814 198h2.4M809 242h2.4M881 340h2.4M781 258h2.4M799 278h2.4M884 356h2.4M795 261h2.4M902 311h2.4M894 357h2.4M786 245h2.4M847 349h2.4M794 507h2.4M838 411h2.4M778 279h2.4M762 320h2.4M798 249h2.4M805 252h2.4M773 263h2.4M829 408h2.4M876 333h2.4M929 306h2.4M885 320h2.4M806 265h2.4M890 357h2.4M810 410h2.4M764 226h2.4M914 306h2.4M791 260h2.4M788 270h2.4M907 301h2.4M773 250h2.4M778 251h2.4M834 189h2.4M904 328h2.4M755 309h2.4M828 445h2.4M787 251h2.4M884 327h2.4M888 335h2.4M760 241h2.4M751 306h2.4M847 382h2.4M771 245h2.4M777 246h2.4M785 256h2.4M759 278h2.4M808 369h2.4M699 349h2.4M774 265h2.4M854 385h2.4M803 407h2.4M860 356h2.4M943 306h2.4M789 231h2.4M885 310h2.4M857 337h2.4M816 416h2.4M822 390h2.4M868 339h2.4M848 402h2.4M784 253h2.4M799 247h2.4M819 512h2.4M874 338h2.4M834 369h2.4M857 350h2.4M787 251h2.4M879 347h2.4M876 359h2.4M837 382h2.4M816 407h2.4M906 302h2.4M911 317h2.4M805 388h2.4M861 362h2.4M890 339h2.4M894 352h2.4M783 288h2.4M812 252h2.4M816 330h2.4M823 384h2.4M813 343h2.4M831 414h2.4M920 316h2.4M825 392h2.4M800 253h2.4M815 159h2.4M751 235h2.4M821 378h2.4M884 346h2.4M859 347h2.4M882 244h2.4M788 224h2.4M901 326h2.4M908 356h2.4M768 245h2.4M837 448h2.4M778 274h2.4M773 256h2.4M889 340h2.4M851 369h2.4M823 417h2.4M799 248h2.4M891 354h2.4M941 277h2.4M844 319h2.4M780 287h2.4M797 258h2.4M887 331h2.4M914 323h2.4M833 374h2.4M785 264h2.4M911 272h2.4M932 331h2.4M756 281h2.4M887 337h2.4M924 317h2.4M785 243h2.4M851 375h2.4M859 339h2.4M656 254h2.4M867 371h2.4M905 335h2.4M684 204h2.4M831 390h2.4M884 350h2.4M886 377h2.4M790 253h2.4M821 416h2.4M922 283h2.4M901 297h2.4M789 255h2.4M721 237h2.4M864 153h2.4M777 261h2.4M805 272h2.4M805 549h2.4M812 423h2.4M786 243h2.4M808 253h2.4M880 335h2.4M816 266h2.4M791 252h2.4M768 242h2.4M893 353h2.4M693 349h2.4M628 258h2.4M811 230h2.4M792 238h2.4M796 264h2.4M878 335h2.4M930 307h2.4M804 258h2.4M896 371h2.4M928 292h2.4M883 350h2.4M899 348h2.4M812 252h2.4M878 346h2.4M817 267h2.4M845 389h2.4M883 319h2.4M921 306h2.4M887 345h2.4M911 321h2.4M806 392h2.4M799 459h2.4M909 334h2.4M826 415h2.4M903 333h2.4M916 268h2.4M860 355h2.4M647 209h2.4M806 428h2.4M781 274h2.4M868 350h2.4M786 254h2.4M888 317h2.4M771 249h2.4M775 262h2.4M789 255h2.4M795 421h2.4M936 306h2.4M926 324h2.4M786 220h2.4M853 333h2.4M936 293h2.4M898 322h2.4M935 292h2.4M782 237h2.4M836 362h2.4M778 272h2.4M793 235h2.4M821 403h2.4M772 240h2.4M796 239h2.4M859 400h2.4M773 243h2.4M817 419h2.4M856 404h2.4M794 245h2.4M878 318h2.4M861 322h2.4M801 474h2.4M900 309h2.4M815 400h2.4M879 389h2.4M790 245h2.4M871 356h2.4M890 313h2.4M791 234h2.4M787 255h2.4M898 374h2.4M882 360h2.4M878 346h2.4M802 250h2.4M823 391h2.4M907 313h2.4M756 256h2.4M919 303h2.4M876 337h2.4M922 340h2.4M825 379h2.4M783 235h2.4M902 319h2.4M931 272h2.4M833 405h2.4M887 333h2.4M797 249h2.4M886 339h2.4M777 260h2.4M895 343h2.4M786 272h2.4M923 337h2.4M847 382h2.4M771 239h2.4M910 316h2.4M800 241h2.4M719 347h2.4M924 290h2.4M801 429h2.4M875 358h2.4M760 249h2.4M809 373h2.4M669 225h2.4M894 322h2.4M829 192h2.4M775 296h2.4M887 344h2.4M636 256h2.4M790 257h2.4M907 330h2.4M907 321h2.4M899 348h2.4M905 341h2.4M779 254h2.4M887 335h2.4M902 340h2.4M795 272h2.4M865 343h2.4M806 568h2.4M789 220h2.4M875 386h2.4M798 310h2.4M912 297h2.4M776 255h2.4M896 325h2.4M782 255h2.4M870 309h2.4M932 286h2.4M878 360h2.4M798 247h2.4M901 311h2.4M870 365h2.4M921 315h2.4M849 404h2.4M823 268h2.4M860 362h2.4M799 238h2.4M771 259h2.4M814 443h2.4M797 214h2.4M885 352h2.4M834 285h2.4M797 291h2.4M756 187h2.4M922 302h2.4M854 379h2.4M874 352h2.4M789 221h2.4M828 387h2.4M787 259h2.4M800 426h2.4M913 336h2.4M809 442h2.4M789 426h2.4M918 296h2.4M747 300h2.4M815 294h2.4M812 387h2.4M801 416h2.4M878 351h2.4M792 243h2.4M942 288h2.4M821 384h2.4M868 373h2.4M946 287h2.4M791 256h2.4M914 322h2.4M799 436h2.4M838 347h2.4M762 275h2.4M788 252h2.4M900 351h2.4M878 323h2.4M778 247h2.4M933 312h2.4M893 315h2.4M816 389h2.4M832 222h2.4M915 328h2.4M881 350h2.4M632 263h2.4M784 269h2.4M834 358h2.4M875 340h2.4M809 256h2.4M903 332h2.4M893 333h2.4M878 363h2.4M919 313h2.4M793 263h2.4M815 391h2.4M800 255h2.4M889 349h2.4M908 326h2.4M870 341h2.4M937 334h2.4M677 246h2.4M648 394h2.4M903 337h2.4M808 501h2.4M795 418h2.4M787 272h2.4M595 460h2.4M919 275h2.4M818 385h2.4M911 338h2.4M896 333h2.4M781 230h2.4M808 247h2.4M887 332h2.4M908 325h2.4M879 343h2.4M822 477h2.4M922 317h2.4M825 374h2.4M818 447h2.4M806 356h2.4M777 240h2.4M695 332h2.4M874 371h2.4M889 291h2.4M792 241h2.4M773 245h2.4M924 343h2.4M811 555h2.4M656 367h2.4M768 276h2.4M788 211h2.4M914 348h2.4M729 208h2.4M790 246h2.4M842 359h2.4M857 363h2.4M909 313h2.4M812 449h2.4M861 354h2.4M880 325h2.4M874 338h2.4M798 259h2.4M791 262h2.4M901 305h2.4M792 281h2.4M807 404h2.4M886 337h2.4M803 292h2.4M785 274h2.4M928 295h2.4M778 225h2.4M785 280h2.4M898 305h2.4M788 229h2.4M653 212h2.4M781 257h2.4M908 338h2.4M871 366h2.4M878 441h2.4M791 272h2.4M767 265h2.4M790 284h2.4M800 248h2.4M884 329h2.4M918 282h2.4M787 250h2.4M926 283h2.4M837 212h2.4M791 243h2.4M926 303h2.4M905 318h2.4M871 351h2.4M893 351h2.4M751 238h2.4M815 402h2.4M817 433h2.4M820 579h2.4M823 402h2.4M786 235h2.4M877 349h2.4M879 329h2.4M885 351h2.4M812 414h2.4M795 434h2.4M709 329h2.4M928 302h2.4M800 237h2.4M825 430h2.4M849 351h2.4M901 309h2.4M792 242h2.4M892 339h2.4M675 218h2.4M811 387h2.4M826 425h2.4M920 320h2.4M805 425h2.4M914 326h2.4M792 242h2.4M865 426h2.4M762 289h2.4M896 437h2.4M910 304h2.4M851 254h2.4M797 263h2.4M801 275h2.4M777 268h2.4M939 327h2.4M922 304h2.4M904 353h2.4M764 269h2.4M776 233h2.4M824 472h2.4M928 302h2.4M800 405h2.4M825 397h2.4M824 423h2.4M799 233h2.4M793 304h2.4M801 260h2.4M877 345h2.4M829 387h2.4M773 249h2.4M833 184h2.4M811 360h2.4M843 214h2.4M924 322h2.4M898 323h2.4M913 276h2.4M894 319h2.4M802 414h2.4M931 304h2.4M811 448h2.4M910 314h2.4M802 472h2.4M891 321h2.4M893 313h2.4M828 421h2.4M876 343h2.4M929 328h2.4M906 342h2.4M792 236h2.4M770 252h2.4M816 430h2.4M823 418h2.4M826 312h2.4M805 465h2.4M896 329h2.4M899 354h2.4M785 264h2.4M885 365h2.4M894 348h2.4M874 323h2.4M858 392h2.4M806 454h2.4M877 347h2.4M899 349h2.4M791 435h2.4M902 329h2.4M616 252h2.4M802 399h2.4M745 290h2.4M788 241h2.4M778 256h2.4M787 273h2.4M701 232h2.4M806 239h2.4M767 265h2.4M889 338h2.4M926 288h2.4M808 458h2.4M924 289h2.4M810 297h2.4M672 244h2.4M810 246h2.4M782 289h2.4M713 321h2.4M871 326h2.4M804 401h2.4M826 409h2.4M853 392h2.4M826 216h2.4M802 249h2.4M874 341h2.4M871 329h2.4M795 474h2.4M789 280h2.4M868 338h2.4M877 326h2.4M873 352h2.4M865 362h2.4M861 375h2.4M798 420h2.4M815 411h2.4M634 367h2.4M927 294h2.4M774 261h2.4M887 334h2.4M788 263h2.4M771 238h2.4M596 221h2.4M819 406h2.4M863 371h2.4M916 350h2.4M842 384h2.4M886 327h2.4M788 206h2.4M767 264h2.4M802 394h2.4M851 415h2.4M951 276h2.4M817 442h2.4M902 323h2.4M916 313h2.4M813 185h2.4M809 250h2.4M792 263h2.4M880 341h2.4M787 272h2.4M781 256h2.4M771 251h2.4M902 323h2.4M781 269h2.4M679 180h2.4M892 357h2.4M795 249h2.4M890 390h2.4M884 353h2.4M831 398h2.4M788 264h2.4M689 221h2.4M840 184h2.4M893 301h2.4M791 274h2.4M864 400h2.4M871 341h2.4M905 307h2.4M801 438h2.4M907 280h2.4M805 584h2.4M769 283h2.4M763 263h2.4M915 299h2.4M879 356h2.4M901 302h2.4M951 352h2.4M620 228h2.4M842 400h2.4M793 258h2.4M711 215h2.4M810 377h2.4M889 352h2.4M889 352h2.4M784 242h2.4M820 411h2.4M869 368h2.4M796 235h2.4M909 349h2.4M871 338h2.4M852 371h2.4M653 242h2.4M892 326h2.4M794 242h2.4M787 269h2.4M792 430h2.4M813 414h2.4M826 168h2.4M917 296h2.4M855 358h2.4M922 335h2.4M911 295h2.4M788 255h2.4M917 296h2.4M700 236h2.4M849 361h2.4M821 543h2.4M776 280h2.4M884 322h2.4M838 380h2.4M817 352h2.4M923 340h2.4M831 367h2.4M792 266h2.4M915 317h2.4M794 258h2.4M880 331h2.4M774 250h2.4M757 224h2.4M788 254h2.4M828 220h2.4M797 243h2.4M791 433h2.4M869 330h2.4M880 348h2.4M760 212h2.4M903 302h2.4M664 250h2.4M917 307h2.4M891 334h2.4M904 336h2.4M848 366h2.4M883 579h2.4M788 282h2.4M858 374h2.4M790 265h2.4M789 469h2.4M814 221h2.4M886 334h2.4M782 293h2.4M889 332h2.4M779 274h2.4M907 344h2.4M787 241h2.4M799 395h2.4M819 457h2.4M883 312h2.4M843 367h2.4M736 269h2.4M883 290h2.4M878 335h2.4M610 199h2.4M865 362h2.4M893 321h2.4M770 258h2.4M812 422h2.4M814 429h2.4M906 347h2.4M782 263h2.4M827 391h2.4M882 362h2.4M857 363h2.4M744 235h2.4M790 257h2.4M803 438h2.4M882 357h2.4M788 272h2.4M793 263h2.4M818 235h2.4M859 377h2.4M818 440h2.4M891 310h2.4M865 353h2.4M884 359h2.4M763 238h2.4M902 344h2.4M900 321h2.4M899 333h2.4M806 217h2.4M815 226h2.4M827 430h2.4M812 568h2.4M890 347h2.4M798 248h2.4M894 340h2.4M788 254h2.4M776 290h2.4M927 270h2.4M787 271h2.4M787 294h2.4M900 322h2.4M805 251h2.4M778 249h2.4M915 303h2.4M657 363h2.4M793 299h2.4M816 409h2.4M691 344h2.4M846 421h2.4M818 453h2.4M813 459h2.4M787 303h2.4M818 297h2.4M789 246h2.4M558 234h2.4M797 404h2.4M917 330h2.4M771 255h2.4M824 418h2.4M890 362h2.4M811 441h2.4M810 405h2.4M768 255h2.4M857 378h2.4M922 322h2.4M974 285h2.4M814 386h2.4M791 421h2.4M778 265h2.4M910 307h2.4M792 260h2.4M858 341h2.4M788 186h2.4M755 383h2.4M814 442h2.4M909 327h2.4M872 339h2.4M827 457h2.4M680 215h2.4M882 354h2.4M835 579h2.4M925 311h2.4M893 378h2.4M835 388h2.4M778 252h2.4M899 328h2.4M867 364h2.4M856 369h2.4M831 244h2.4M767 270h2.4M797 241h2.4M801 438h2.4M807 438h2.4M778 252h2.4M767 277h2.4M882 347h2.4M795 215h2.4M795 280h2.4M772 277h2.4M783 240h2.4M884 366h2.4M806 430h2.4M815 393h2.4M863 346h2.4M883 327h2.4M890 342h2.4M742 288h2.4M792 249h2.4M865 454h2.4M856 432h2.4M671 233h2.4M919 310h2.4M565 243h2.4M892 311h2.4M952 277h2.4M892 310h2.4M704 237h2.4M875 347h2.4M630 173h2.4M868 322h2.4M804 248h2.4M793 430h2.4M816 426h2.4M831 380h2.4M790 286h2.4M780 262h2.4M812 428h2.4M803 250h2.4M811 411h2.4M848 394h2.4M880 324h2.4M804 430h2.4M815 402h2.4M885 315h2.4M855 359h2.4M789 282h2.4M796 265h2.4M783 268h2.4M885 361h2.4M864 368h2.4M802 287h2.4M801 380h2.4M781 248h2.4M814 416h2.4M906 306h2.4M796 207h2.4M874 352h2.4M897 335h2.4M900 323h2.4M791 239h2.4M785 263h2.4M895 351h2.4M939 331h2.4M919 349h2.4M891 337h2.4M915 305h2.4M889 349h2.4M864 392h2.4M918 309h2.4M778 260h2.4M900 350h2.4M894 325h2.4M891 334h2.4M786 220h2.4M795 260h2.4M779 260h2.4M927 310h2.4M891 332h2.4M892 334h2.4M779 267h2.4M859 374h2.4M848 398h2.4M713 282h2.4M881 334h2.4M652 224h2.4M613 218h2.4M854 364h2.4M884 338h2.4M784 230h2.4M866 365h2.4M932 270h2.4M900 304h2.4M814 427h2.4M881 360h2.4M812 250h2.4M852 470h2.4M863 362h2.4M827 264h2.4M907 341h2.4M789 435h2.4M778 235h2.4M938 273h2.4M856 363h2.4M904 343h2.4M774 272h2.4M644 198h2.4M840 385h2.4M751 301h2.4M915 316h2.4M823 433h2.4M779 279h2.4M776 266h2.4M733 262h2.4M908 339h2.4M829 398h2.4M789 248h2.4M787 251h2.4M800 381h2.4M859 374h2.4M786 427h2.4M910 347h2.4M598 214h2.4M909 320h2.4M765 259h2.4M764 223h2.4M793 259h2.4M799 239h2.4M909 296h2.4M793 219h2.4M834 395h2.4M796 271h2.4M801 282h2.4M769 235h2.4M889 335h2.4M872 395h2.4M962 288h2.4M788 235h2.4M662 213h2.4M906 338h2.4M846 353h2.4M648 166h2.4M901 336h2.4M893 374h2.4M766 267h2.4M804 411h2.4M813 417h2.4M910 331h2.4M822 446h2.4M860 378h2.4M793 266h2.4M904 321h2.4M904 333h2.4M777 241h2.4M893 293h2.4M790 381h2.4M676 220h2.4M860 399h2.4M814 268h2.4M823 407h2.4M782 248h2.4M902 308h2.4M791 321h2.4M954 295h2.4M930 298h2.4M921 313h2.4M787 456h2.4M806 393h2.4M914 324h2.4M817 558h2.4M799 253h2.4M883 427h2.4M837 473h2.4M891 330h2.4M888 254h2.4M908 306h2.4M818 447h2.4M892 316h2.4M798 451h2.4M843 370h2.4M895 349h2.4M785 258h2.4M783 262h2.4M679 263h2.4M823 181h2.4M799 474h2.4M956 292h2.4M880 347h2.4M811 247h2.4M831 408h2.4M777 233h2.4M900 330h2.4M804 270h2.4M777 239h2.4M802 242h2.4M840 373h2.4M797 249h2.4M793 467h2.4M866 363h2.4M817 429h2.4M799 406h2.4M821 254h2.4M868 373h2.4M933 265h2.4M622 235h2.4M931 320h2.4M837 444h2.4M909 344h2.4M870 364h2.4M898 337h2.4M897 351h2.4M907 369h2.4M816 221h2.4M927 296h2.4M892 351h2.4M917 321h2.4M798 296h2.4M707 274h2.4M894 358h2.4M872 320h2.4M887 328h2.4M848 435h2.4M943 275h2.4M873 359h2.4M783 250h2.4M837 405h2.4M684 344h2.4M794 230h2.4M787 272h2.4M770 268h2.4M917 307h2.4M914 360h2.4M783 263h2.4M816 260h2.4M893 329h2.4M784 429h2.4M910 335h2.4M893 362h2.4M802 388h2.4M814 421h2.4M785 251h2.4M800 239h2.4M871 344h2.4M933 312h2.4M915 310h2.4M891 376h2.4M774 233h2.4M828 396h2.4M928 326h2.4M915 300h2.4M829 362h2.4M869 356h2.4M808 448h2.4M837 429h2.4M891 339h2.4M911 314h2.4M789 259h2.4M788 572h2.4M827 385h2.4M815 446h2.4M799 271h2.4M779 279h2.4M908 321h2.4M822 183h2.4M755 270h2.4M826 446h2.4M925 301h2.4M864 321h2.4M874 337h2.4M816 434h2.4M599 243h2.4M790 274h2.4M797 291h2.4M944 275h2.4M777 259h2.4M878 364h2.4M810 437h2.4M826 413h2.4M883 382h2.4M744 262h2.4M913 290h2.4M908 325h2.4M846 358h2.4M816 415h2.4M807 413h2.4M798 251h2.4M920 344h2.4M820 402h2.4M923 267h2.4M790 250h2.4M793 403h2.4M808 413h2.4M874 348h2.4M877 360h2.4M818 439h2.4M772 297h2.4M846 346h2.4M837 383h2.4M785 259h2.4M919 307h2.4M760 243h2.4M790 281h2.4M829 359h2.4M886 326h2.4M782 266h2.4M815 244h2.4M800 465h2.4M911 314h2.4M875 338h2.4M893 334h2.4M828 420h2.4M918 310h2.4M832 464h2.4M845 382h2.4M860 402h2.4M907 314h2.4M859 360h2.4M811 333h2.4M886 344h2.4M796 258h2.4M916 300h2.4M794 229h2.4M696 184h2.4M907 320h2.4M787 259h2.4M732 223h2.4M878 354h2.4M867 359h2.4M788 271h2.4M889 363h2.4M841 365h2.4M802 430h2.4M899 339h2.4M924 301h2.4M713 202h2.4M850 369h2.4M801 382h2.4M818 412h2.4M792 505h2.4M907 313h2.4M922 318h2.4M783 247h2.4M856 223h2.4M876 376h2.4M785 259h2.4M877 342h2.4M893 358h2.4M778 443h2.4M844 375h2.4M861 354h2.4M866 366h2.4M890 344h2.4M886 322h2.4M787 266h2.4M824 243h2.4M790 234h2.4M796 265h2.4M900 344h2.4M914 338h2.4M774 245h2.4M903 310h2.4M875 341h2.4M817 363h2.4M810 304h2.4M889 343h2.4M775 251h2.4M804 195h2.4M861 371h2.4M881 328h2.4M803 480h2.4M907 280h2.4M812 450h2.4M803 445h2.4M791 457h2.4M844 360h2.4M863 358h2.4M893 311h2.4M844 389h2.4M783 241h2.4M922 324h2.4M770 250h2.4M768 284h2.4M759 244h2.4M784 242h2.4M782 264h2.4M809 450h2.4M783 246h2.4M923 273h2.4M816 386h2.4M794 264h2.4M810 394h2.4M809 422h2.4M813 451h2.4M901 312h2.4M811 239h2.4M794 250h2.4M794 444h2.4M777 253h2.4M951 316h2.4M886 344h2.4M669 361h2.4M804 403h2.4M939 321h2.4M870 346h2.4M893 351h2.4M803 308h2.4M902 305h2.4M873 327h2.4M866 373h2.4M792 361h2.4M771 249h2.4M797 259h2.4M801 445h2.4M858 359h2.4M908 295h2.4M789 243h2.4M802 468h2.4M799 308h2.4M905 339h2.4M782 268h2.4M888 367h2.4M791 400h2.4M853 394h2.4M790 256h2.4M760 294h2.4M906 298h2.4M781 265h2.4M888 339h2.4M905 299h2.4M792 263h2.4M780 272h2.4M878 354h2.4M685 322h2.4M823 270h2.4M864 205h2.4M889 337h2.4M894 341h2.4M970 316h2.4M820 420h2.4M925 320h2.4M787 260h2.4M809 371h2.4M912 321h2.4M903 312h2.4"/>
</g>
<polygon points="722.3,380.4 908.6,232.3 990.5,384.1 827.6,520" fill="none" stroke="#111" stroke-width="3.6" stroke-linejoin="miter"/>
<line x1="968.0" y1="329.3" x2="1140.0" y2="329.3" stroke="#000" stroke-width="4.5" stroke-linecap="butt"/>
<path d="M1206.3 329.3 L1130 316.5 L1141 329.3 L1130 342.5 Z" fill="#000"/>
<rect x="1056.5" y="139.0" width="653.0" height="479.5" fill="none" stroke="#4a4a4a" stroke-width="3"/>
<path d="M1058.0 617.0 C1081.7 616.9 1166.3 617.0 1200.0 616.5 C1233.7 616.0 1246.3 617.2 1260.0 614.0 C1273.7 610.8 1275.3 600.5 1282.0 597.0 C1288.7 593.5 1293.7 594.2 1300.0 593.0 C1306.3 591.8 1313.3 591.3 1320.0 590.0 C1326.7 588.7 1335.2 586.0 1340.0 585.0 C1344.8 584.0 1345.5 583.7 1349.0 584.0 C1352.5 584.3 1357.2 587.2 1361.0 587.0 C1364.8 586.8 1368.3 584.7 1372.0 583.0 C1375.7 581.3 1379.3 578.9 1383.0 577.0 C1386.7 575.1 1390.3 572.8 1394.0 571.5 C1397.7 570.2 1401.3 571.6 1405.0 569.0 C1408.7 566.4 1413.2 561.0 1416.0 556.0 C1418.8 551.0 1420.1 545.2 1422.0 539.0 C1423.9 532.8 1424.6 522.7 1427.6 519.0 C1430.6 515.3 1435.8 517.3 1440.0 517.0 C1444.2 516.7 1450.3 523.7 1453.0 517.0 C1455.7 510.3 1454.5 493.2 1456.0 477.0 C1457.5 460.8 1459.7 444.5 1462.0 420.0 C1464.3 395.5 1467.2 353.5 1470.0 330.0 C1472.8 306.5 1476.2 275.7 1479.0 279.0 C1481.8 282.3 1484.7 321.5 1487.0 350.0 C1489.3 378.5 1491.2 425.8 1493.0 450.0 C1494.8 474.2 1496.3 487.0 1498.0 495.0 C1499.7 503.0 1501.3 502.2 1503.0 498.0 C1504.7 493.8 1506.2 489.7 1508.0 470.0 C1509.8 450.3 1512.0 415.0 1514.0 380.0 C1516.0 345.0 1518.0 291.7 1520.0 260.0 C1522.0 228.3 1524.0 191.7 1526.0 190.0 C1528.0 188.3 1530.0 228.3 1532.0 250.0 C1534.0 271.7 1536.2 292.8 1538.0 320.0 C1539.8 347.2 1541.3 384.3 1543.0 413.0 C1544.7 441.7 1546.8 476.2 1548.0 492.0 C1549.2 507.8 1549.2 506.7 1550.0 508.0 C1550.8 509.3 1552.0 506.3 1553.0 500.0 C1554.0 493.7 1554.5 484.5 1556.0 470.0 C1557.5 455.5 1560.0 432.2 1562.0 413.0 C1564.0 393.8 1565.8 369.5 1568.0 355.0 C1570.2 340.5 1572.7 326.8 1575.0 326.0 C1577.3 325.2 1579.8 335.5 1582.0 350.0 C1584.2 364.5 1585.8 393.0 1588.0 413.0 C1590.2 433.0 1592.5 451.2 1595.0 470.0 C1597.5 488.8 1600.0 510.2 1603.0 526.0 C1606.0 541.8 1609.3 553.2 1613.0 565.0 C1616.7 576.8 1620.5 589.2 1625.0 597.0 C1629.5 604.8 1634.2 608.7 1640.0 612.0 C1645.8 615.3 1650.0 616.1 1660.0 617.0 C1670.0 617.9 1693.3 617.4 1700.0 617.5 L1700 618 L1058 618 Z" fill="#b2b2b2" stroke="none"/>
<path d="M1058.0 606.0 C1058.7 607.3 1055.0 612.5 1062.0 614.0 C1069.0 615.5 1077.0 615.2 1100.0 615.0 C1123.0 614.8 1173.3 613.8 1200.0 613.0 C1226.7 612.2 1243.3 610.8 1260.0 610.0 C1276.7 609.2 1287.0 609.0 1300.0 608.0 C1313.0 607.0 1329.8 604.5 1338.0 604.0 C1346.2 603.5 1344.3 609.3 1349.0 605.0 C1353.7 600.7 1361.1 586.2 1366.0 578.0 C1370.9 569.8 1374.7 561.5 1378.4 556.0 C1382.2 550.5 1384.8 544.0 1388.5 544.7 C1392.2 545.4 1397.5 562.2 1400.8 560.3 C1404.1 558.4 1406.6 542.7 1408.6 533.5 C1410.6 524.3 1411.3 522.2 1413.0 505.0 C1414.7 487.8 1416.1 463.5 1419.0 430.0 C1421.9 396.5 1427.1 312.7 1430.4 304.0 C1433.7 295.3 1435.5 346.7 1439.0 378.0 C1442.5 409.3 1447.3 487.8 1451.5 492.0 C1455.7 496.2 1460.2 446.8 1464.0 403.0 C1467.8 359.2 1471.5 267.5 1474.0 229.0 C1476.5 190.5 1477.3 174.0 1479.0 172.0 C1480.7 170.0 1481.5 182.7 1484.0 217.0 C1486.5 251.3 1491.2 329.7 1494.0 378.0 C1496.8 426.3 1498.5 498.7 1501.0 507.0 C1503.5 515.3 1506.5 452.5 1509.0 428.0 C1511.5 403.5 1513.8 374.2 1516.0 360.0 C1518.2 345.8 1519.5 341.3 1522.0 343.0 C1524.5 344.7 1528.3 349.7 1531.0 370.0 C1533.7 390.3 1535.5 436.7 1538.0 465.0 C1540.5 493.3 1543.5 521.3 1546.0 540.0 C1548.5 558.7 1550.2 574.2 1553.0 577.0 C1555.8 579.8 1559.7 562.3 1563.0 557.0 C1566.3 551.7 1569.2 544.2 1573.0 545.0 C1576.8 545.8 1581.3 555.0 1585.5 562.0 C1589.7 569.0 1593.4 580.3 1598.0 587.0 C1602.6 593.7 1607.2 597.7 1613.0 602.0 C1618.8 606.3 1627.2 610.6 1633.0 613.0 C1638.8 615.4 1635.7 615.8 1648.0 616.6 C1660.3 617.4 1697.2 617.8 1707.0 618.0" fill="none" stroke="#e8262a" stroke-width="3.8" stroke-linejoin="round"/>
<path d="M1058.0 604.0 C1058.7 605.7 1055.0 612.2 1062.0 614.0 C1069.0 615.8 1077.0 615.0 1100.0 615.0 C1123.0 615.0 1172.8 614.2 1200.0 614.0 C1227.2 613.8 1248.0 614.3 1263.0 614.0 C1278.0 613.7 1281.2 612.4 1290.0 612.0 C1298.8 611.6 1308.0 614.2 1316.0 611.7 C1324.0 609.2 1332.5 599.6 1338.0 597.0 C1343.5 594.4 1345.2 598.2 1349.0 596.0 C1352.8 593.8 1356.8 592.5 1360.6 584.0 C1364.4 575.5 1368.5 560.7 1371.7 545.0 C1374.9 529.3 1377.5 502.3 1380.0 490.0 C1382.5 477.7 1384.2 469.8 1387.0 471.0 C1389.8 472.2 1394.2 488.6 1397.0 497.5 C1399.8 506.4 1401.5 523.9 1404.0 524.6 C1406.5 525.4 1409.5 526.4 1412.0 502.0 C1414.5 477.6 1416.6 419.3 1419.0 378.0 C1421.4 336.7 1424.3 286.2 1426.6 254.0 C1428.9 221.8 1430.7 185.0 1432.8 185.0 C1434.9 185.0 1436.3 217.7 1439.0 254.0 C1441.7 290.3 1446.3 366.2 1449.0 403.0 C1451.7 439.8 1452.7 475.0 1455.2 475.0 C1457.7 475.0 1460.9 444.0 1464.0 403.0 C1467.1 362.0 1471.5 267.5 1474.0 229.0 C1476.5 190.5 1477.3 174.0 1479.0 172.0 C1480.7 170.0 1481.5 182.7 1484.0 217.0 C1486.5 251.3 1491.2 332.1 1494.0 378.0 C1496.8 423.9 1498.5 484.2 1501.0 492.5 C1503.5 500.8 1506.5 451.2 1509.0 428.0 C1511.5 404.8 1513.6 369.4 1516.0 353.5 C1518.4 337.6 1521.0 330.3 1523.5 332.4 C1526.0 334.5 1528.6 343.9 1531.0 366.0 C1533.4 388.1 1535.5 436.0 1538.0 465.0 C1540.5 494.0 1543.5 521.3 1546.0 540.0 C1548.5 558.7 1550.2 574.2 1553.0 577.0 C1555.8 579.8 1559.7 562.4 1563.0 557.0 C1566.3 551.6 1569.2 543.8 1573.0 544.6 C1576.8 545.4 1581.3 554.9 1585.5 562.0 C1589.7 569.1 1593.4 580.3 1598.0 587.0 C1602.6 593.7 1607.2 597.7 1613.0 602.0 C1618.8 606.3 1627.2 610.6 1633.0 613.0 C1638.8 615.4 1635.7 615.8 1648.0 616.6 C1660.3 617.4 1697.2 617.8 1707.0 618.0" fill="none" stroke="#3a2ad0" stroke-width="4" stroke-linejoin="round"/>
<text x="1360.0" y="181.0" font-family="'Liberation Serif', 'Times New Roman', serif" font-size="47.0" font-weight="normal" fill="#000" text-anchor="start" stroke="#000" stroke-width="1">CFSElow</text>
<path d="M1331 182.3H1558.2M1331 171V195M1558.2 171V195" stroke="#111" stroke-width="4.5" fill="none"/>
<text x="1070.5" y="667.0" font-family="'Liberation Sans', Arial, sans-serif" font-size="22.0" fill="#444" stroke="#444" stroke-width="0.9" letter-spacing="2">10<tspan dy="-17" font-size="23.0">0</tspan></text>
<text x="1206.5" y="667.0" font-family="'Liberation Sans', Arial, sans-serif" font-size="22.0" fill="#444" stroke="#444" stroke-width="0.9" letter-spacing="2">10<tspan dy="-17" font-size="23.0">1</tspan></text>
<text x="1361.5" y="667.0" font-family="'Liberation Sans', Arial, sans-serif" font-size="22.0" fill="#444" stroke="#444" stroke-width="0.9" letter-spacing="2">10<tspan dy="-17" font-size="23.0">2</tspan></text>
<text x="1511.5" y="667.0" font-family="'Liberation Sans', Arial, sans-serif" font-size="22.0" fill="#444" stroke="#444" stroke-width="0.9" letter-spacing="2">10<tspan dy="-17" font-size="23.0">3</tspan></text>
<text x="1634.0" y="667.0" font-family="'Liberation Sans', Arial, sans-serif" font-size="22.0" fill="#444" stroke="#444" stroke-width="0.9" letter-spacing="2">10<tspan dy="-17" font-size="23.0">4</tspan></text>
<text x="1331.0" y="702.0" font-family="'Liberation Serif', 'Times New Roman', serif" font-size="47.0" font-weight="normal" fill="#000" text-anchor="start" >CFSE</text>
<path d="M823.5 1210.0 V1043.2 Q823.5 1043.2 823.5 1043.2 H950.5 Q950.5 1043.2 950.5 1043.2 V1210.0 Z" fill="#d3d3d3"/>
<path d="M1016.2 1210.0 V915.2 Q1016.2 915.2 1016.2 915.2 H1142.8 Q1142.8 915.2 1142.8 915.2 V1210.0 Z" fill="#0000fe"/>
<path d="M1208.8 1210.0 V903.3 Q1208.8 903.3 1208.8 903.3 H1335.2 Q1335.2 903.3 1335.2 903.3 V1210.0 Z" fill="#fe0000"/>
<path d="M851.0 1023.0H923.0M887.0 1023.0V1052.0" stroke="#000" stroke-width="5.0" fill="none"/>
<path d="M790.5 822.2V1210.0M773.0 1210.0H1370.0" stroke="#000" stroke-width="5.0" fill="none"/>
<path d="M771.5 1210.0H790.5 M771.5 1132.9H790.5 M771.5 1055.9H790.5 M771.5 978.8H790.5 M771.5 901.8H790.5 M771.5 824.7H790.5 M887.0 1210.0V1236.0 M1079.5 1210.0V1236.0 M1272.0 1210.0V1236.0" stroke="#000" stroke-width="5.0" fill="none"/>
<text x="765.0" y="1227.0" font-family="'Liberation Sans', Arial, sans-serif" font-size="48.0" font-weight="bold" fill="#000" text-anchor="end" >0</text>
<text x="765.0" y="1149.9" font-family="'Liberation Sans', Arial, sans-serif" font-size="48.0" font-weight="bold" fill="#000" text-anchor="end" >20</text>
<text x="765.0" y="1072.9" font-family="'Liberation Sans', Arial, sans-serif" font-size="48.0" font-weight="bold" fill="#000" text-anchor="end" >40</text>
<text x="765.0" y="995.8" font-family="'Liberation Sans', Arial, sans-serif" font-size="48.0" font-weight="bold" fill="#000" text-anchor="end" >60</text>
<text x="765.0" y="918.8" font-family="'Liberation Sans', Arial, sans-serif" font-size="48.0" font-weight="bold" fill="#000" text-anchor="end" >80</text>
<text x="765.0" y="841.7" font-family="'Liberation Sans', Arial, sans-serif" font-size="48.0" font-weight="bold" fill="#000" text-anchor="end" >100</text>
<text x="889.0" y="1281.0" font-family="'Liberation Sans', Arial, sans-serif" font-size="46.0" font-weight="bold" fill="#111" text-anchor="middle" >PBS</text>
<text x="1080.5" y="1281.0" font-family="'Liberation Sans', Arial, sans-serif" font-size="46.0" font-weight="bold" fill="#111" text-anchor="middle" >LTA</text>
<text x="1274.0" y="1281.0" font-family="'Liberation Sans', Arial, sans-serif" font-size="46.0" font-weight="bold" fill="#111" text-anchor="middle" >LPS</text>
<text transform="translate(657.0,1011.5) rotate(-90)" font-family="'Liberation Sans', Arial, sans-serif" font-size="44.2" font-weight="bold" text-anchor="middle" fill="#000">T CD4+ CFSElow (%)</text>
<path d="M883.5 832.8H1269.0M883.5 815.7V850.8M1269.0 815.7V850.8" stroke="#222" stroke-width="3.0" fill="none"/>
<text x="1056.0" y="833.0" font-family="'Liberation Sans', Arial, sans-serif" font-size="52.0" font-weight="bold" fill="#333" text-anchor="middle" >**</text>
<path d="M883.5 881.8H1086.6M883.5 865.3V899.5M1086.6 865.3V899.5" stroke="#222" stroke-width="3.0" fill="none"/>
<text x="987.5" y="879.0" font-family="'Liberation Sans', Arial, sans-serif" font-size="52.0" font-weight="bold" fill="#333" text-anchor="middle" >**</text>
<rect x="1043" y="912" width="71.5" height="6" fill="#000"/>
<rect x="1234" y="900" width="73" height="5.5" fill="#000"/>
<path d="M386.0 1953.0 V1802.2 Q386.0 1798.2 390.0 1798.2 H519.0 Q523.0 1798.2 523.0 1802.2 V1953.0 Z" fill="#000"/>
<path d="M578.5 1953.0 V1847.5 Q578.5 1843.5 582.5 1843.5 H711.5 Q715.5 1843.5 715.5 1847.5 V1953.0 Z" fill="#a0a0a3"/>
<path d="M774.8 1953.0 V1649.4 Q774.8 1645.4 778.8 1645.4 H907.8 Q911.8 1645.4 911.8 1649.4 V1953.0 Z" fill="#808080"/>
<path d="M418.0 1785.5H488.0M453.0 1785.5V1806.0" stroke="#000" stroke-width="6.0" fill="none"/>
<path d="M613.0 1831.7H681.0M647.0 1831.7V1851.0" stroke="#000" stroke-width="6.0" fill="none"/>
<path d="M809.0 1638.5H877.0M843.0 1638.5V1653.0" stroke="#000" stroke-width="6.0" fill="none"/>
<path d="M357.0 1559.2V1953.0M336.0 1953.0H944.0" stroke="#000" stroke-width="5.5" fill="none"/>
<path d="M337.0 1953.0H357.0 M337.0 1822.7H357.0 M337.0 1692.3H357.0 M337.0 1562.0H357.0 M454.5 1953.0V1973.0 M647.0 1953.0V1973.0 M843.3 1953.0V1973.0" stroke="#000" stroke-width="5.5" fill="none"/>
<text x="325.0" y="1966.5" font-family="'Liberation Sans', Arial, sans-serif" font-size="46.5" font-weight="bold" fill="#000" text-anchor="end" >0</text>
<text x="325.0" y="1836.2" font-family="'Liberation Sans', Arial, sans-serif" font-size="46.5" font-weight="bold" fill="#000" text-anchor="end" >50</text>
<text x="325.0" y="1705.8" font-family="'Liberation Sans', Arial, sans-serif" font-size="46.5" font-weight="bold" fill="#000" text-anchor="end" >100</text>
<text x="325.0" y="1575.5" font-family="'Liberation Sans', Arial, sans-serif" font-size="46.5" font-weight="bold" fill="#000" text-anchor="end" >150</text>
<text x="446.0" y="2017.0" font-family="'Liberation Sans', Arial, sans-serif" font-size="48.5" font-weight="normal" fill="#111" text-anchor="middle" stroke="#111" stroke-width="1.3">PBS</text>
<text x="643.0" y="2017.0" font-family="'Liberation Sans', Arial, sans-serif" font-size="48.5" font-weight="normal" fill="#111" text-anchor="middle" stroke="#111" stroke-width="1.3" letter-spacing="3.5">LTA</text>
<text x="834.0" y="2017.0" font-family="'Liberation Sans', Arial, sans-serif" font-size="48.5" font-weight="normal" fill="#111" text-anchor="middle" stroke="#111" stroke-width="1.3">LPS</text>
<text transform="translate(219.0,1754.6) rotate(-90)" font-family="'Liberation Sans', Arial, sans-serif" font-size="47.0" font-weight="bold" text-anchor="middle" fill="#000">pg/ml</text>
<text x="650.0" y="1470.8" font-family="'Liberation Sans', Arial, sans-serif" font-size="57.0" font-weight="bold" fill="#000" text-anchor="middle" >IFN-γ</text>
<path d="M446.0 1570.5H823.5M446.0 1551.6V1589.0M823.5 1551.6V1589.0" stroke="#222" stroke-width="3.2" fill="none"/>
<text x="623.8" y="1569.0" font-family="'Liberation Sans', Arial, sans-serif" font-size="36" fill="#444" text-anchor="middle" letter-spacing="4.5">***</text>
<path d="M449.0 1675.8H645.6M449.0 1661.6V1694.0M645.6 1661.6V1694.0" stroke="#222" stroke-width="3.2" fill="none"/>
<text x="549.5" y="1662.0" font-family="'Liberation Sans', Arial, sans-serif" font-size="47.0" font-weight="normal" fill="#333" text-anchor="middle" letter-spacing="5">ns</text>
<path d="M1296.2 1945.6 V1872.6 Q1296.2 1868.6 1300.2 1868.6 H1428.8 Q1432.8 1868.6 1432.8 1872.6 V1945.6 Z" fill="#000"/>
<path d="M1683.5 1945.6 V1620.8 Q1683.5 1616.8 1687.5 1616.8 H1816.0 Q1820.0 1616.8 1820.0 1620.8 V1945.6 Z" fill="#808080"/>
<path d="M1719.5 1606.7H1787.5M1753.5 1606.7V1627.0" stroke="#000" stroke-width="6.0" fill="none"/>
<path d="M1266.5 1554.5V1945.6M1248.0 1945.6H1850.0" stroke="#000" stroke-width="5.5" fill="none"/>
<path d="M1246.5 1945.6H1266.5 M1246.5 1816.2H1266.5 M1246.5 1686.7H1266.5 M1246.5 1557.3H1266.5 M1364.5 1945.6V1965.6 M1556.0 1945.6V1965.6 M1751.7 1945.6V1965.6" stroke="#000" stroke-width="5.5" fill="none"/>
<text x="1242.0" y="1959.1" font-family="'Liberation Sans', Arial, sans-serif" font-size="46.5" font-weight="bold" fill="#000" text-anchor="end" >0</text>
<text x="1242.0" y="1829.7" font-family="'Liberation Sans', Arial, sans-serif" font-size="46.5" font-weight="bold" fill="#000" text-anchor="end" >2</text>
<text x="1242.0" y="1700.2" font-family="'Liberation Sans', Arial, sans-serif" font-size="46.5" font-weight="bold" fill="#000" text-anchor="end" >4</text>
<text x="1242.0" y="1570.8" font-family="'Liberation Sans', Arial, sans-serif" font-size="46.5" font-weight="bold" fill="#000" text-anchor="end" >6</text>
<text x="1311.0 1343.4 1378.8" y="2013.6" font-family="'Liberation Sans', Arial, sans-serif" font-size="48.0" font-weight="bold" fill="#111" >PBS</text>
<text x="1506.4 1541.0 1568.0" y="2013.6" font-family="'Liberation Sans', Arial, sans-serif" font-size="48.0" font-weight="bold" fill="#111" >LTA</text>
<text x="1698.5 1729.0 1767.8" y="2013.6" font-family="'Liberation Sans', Arial, sans-serif" font-size="48.0" font-weight="bold" fill="#111" >LPS</text>
<text transform="translate(1182.0,1751.5) rotate(-90)" font-family="'Liberation Sans', Arial, sans-serif" font-size="47.0" font-weight="bold" text-anchor="middle" fill="#000">pg/ml</text>
<text x="1558.0" y="1469.5" font-family="'Liberation Sans', Arial, sans-serif" font-size="55.0" font-weight="bold" fill="#000" text-anchor="middle" >IL-5</text>
<path d="M1366.0 1563.0H1730.5M1366.0 1545.6V1580.4M1730.5 1545.6V1580.4" stroke="#222" stroke-width="3.2" fill="none"/>
<text x="1533.2" y="1565.5" font-family="'Liberation Sans', Arial, sans-serif" font-size="36" fill="#444" text-anchor="middle" letter-spacing="4.5">***</text>
<text x="1549.5" y="1925.5" font-family="'Liberation Sans', Arial, sans-serif" font-size="47.0" font-weight="normal" fill="#333" text-anchor="middle" letter-spacing="3">nd</text>
<path d="M386.8 2716.0 V2480.0 Q386.8 2476.0 390.8 2476.0 H519.8 Q523.8 2476.0 523.8 2480.0 V2716.0 Z" fill="#000"/>
<path d="M578.3 2716.0 V2656.1 Q578.3 2652.1 582.3 2652.1 H711.3 Q715.3 2652.1 715.3 2656.1 V2716.0 Z" fill="#a0a0a3"/>
<path d="M775.0 2716.0 V2473.5 Q775.0 2469.5 779.0 2469.5 H908.0 Q912.0 2469.5 912.0 2473.5 V2716.0 Z" fill="#808080"/>
<path d="M613.0 2653.0H683.0M648.0 2653.0V2660.0" stroke="#000" stroke-width="6.0" fill="none"/>
<path d="M809.5 2467.6H877.5M843.5 2467.6V2477.0" stroke="#000" stroke-width="6.0" fill="none"/>
<path d="M357.0 2325.2V2716.0M335.0 2716.0H945.0" stroke="#000" stroke-width="5.5" fill="none"/>
<path d="M337.0 2716.0H357.0 M337.0 2586.7H357.0 M337.0 2457.3H357.0 M337.0 2328.0H357.0 M455.3 2716.0V2736.0 M646.8 2716.0V2736.0 M843.5 2716.0V2736.0" stroke="#000" stroke-width="5.5" fill="none"/>
<text x="325.3" y="2729.5" font-family="'Liberation Sans', Arial, sans-serif" font-size="46.5" font-weight="bold" fill="#000" text-anchor="end" >0</text>
<text x="325.3" y="2600.2" font-family="'Liberation Sans', Arial, sans-serif" font-size="46.5" font-weight="bold" fill="#000" text-anchor="end" >50</text>
<text x="325.3" y="2470.8" font-family="'Liberation Sans', Arial, sans-serif" font-size="46.5" font-weight="bold" fill="#000" text-anchor="end" >100</text>
<text x="325.3" y="2341.5" font-family="'Liberation Sans', Arial, sans-serif" font-size="46.5" font-weight="bold" fill="#000" text-anchor="end" >150</text>
<text x="453.6" y="2780.0" font-family="'Liberation Sans', Arial, sans-serif" font-size="48.5" font-weight="normal" fill="#111" text-anchor="middle" stroke="#111" stroke-width="1.3">PBS</text>
<text x="647.1" y="2780.0" font-family="'Liberation Sans', Arial, sans-serif" font-size="48.5" font-weight="normal" fill="#111" text-anchor="middle" stroke="#111" stroke-width="1.3" letter-spacing="3.0">LTA</text>
<text x="841.5" y="2780.0" font-family="'Liberation Sans', Arial, sans-serif" font-size="48.5" font-weight="normal" fill="#111" text-anchor="middle" stroke="#111" stroke-width="1.3">LPS</text>
<text transform="translate(216.5,2521.0) rotate(-90)" font-family="'Liberation Sans', Arial, sans-serif" font-size="47.0" font-weight="bold" text-anchor="middle" fill="#000">pg/ml</text>
<text x="648.8" y="2244.8" font-family="'Liberation Sans', Arial, sans-serif" font-size="56.0" font-weight="bold" fill="#000" text-anchor="middle" >IL-13</text>
<path d="M459.3 2312.7H851.7M459.3 2295.3V2329.7M851.7 2295.3V2329.7" stroke="#222" stroke-width="3.2" fill="none"/>
<text x="634.0" y="2300.5" font-family="'Liberation Sans', Arial, sans-serif" font-size="47.0" font-weight="normal" fill="#333" text-anchor="middle" letter-spacing="5">ns</text>
<path d="M459.3 2392.3H642.6M459.3 2375.3V2408.8M642.6 2375.3V2408.8" stroke="#222" stroke-width="3.2" fill="none"/>
<text x="550.2" y="2392.0" font-family="'Liberation Sans', Arial, sans-serif" font-size="36" fill="#444" text-anchor="middle" letter-spacing="4.5">***</text>
<path d="M1327.5 2716.3 V2515.6 Q1327.5 2511.6 1331.5 2511.6 H1461.0 Q1465.0 2511.6 1465.0 2515.6 V2716.3 Z" fill="#000"/>
<path d="M1525.2 2716.3 V2414.9 Q1525.2 2410.9 1529.2 2410.9 H1658.8 Q1662.8 2410.9 1662.8 2414.9 V2716.3 Z" fill="#a0a0a3"/>
<path d="M1723.2 2716.3 V2473.7 Q1723.2 2469.7 1727.2 2469.7 H1856.8 Q1860.8 2469.7 1860.8 2473.7 V2716.3 Z" fill="#808080"/>
<path d="M1559.0 2404.2H1629.0M1594.0 2404.2V2418.0" stroke="#000" stroke-width="6.0" fill="none"/>
<path d="M1759.7 2464.7H1827.7M1793.7 2464.7V2477.0" stroke="#000" stroke-width="6.0" fill="none"/>
<path d="M1297.5 2328.2V2716.3M1278.0 2716.3H1893.0" stroke="#000" stroke-width="5.5" fill="none"/>
<path d="M1277.5 2716.3H1297.5 M1277.5 2620.0H1297.5 M1277.5 2523.7H1297.5 M1277.5 2427.3H1297.5 M1277.5 2331.0H1297.5 M1396.2 2716.3V2736.3 M1594.0 2716.3V2736.3 M1792.0 2716.3V2736.3" stroke="#000" stroke-width="5.5" fill="none"/>
<text x="1268.3" y="2729.8" font-family="'Liberation Sans', Arial, sans-serif" font-size="46.5" font-weight="bold" fill="#000" text-anchor="end" >0</text>
<text x="1268.3" y="2633.5" font-family="'Liberation Sans', Arial, sans-serif" font-size="46.5" font-weight="bold" fill="#000" text-anchor="end" >20</text>
<text x="1268.3" y="2537.2" font-family="'Liberation Sans', Arial, sans-serif" font-size="46.5" font-weight="bold" fill="#000" text-anchor="end" >40</text>
<text x="1268.3" y="2440.8" font-family="'Liberation Sans', Arial, sans-serif" font-size="46.5" font-weight="bold" fill="#000" text-anchor="end" >60</text>
<text x="1268.3" y="2344.5" font-family="'Liberation Sans', Arial, sans-serif" font-size="46.5" font-weight="bold" fill="#000" text-anchor="end" >80</text>
<text x="1346.0 1375.0 1413.6" y="2780.3" font-family="'Liberation Sans', Arial, sans-serif" font-size="48.5" font-weight="normal" fill="#111" stroke="#111" stroke-width="1.3">PBS</text>
<text x="1546.0 1574.3 1606.0" y="2780.3" font-family="'Liberation Sans', Arial, sans-serif" font-size="48.5" font-weight="normal" fill="#111" stroke="#111" stroke-width="1.3">LTA</text>
<text x="1744.6 1770.4 1807.4" y="2780.3" font-family="'Liberation Sans', Arial, sans-serif" font-size="48.5" font-weight="normal" fill="#111" stroke="#111" stroke-width="1.3">LPS</text>
<text transform="translate(1182.0,2521.5) rotate(-90)" font-family="'Liberation Sans', Arial, sans-serif" font-size="47.0" font-weight="bold" text-anchor="middle" fill="#000">pg/ml</text>
<text x="1594.0" y="2244.4" font-family="'Liberation Sans', Arial, sans-serif" font-size="56.0" font-weight="bold" fill="#000" text-anchor="middle" >IL-17A</text>
<path d="M1383.6 2297.7H1783.0M1383.6 2281.7V2315.6M1783.0 2281.7V2315.6" stroke="#222" stroke-width="3.2" fill="none"/>
<text x="1565.2" y="2297.0" font-family="'Liberation Sans', Arial, sans-serif" font-size="36" fill="#444" text-anchor="middle" letter-spacing="4.5">*</text>
<path d="M1383.6 2350.5H1580.7M1383.6 2334.0V2368.9M1580.7 2334.0V2368.9" stroke="#222" stroke-width="3.2" fill="none"/>
<text x="1484.2" y="2353.0" font-family="'Liberation Sans', Arial, sans-serif" font-size="36" fill="#444" text-anchor="middle" letter-spacing="4.5">***</text>
</svg>
</body></html>
